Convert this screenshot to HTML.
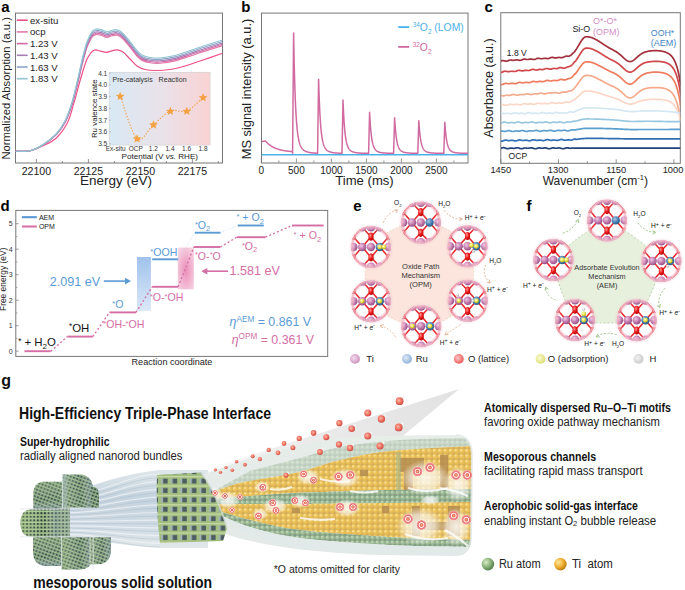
<!DOCTYPE html>
<html><head><meta charset="utf-8"><style>
html,body{margin:0;padding:0;background:#fff;width:685px;height:590px;overflow:hidden}
svg{display:block;font-family:"Liberation Sans",sans-serif}
</style></head><body>
<svg width="685" height="590" viewBox="0 0 685 590" font-family="Liberation Sans, sans-serif">
<rect width="685" height="590" fill="#fff"/>
<text x="1.2" y="11.8" font-size="15" fill="#000" text-anchor="start" font-weight="bold" >a</text>
<rect x="15.5" y="13.1" width="207" height="149.9" fill="none" stroke="#777" stroke-width="1"/>
<line x1="36.4" y1="163" x2="36.4" y2="159" stroke="#777" stroke-width="0.8"/>
<line x1="62.4" y1="163" x2="62.4" y2="161" stroke="#777" stroke-width="0.8"/>
<text x="36.4" y="175" font-size="10.6" fill="#222" text-anchor="middle" font-weight="normal" >22100</text>
<line x1="88.4" y1="163" x2="88.4" y2="159" stroke="#777" stroke-width="0.8"/>
<line x1="114.4" y1="163" x2="114.4" y2="161" stroke="#777" stroke-width="0.8"/>
<text x="88.4" y="175" font-size="10.6" fill="#222" text-anchor="middle" font-weight="normal" >22125</text>
<line x1="140.4" y1="163" x2="140.4" y2="159" stroke="#777" stroke-width="0.8"/>
<line x1="166.4" y1="163" x2="166.4" y2="161" stroke="#777" stroke-width="0.8"/>
<text x="140.4" y="175" font-size="10.6" fill="#222" text-anchor="middle" font-weight="normal" >22150</text>
<line x1="192.4" y1="163" x2="192.4" y2="159" stroke="#777" stroke-width="0.8"/>
<line x1="218.4" y1="163" x2="218.4" y2="161" stroke="#777" stroke-width="0.8"/>
<text x="192.4" y="175" font-size="10.6" fill="#222" text-anchor="middle" font-weight="normal" >22175</text>
<text x="116" y="185.3" font-size="13.5" fill="#222" text-anchor="middle" font-weight="normal" >Energy (eV)</text>
<text transform="translate(9.6,88.3) rotate(-90)" font-size="11.25" fill="#222" text-anchor="middle">Normalized Absorption (a.u.)</text>
<line x1="16.8" y1="20.2" x2="27.7" y2="20.2" stroke="#ee4f86" stroke-width="1.6"/>
<text x="30" y="23.7" font-size="9.6" fill="#222" text-anchor="start" font-weight="normal" >ex-situ</text>
<line x1="16.8" y1="31.9" x2="27.7" y2="31.9" stroke="#e37aa8" stroke-width="1.6"/>
<text x="30" y="35.4" font-size="9.6" fill="#222" text-anchor="start" font-weight="normal" >ocp</text>
<line x1="16.8" y1="43.599999999999994" x2="27.7" y2="43.599999999999994" stroke="#d36aa8" stroke-width="1.6"/>
<text x="30" y="47.099999999999994" font-size="9.6" fill="#222" text-anchor="start" font-weight="normal" >1.23 V</text>
<line x1="16.8" y1="55.3" x2="27.7" y2="55.3" stroke="#a67fb5" stroke-width="1.6"/>
<text x="30" y="58.8" font-size="9.6" fill="#222" text-anchor="start" font-weight="normal" >1.43 V</text>
<line x1="16.8" y1="67.0" x2="27.7" y2="67.0" stroke="#8da5c8" stroke-width="1.6"/>
<text x="30" y="70.5" font-size="9.6" fill="#222" text-anchor="start" font-weight="normal" >1.63 V</text>
<line x1="16.8" y1="78.7" x2="27.7" y2="78.7" stroke="#93c4d3" stroke-width="1.6"/>
<text x="30" y="82.2" font-size="9.6" fill="#222" text-anchor="start" font-weight="normal" >1.83 V</text>
<clipPath id="ca"><rect x="15.5" y="13" width="207" height="150"/></clipPath>
<g clip-path="url(#ca)" fill="none">
<path d="M15.50,151.20 C17.92,151.13 25.38,151.72 30.00,150.80 C34.62,149.88 38.80,147.83 43.20,145.70 C47.60,143.57 52.35,141.85 56.40,138.00 C60.45,134.15 64.57,128.48 67.50,122.60 C70.43,116.72 71.80,110.05 74.00,102.70 C76.20,95.35 78.48,85.85 80.70,78.50 C82.92,71.15 85.08,63.32 87.30,58.60 C89.52,53.88 91.80,51.43 94.00,50.20 C96.20,48.97 98.38,50.85 100.50,51.20 C102.62,51.55 104.78,52.37 106.70,52.30 C108.62,52.23 110.28,51.22 112.00,50.80 C113.72,50.38 115.17,49.60 117.00,49.80 C118.83,50.00 120.83,50.47 123.00,52.00 C125.17,53.53 127.67,56.67 130.00,59.00 C132.33,61.33 134.50,64.25 137.00,66.00 C139.50,67.75 142.00,68.75 145.00,69.50 C148.00,70.25 150.83,70.50 155.00,70.50 C159.17,70.50 165.00,70.25 170.00,69.50 C175.00,68.75 180.00,67.42 185.00,66.00 C190.00,64.58 193.75,63.12 200.00,61.00 C206.25,58.88 218.75,54.58 222.50,53.30" stroke="#ee4f86" stroke-width="1.2"/>
<path d="M15.50,151.20 C17.92,151.14 25.38,151.85 30.00,150.81 C34.62,149.77 38.80,147.66 43.20,144.96 C47.60,142.25 52.72,138.38 56.40,134.57 C60.08,130.77 62.72,126.98 65.30,122.11 C67.88,117.25 69.88,111.65 71.90,105.40 C73.92,99.16 75.57,91.92 77.40,84.64 C79.23,77.35 81.25,68.04 82.90,61.70 C84.55,55.36 85.78,50.70 87.30,46.60 C88.82,42.50 90.55,39.10 92.00,37.10 C93.45,35.10 94.50,34.92 96.00,34.60 C97.50,34.28 99.17,34.73 101.00,35.20 C102.83,35.67 105.17,37.30 107.00,37.40 C108.83,37.50 110.33,36.15 112.00,35.80 C113.67,35.45 115.33,34.92 117.00,35.30 C118.67,35.68 119.83,36.13 122.00,38.10 C124.17,40.07 127.50,44.10 130.00,47.10 C132.50,50.10 135.00,53.89 137.00,56.10 C139.00,58.31 139.83,59.27 142.00,60.38 C144.17,61.48 147.00,62.26 150.00,62.74 C153.00,63.21 155.83,63.52 160.00,63.21 C164.17,62.89 170.00,62.03 175.00,60.85 C180.00,59.66 185.00,57.72 190.00,56.10 C195.00,54.48 199.58,52.85 205.00,51.10 C210.42,49.35 219.58,46.52 222.50,45.60" stroke="#e37aa8" stroke-width="1.15"/>
<path d="M15.50,151.20 C17.92,151.13 25.38,151.86 30.00,150.81 C34.62,149.75 38.80,147.62 43.20,144.88 C47.60,142.13 52.72,138.21 56.40,134.35 C60.08,130.49 62.72,126.64 65.30,121.72 C67.88,116.79 69.88,111.11 71.90,104.78 C73.92,98.44 75.57,91.11 77.40,83.72 C79.23,76.34 81.25,66.87 82.90,60.47 C84.55,54.06 85.78,49.41 87.30,45.30 C88.82,41.19 90.55,37.80 92.00,35.80 C93.45,33.80 94.50,33.62 96.00,33.30 C97.50,32.98 99.17,33.43 101.00,33.90 C102.83,34.37 105.17,36.00 107.00,36.10 C108.83,36.20 110.33,34.85 112.00,34.50 C113.67,34.15 115.33,33.62 117.00,34.00 C118.67,34.38 119.83,34.83 122.00,36.80 C124.17,38.77 127.50,42.80 130.00,45.80 C132.50,48.80 135.00,52.58 137.00,54.80 C139.00,57.02 139.83,58.01 142.00,59.13 C144.17,60.25 147.00,61.04 150.00,61.52 C153.00,62.00 155.83,62.32 160.00,62.00 C164.17,61.68 170.00,60.81 175.00,59.61 C180.00,58.41 185.00,56.43 190.00,54.80 C195.00,53.17 199.58,51.55 205.00,49.80 C210.42,48.05 219.58,45.22 222.50,44.30" stroke="#d36aa8" stroke-width="1.15"/>
<path d="M15.50,151.20 C17.92,151.13 25.38,151.87 30.00,150.81 C34.62,149.74 38.80,147.57 43.20,144.79 C47.60,142.01 52.72,138.03 56.40,134.12 C60.08,130.21 62.72,126.31 65.30,121.32 C67.88,116.32 69.88,110.57 71.90,104.15 C73.92,97.73 75.57,90.29 77.40,82.81 C79.23,75.32 81.25,65.71 82.90,59.24 C84.55,52.77 85.78,48.12 87.30,44.00 C88.82,39.88 90.55,36.50 92.00,34.50 C93.45,32.50 94.50,32.32 96.00,32.00 C97.50,31.68 99.17,32.13 101.00,32.60 C102.83,33.07 105.17,34.70 107.00,34.80 C108.83,34.90 110.33,33.55 112.00,33.20 C113.67,32.85 115.33,32.32 117.00,32.70 C118.67,33.08 119.83,33.53 122.00,35.50 C124.17,37.47 127.50,41.50 130.00,44.50 C132.50,47.50 135.00,51.27 137.00,53.50 C139.00,55.73 139.83,56.75 142.00,57.88 C144.17,59.01 147.00,59.82 150.00,60.30 C153.00,60.79 155.83,61.11 160.00,60.79 C164.17,60.47 170.00,59.58 175.00,58.37 C180.00,57.15 185.00,55.14 190.00,53.50 C195.00,51.86 199.58,50.25 205.00,48.50 C210.42,46.75 219.58,43.92 222.50,43.00" stroke="#a67fb5" stroke-width="1.15"/>
<path d="M15.50,151.20 C17.92,151.13 25.38,151.89 30.00,150.80 C34.62,149.72 38.80,147.52 43.20,144.70 C47.60,141.87 52.72,137.83 56.40,133.86 C60.08,129.89 62.72,125.93 65.30,120.86 C67.88,115.79 69.88,109.94 71.90,103.42 C73.92,96.91 75.57,89.36 77.40,81.75 C79.23,74.15 81.25,64.36 82.90,57.82 C84.55,51.28 85.78,46.64 87.30,42.50 C88.82,38.36 90.55,35.00 92.00,33.00 C93.45,31.00 94.50,30.82 96.00,30.50 C97.50,30.18 99.17,30.63 101.00,31.10 C102.83,31.57 105.17,33.20 107.00,33.30 C108.83,33.40 110.33,32.05 112.00,31.70 C113.67,31.35 115.33,30.82 117.00,31.20 C118.67,31.58 119.83,32.03 122.00,34.00 C124.17,35.97 127.50,40.00 130.00,43.00 C132.50,46.00 135.00,49.76 137.00,52.00 C139.00,54.24 139.83,55.29 142.00,56.44 C144.17,57.59 147.00,58.41 150.00,58.90 C153.00,59.40 155.83,59.72 160.00,59.40 C164.17,59.07 170.00,58.16 175.00,56.93 C180.00,55.70 185.00,53.66 190.00,52.00 C195.00,50.34 199.58,48.75 205.00,47.00 C210.42,45.25 219.58,42.42 222.50,41.50" stroke="#8da5c8" stroke-width="1.15"/>
<path d="M15.50,151.20 C17.92,151.13 25.38,151.90 30.00,150.80 C34.62,149.70 38.80,147.47 43.20,144.60 C47.60,141.73 52.72,137.63 56.40,133.60 C60.08,129.57 62.72,125.55 65.30,120.40 C67.88,115.25 69.88,109.32 71.90,102.70 C73.92,96.08 75.57,88.42 77.40,80.70 C79.23,72.98 81.25,63.02 82.90,56.40 C84.55,49.78 85.78,45.15 87.30,41.00 C88.82,36.85 90.55,33.50 92.00,31.50 C93.45,29.50 94.50,29.32 96.00,29.00 C97.50,28.68 99.17,29.13 101.00,29.60 C102.83,30.07 105.17,31.70 107.00,31.80 C108.83,31.90 110.33,30.55 112.00,30.20 C113.67,29.85 115.33,29.32 117.00,29.70 C118.67,30.08 119.83,30.53 122.00,32.50 C124.17,34.47 127.50,38.50 130.00,41.50 C132.50,44.50 135.00,48.25 137.00,50.50 C139.00,52.75 139.83,53.83 142.00,55.00 C144.17,56.17 147.00,57.00 150.00,57.50 C153.00,58.00 155.83,58.33 160.00,58.00 C164.17,57.67 170.00,56.75 175.00,55.50 C180.00,54.25 185.00,52.17 190.00,50.50 C195.00,48.83 199.58,47.25 205.00,45.50 C210.42,43.75 219.58,40.92 222.50,40.00" stroke="#93c4d3" stroke-width="1.15"/>
</g>
<linearGradient id="ginset" x1="0" x2="1" y1="0" y2="0"><stop offset="0" stop-color="#d9e9f4"/><stop offset="0.5" stop-color="#e9e2ea"/><stop offset="1" stop-color="#f9d3d3"/></linearGradient>
<rect x="109.1" y="72.2" width="101" height="72.9" fill="url(#ginset)" stroke="#c8c8c8" stroke-width="0.5"/>
<text x="107.3" y="75.5" font-size="6.6" fill="#333" text-anchor="end" font-weight="normal" >4.1</text>
<line x1="109.1" y1="73.2" x2="111" y2="73.2" stroke="#999" stroke-width="0.5"/>
<text x="107.3" y="87.25" font-size="6.6" fill="#333" text-anchor="end" font-weight="normal" >4.0</text>
<line x1="109.1" y1="84.95" x2="111" y2="84.95" stroke="#999" stroke-width="0.5"/>
<text x="107.3" y="99.0" font-size="6.6" fill="#333" text-anchor="end" font-weight="normal" >3.9</text>
<line x1="109.1" y1="96.7" x2="111" y2="96.7" stroke="#999" stroke-width="0.5"/>
<text x="107.3" y="110.75" font-size="6.6" fill="#333" text-anchor="end" font-weight="normal" >3.8</text>
<line x1="109.1" y1="108.45" x2="111" y2="108.45" stroke="#999" stroke-width="0.5"/>
<text x="107.3" y="122.5" font-size="6.6" fill="#333" text-anchor="end" font-weight="normal" >3.7</text>
<line x1="109.1" y1="120.2" x2="111" y2="120.2" stroke="#999" stroke-width="0.5"/>
<text x="107.3" y="134.25" font-size="6.6" fill="#333" text-anchor="end" font-weight="normal" >3.6</text>
<line x1="109.1" y1="131.95" x2="111" y2="131.95" stroke="#999" stroke-width="0.5"/>
<text x="107.3" y="146.0" font-size="6.6" fill="#333" text-anchor="end" font-weight="normal" >3.5</text>
<line x1="109.1" y1="143.7" x2="111" y2="143.7" stroke="#999" stroke-width="0.5"/>
<text transform="translate(97.3,108.7) rotate(-90)" font-size="7.9" fill="#222" text-anchor="middle">Ru valence state</text>
<text x="115.7" y="151.2" font-size="6.5" fill="#333" text-anchor="middle" font-weight="normal" >Ex-situ</text>
<text x="135.7" y="151.2" font-size="6.5" fill="#333" text-anchor="middle" font-weight="normal" >OCP</text>
<text x="153.3" y="151.2" font-size="6.5" fill="#333" text-anchor="middle" font-weight="normal" >1.2</text>
<text x="170" y="151.2" font-size="6.5" fill="#333" text-anchor="middle" font-weight="normal" >1.4</text>
<text x="186.6" y="151.2" font-size="6.5" fill="#333" text-anchor="middle" font-weight="normal" >1.6</text>
<text x="203" y="151.2" font-size="6.5" fill="#333" text-anchor="middle" font-weight="normal" >1.8</text>
<text x="159.8" y="158.9" font-size="8.1" fill="#222" text-anchor="middle" font-weight="normal" >Potential (V <tspan font-style="italic">vs.</tspan> RHE)</text>
<text x="112.6" y="82.2" font-size="7.0" fill="#333" text-anchor="start" font-weight="normal" >Pre-catalysis</text>
<text x="158.6" y="82.2" font-size="7.1" fill="#333" text-anchor="start" font-weight="normal" >Reaction</text>
<path d="M120.20,96.10 C123.02,103.18 131.55,133.83 137.10,138.60 C142.65,143.37 147.95,129.30 153.50,124.70 C159.05,120.10 164.85,113.28 170.40,111.00 C175.95,108.72 181.35,113.28 186.80,111.00 C192.25,108.72 200.38,99.58 203.10,97.30" fill="none" stroke="#f4a04a" stroke-width="1.1" stroke-dasharray="1.4,1.6"/>
<polygon points="120.20,91.80 121.42,94.73 124.57,94.98 122.17,97.04 122.90,100.12 120.20,98.47 117.50,100.12 118.23,97.04 115.83,94.98 118.98,94.73" fill="#f5a042"/>
<polygon points="137.10,134.30 138.32,137.23 141.47,137.48 139.07,139.54 139.80,142.62 137.10,140.97 134.40,142.62 135.13,139.54 132.73,137.48 135.88,137.23" fill="#f5a042"/>
<polygon points="153.50,120.40 154.72,123.33 157.87,123.58 155.47,125.64 156.20,128.72 153.50,127.07 150.80,128.72 151.53,125.64 149.13,123.58 152.28,123.33" fill="#f5a042"/>
<polygon points="170.40,106.70 171.62,109.63 174.77,109.88 172.37,111.94 173.10,115.02 170.40,113.37 167.70,115.02 168.43,111.94 166.03,109.88 169.18,109.63" fill="#f5a042"/>
<polygon points="186.80,106.70 188.02,109.63 191.17,109.88 188.77,111.94 189.50,115.02 186.80,113.37 184.10,115.02 184.83,111.94 182.43,109.88 185.58,109.63" fill="#f5a042"/>
<polygon points="203.10,93.00 204.32,95.93 207.47,96.18 205.07,98.24 205.80,101.32 203.10,99.67 200.40,101.32 201.13,98.24 198.73,96.18 201.88,95.93" fill="#f5a042"/>
<text x="241.2" y="11.8" font-size="15" fill="#000" text-anchor="start" font-weight="bold" >b</text>
<rect x="261.5" y="13.1" width="206.5" height="149.9" fill="none" stroke="#777" stroke-width="1"/>
<line x1="261.4" y1="162.5" x2="261.4" y2="158.5" stroke="#777" stroke-width="0.8"/>
<line x1="278.9" y1="162.5" x2="278.9" y2="160.5" stroke="#777" stroke-width="0.8"/>
<text x="261.4" y="174.0" font-size="10.0" fill="#222" text-anchor="middle" font-weight="normal" >0</text>
<line x1="296.4" y1="162.5" x2="296.4" y2="158.5" stroke="#777" stroke-width="0.8"/>
<line x1="313.9" y1="162.5" x2="313.9" y2="160.5" stroke="#777" stroke-width="0.8"/>
<text x="296.4" y="174.0" font-size="10.0" fill="#222" text-anchor="middle" font-weight="normal" >500</text>
<line x1="331.4" y1="162.5" x2="331.4" y2="158.5" stroke="#777" stroke-width="0.8"/>
<line x1="348.9" y1="162.5" x2="348.9" y2="160.5" stroke="#777" stroke-width="0.8"/>
<text x="331.4" y="174.0" font-size="10.0" fill="#222" text-anchor="middle" font-weight="normal" >1000</text>
<line x1="366.4" y1="162.5" x2="366.4" y2="158.5" stroke="#777" stroke-width="0.8"/>
<line x1="383.9" y1="162.5" x2="383.9" y2="160.5" stroke="#777" stroke-width="0.8"/>
<text x="366.4" y="174.0" font-size="10.0" fill="#222" text-anchor="middle" font-weight="normal" >1500</text>
<line x1="401.4" y1="162.5" x2="401.4" y2="158.5" stroke="#777" stroke-width="0.8"/>
<line x1="418.9" y1="162.5" x2="418.9" y2="160.5" stroke="#777" stroke-width="0.8"/>
<text x="401.4" y="174.0" font-size="10.0" fill="#222" text-anchor="middle" font-weight="normal" >2000</text>
<line x1="436.4" y1="162.5" x2="436.4" y2="158.5" stroke="#777" stroke-width="0.8"/>
<line x1="453.9" y1="162.5" x2="453.9" y2="160.5" stroke="#777" stroke-width="0.8"/>
<text x="436.4" y="174.0" font-size="10.0" fill="#222" text-anchor="middle" font-weight="normal" >2500</text>
<text x="364.5" y="184.9" font-size="13.1" fill="#222" text-anchor="middle" font-weight="normal" >Time (ms)</text>
<text transform="translate(250.6,89) rotate(-90)" font-size="12.85" fill="#222" text-anchor="middle">MS signal intensity (a.u.)</text>
<line x1="398.2" y1="27.1" x2="409.2" y2="27.1" stroke="#4cb1e6" stroke-width="1.8"/>
<line x1="398.2" y1="46.9" x2="409.2" y2="46.9" stroke="#d06aa0" stroke-width="1.8"/>
<text x="412.7" y="31.2" font-size="10.4" fill="#4cb1e6"><tspan font-size="6.4" dy="-4">34</tspan><tspan dy="4">O</tspan><tspan font-size="6.4" dy="3">2</tspan><tspan dy="-3"> (LOM)</tspan></text>
<text x="412.7" y="51.0" font-size="10.4" fill="#d06aa0"><tspan font-size="6.4" dy="-4">32</tspan><tspan dy="4">O</tspan><tspan font-size="6.4" dy="3">2</tspan></text>
<clipPath id="cb"><rect x="261.5" y="13" width="206.5" height="149.5"/></clipPath>
<g clip-path="url(#cb)">
<polyline points="261.40,141.60 261.65,141.56 261.90,141.53 262.15,141.49 262.40,141.45 262.65,141.41 262.90,141.38 263.15,141.34 263.40,141.30 263.65,141.26 263.90,141.22 264.15,141.19 264.40,141.15 264.65,141.11 264.90,141.07 265.15,141.04 265.40,141.00 265.65,141.28 265.90,141.56 266.15,141.82 266.40,142.08 266.65,142.34 266.90,142.59 267.15,142.83 267.40,143.07 267.65,143.30 267.90,143.52 268.15,143.74 268.40,143.95 268.65,144.16 268.90,144.37 269.15,144.56 269.40,144.76 269.65,144.95 269.90,145.13 270.15,145.31 270.40,145.49 270.65,145.66 270.90,145.82 271.15,145.99 271.40,146.14 271.65,146.30 271.90,146.45 272.15,146.60 272.40,146.74 272.65,146.88 272.90,147.02 273.15,147.15 273.40,147.28 273.65,147.40 273.90,147.53 274.15,147.65 274.40,147.77 274.65,147.88 274.90,147.99 275.15,148.10 275.40,148.21 275.65,148.31 275.90,148.41 276.15,148.51 276.40,148.61 276.65,148.70 276.90,148.79 277.15,148.88 277.40,148.97 277.65,149.05 277.90,149.13 278.15,149.21 278.40,149.29 278.65,149.37 278.90,149.44 279.15,149.52 279.40,149.59 279.65,149.66 279.90,149.73 280.15,149.79 280.40,149.86 280.65,149.92 280.90,149.98 281.15,150.04 281.40,150.10 281.65,150.16 281.90,150.21 282.15,150.26 282.40,150.32 282.65,150.37 282.90,150.42 283.15,150.47 283.40,150.52 283.65,150.56 283.90,150.61 284.15,150.65 284.40,150.69 284.65,150.74 284.90,150.78 285.15,150.82 285.40,150.86 285.65,150.90 285.90,150.93 286.15,150.97 286.40,151.00 286.65,151.04 286.90,151.07 287.15,151.10 287.40,151.14 287.65,151.17 287.90,151.20 288.15,151.23 288.40,151.26 288.65,151.29 288.90,151.31 289.15,151.34 289.40,151.37 289.65,151.39 289.90,151.42 290.15,151.44 290.40,151.46 290.65,151.49 290.90,151.51 291.15,151.53 291.40,151.55 291.65,151.57 291.90,151.59 292.15,151.61 292.40,151.63 292.60,153.40 292.65,147.38 292.90,117.25 293.15,87.13 293.40,57.00 293.60,32.90 293.65,35.82 293.90,49.33 294.15,61.17 294.40,71.56 294.65,80.68 294.90,88.69 295.15,95.73 295.40,101.92 295.65,107.37 295.90,112.17 296.15,116.41 296.40,120.15 296.65,123.46 296.90,126.39 297.15,128.99 297.40,131.29 297.65,133.34 297.90,135.16 298.15,136.78 298.40,138.23 298.65,139.52 298.90,140.68 299.15,141.73 299.40,142.66 299.65,143.50 299.90,144.26 300.15,144.95 300.40,145.57 300.65,146.14 300.90,146.65 301.15,147.12 301.40,147.55 301.65,147.94 301.90,148.29 302.15,148.62 302.40,148.92 302.65,149.20 302.90,149.46 303.15,149.70 303.40,149.92 303.65,150.12 303.90,150.31 304.15,150.49 304.40,150.65 304.65,150.81 304.90,150.95 305.15,151.09 305.40,151.21 305.65,151.33 305.90,151.44 306.15,151.54 306.40,151.64 306.65,151.73 306.90,151.82 307.15,151.90 307.40,151.98 307.65,152.05 307.90,152.12 308.15,152.19 308.40,152.25 308.65,152.31 308.90,152.36 309.15,152.42 309.40,152.46 309.65,152.51 309.90,152.56 310.15,152.60 310.40,152.64 310.65,152.68 310.90,152.71 311.15,152.75 311.40,152.78 311.65,152.81 311.90,152.84 312.15,152.87 312.40,152.89 312.65,152.92 312.90,152.94 313.15,152.96 313.40,152.98 313.65,153.01 313.90,153.02 314.15,153.04 314.40,153.06 314.65,153.08 314.90,153.09 315.15,153.11 315.40,153.12 315.65,153.14 315.90,153.15 316.15,153.16 316.40,153.17 316.65,153.18 316.90,153.19 317.15,153.20 317.40,153.21 317.60,153.22 317.65,149.52 317.90,131.03 318.15,112.54 318.40,94.05 318.60,79.25 318.65,81.05 318.90,89.35 319.15,96.63 319.40,103.02 319.65,108.62 319.90,113.55 320.15,117.87 320.40,121.68 320.65,125.03 320.90,127.99 321.15,130.60 321.40,132.90 321.65,134.94 321.90,136.74 322.15,138.34 322.40,139.75 322.65,141.01 322.90,142.14 323.15,143.14 323.40,144.03 323.65,144.83 323.90,145.54 324.15,146.18 324.40,146.76 324.65,147.28 324.90,147.75 325.15,148.17 325.40,148.56 325.65,148.90 325.90,149.22 326.15,149.51 326.40,149.77 326.65,150.02 326.90,150.24 327.15,150.44 327.40,150.63 327.65,150.80 327.90,150.96 328.15,151.10 328.40,151.24 328.65,151.37 328.90,151.49 329.15,151.59 329.40,151.70 329.65,151.79 329.90,151.88 330.15,151.96 330.40,152.04 330.65,152.12 330.90,152.18 331.15,152.25 331.40,152.31 331.65,152.37 331.90,152.42 332.15,152.47 332.40,152.52 332.65,152.56 332.90,152.61 333.15,152.65 333.40,152.69 333.65,152.72 333.90,152.76 334.15,152.79 334.40,152.82 334.65,152.85 334.90,152.88 335.15,152.90 335.40,152.93 335.65,152.95 335.90,152.97 336.15,152.99 336.40,153.01 336.65,153.03 336.90,153.05 337.15,153.07 337.40,153.08 337.65,153.10 337.90,153.11 338.15,153.13 338.40,153.14 338.65,153.15 338.90,153.17 339.15,153.18 339.40,153.19 339.65,153.20 339.90,153.21 340.15,153.22 340.40,153.23 340.65,153.24 340.90,153.24 341.15,153.25 341.40,153.26 341.65,153.27 341.90,153.27 342.00,153.27 342.15,145.28 342.40,131.96 342.65,118.65 342.90,105.33 343.00,100.00 343.15,103.78 343.40,109.45 343.65,114.43 343.90,118.79 344.15,122.62 344.40,125.99 344.65,128.95 344.90,131.56 345.15,133.86 345.40,135.88 345.65,137.67 345.90,139.24 346.15,140.64 346.40,141.88 346.65,142.97 346.90,143.95 347.15,144.81 347.40,145.59 347.65,146.27 347.90,146.89 348.15,147.44 348.40,147.93 348.65,148.37 348.90,148.77 349.15,149.13 349.40,149.46 349.65,149.75 349.90,150.01 350.15,150.26 350.40,150.48 350.65,150.68 350.90,150.86 351.15,151.03 351.40,151.18 351.65,151.32 351.90,151.45 352.15,151.57 352.40,151.68 352.65,151.79 352.90,151.88 353.15,151.97 353.40,152.05 353.65,152.13 353.90,152.20 354.15,152.27 354.40,152.33 354.65,152.39 354.90,152.44 355.15,152.50 355.40,152.54 355.65,152.59 355.90,152.63 356.15,152.67 356.40,152.71 356.65,152.75 356.90,152.78 357.15,152.81 357.40,152.84 357.65,152.87 357.90,152.90 358.15,152.92 358.40,152.95 358.65,152.97 358.90,152.99 359.15,153.01 359.40,153.03 359.65,153.05 359.90,153.07 360.15,153.08 360.40,153.10 360.65,153.11 360.90,153.13 361.15,153.14 361.40,153.15 361.65,153.17 361.90,153.18 362.15,153.19 362.40,153.20 362.65,153.21 362.90,153.22 363.15,153.23 363.40,153.24 363.65,153.24 363.90,153.25 364.15,153.26 364.40,153.27 364.65,153.27 364.90,153.28 365.15,153.28 365.40,153.29 365.65,153.30 365.90,153.30 366.15,153.31 366.40,153.31 366.65,153.31 366.90,153.32 367.15,153.32 367.40,153.33 367.65,153.33 367.90,153.33 368.15,153.34 368.40,153.34 368.60,153.34 368.65,151.29 368.90,141.02 369.15,130.74 369.40,120.47 369.60,112.25 369.65,113.25 369.90,117.86 370.15,121.90 370.40,125.45 370.65,128.56 370.90,131.29 371.15,133.69 371.40,135.81 371.65,137.67 371.90,139.31 372.15,140.76 372.40,142.03 372.65,143.16 372.90,144.16 373.15,145.05 373.40,145.84 373.65,146.54 373.90,147.16 374.15,147.71 374.40,148.21 374.65,148.65 374.90,149.05 375.15,149.40 375.40,149.72 375.65,150.01 375.90,150.27 376.15,150.51 376.40,150.72 376.65,150.91 376.90,151.09 377.15,151.25 377.40,151.39 377.65,151.53 377.90,151.65 378.15,151.76 378.40,151.87 378.65,151.96 378.90,152.05 379.15,152.13 379.40,152.21 379.65,152.28 379.90,152.34 380.15,152.40 380.40,152.46 380.65,152.51 380.90,152.56 381.15,152.61 381.40,152.65 381.65,152.69 381.90,152.73 382.15,152.76 382.40,152.80 382.65,152.83 382.90,152.86 383.15,152.89 383.40,152.91 383.65,152.94 383.90,152.96 384.15,152.98 384.40,153.01 384.65,153.03 384.90,153.04 385.15,153.06 385.40,153.08 385.65,153.10 385.90,153.11 386.15,153.12 386.40,153.14 386.65,153.15 386.90,153.16 387.15,153.18 387.40,153.19 387.65,153.20 387.90,153.21 388.15,153.22 388.40,153.23 388.65,153.23 388.90,153.24 389.15,153.25 389.40,153.26 389.65,153.26 389.90,153.27 390.15,153.28 390.40,153.28 390.65,153.29 390.90,153.29 391.15,153.30 391.40,153.30 391.65,153.31 391.90,153.31 392.15,153.32 392.40,153.32 392.65,153.33 392.90,153.33 393.15,153.33 393.40,153.34 393.60,153.34 393.65,151.56 393.90,142.69 394.15,133.82 394.40,124.95 394.60,117.85 394.65,118.71 394.90,122.69 395.15,126.18 395.40,129.25 395.65,131.94 395.90,134.30 396.15,136.37 396.40,138.20 396.65,139.81 396.90,141.22 397.15,142.47 397.40,143.58 397.65,144.55 397.90,145.42 398.15,146.18 398.40,146.86 398.65,147.47 398.90,148.00 399.15,148.48 399.40,148.91 399.65,149.29 399.90,149.64 400.15,149.94 400.40,150.22 400.65,150.47 400.90,150.69 401.15,150.90 401.40,151.08 401.65,151.25 401.90,151.40 402.15,151.54 402.40,151.66 402.65,151.78 402.90,151.89 403.15,151.98 403.40,152.07 403.65,152.16 403.90,152.23 404.15,152.30 404.40,152.37 404.65,152.43 404.90,152.48 405.15,152.54 405.40,152.59 405.65,152.63 405.90,152.67 406.15,152.71 406.40,152.75 406.65,152.79 406.90,152.82 407.15,152.85 407.40,152.88 407.65,152.91 407.90,152.93 408.15,152.96 408.40,152.98 408.65,153.00 408.90,153.02 409.15,153.04 409.40,153.06 409.65,153.08 409.90,153.09 410.15,153.11 410.40,153.12 410.65,153.14 410.90,153.15 411.15,153.16 411.40,153.17 411.65,153.18 411.90,153.20 412.15,153.21 412.40,153.22 412.65,153.22 412.90,153.23 413.15,153.24 413.40,153.25 413.65,153.26 413.90,153.26 414.15,153.27 414.40,153.28 414.65,153.28 414.90,153.29 415.15,153.29 415.40,153.30 415.65,153.30 415.90,153.31 416.15,153.31 416.40,153.32 416.65,153.32 416.90,153.33 417.15,153.33 417.40,153.33 417.65,153.34 417.80,153.34 417.90,150.07 418.15,141.90 418.40,133.72 418.65,125.55 418.80,120.65 418.90,122.22 419.15,125.79 419.40,128.92 419.65,131.67 419.90,134.08 420.15,136.20 420.40,138.07 420.65,139.71 420.90,141.15 421.15,142.42 421.40,143.55 421.65,144.54 421.90,145.42 422.15,146.19 422.40,146.88 422.65,147.49 422.90,148.04 423.15,148.52 423.40,148.95 423.65,149.34 423.90,149.68 424.15,149.99 424.40,150.27 424.65,150.52 424.90,150.74 425.15,150.95 425.40,151.13 425.65,151.29 425.90,151.45 426.15,151.58 426.40,151.71 426.65,151.82 426.90,151.93 427.15,152.02 427.40,152.11 427.65,152.19 427.90,152.27 428.15,152.34 428.40,152.40 428.65,152.46 428.90,152.51 429.15,152.57 429.40,152.61 429.65,152.66 429.90,152.70 430.15,152.74 430.40,152.77 430.65,152.81 430.90,152.84 431.15,152.87 431.40,152.90 431.65,152.92 431.90,152.95 432.15,152.97 432.40,152.99 432.65,153.02 432.90,153.04 433.15,153.05 433.40,153.07 433.65,153.09 433.90,153.10 434.15,153.12 434.40,153.13 434.65,153.15 434.90,153.16 435.15,153.17 435.40,153.18 435.65,153.19 435.90,153.20 436.15,153.21 436.40,153.22 436.65,153.23 436.90,153.24 437.15,153.25 437.40,153.26 437.65,153.26 437.90,153.27 438.15,153.28 438.40,153.28 438.65,153.29 438.90,153.29 439.15,153.30 439.40,153.30 439.65,153.31 439.90,153.31 440.15,153.32 440.40,153.32 440.65,153.32 440.90,153.33 441.15,153.33 441.40,153.34 441.65,153.34 441.90,153.34 442.15,153.34 442.40,153.35 442.65,153.35 442.90,153.35 443.15,153.35 443.40,153.36 443.65,153.36 443.80,153.36 443.90,150.24 444.15,142.44 444.40,134.64 444.65,126.85 444.80,122.17 444.90,123.66 445.15,127.07 445.40,130.06 445.65,132.68 445.90,134.98 446.15,137.00 446.40,138.78 446.65,140.34 446.90,141.72 447.15,142.94 447.40,144.01 447.65,144.95 447.90,145.79 448.15,146.53 448.40,147.19 448.65,147.77 448.90,148.29 449.15,148.75 449.40,149.16 449.65,149.53 449.90,149.86 450.15,150.15 450.40,150.42 450.65,150.65 450.90,150.87 451.15,151.06 451.40,151.24 451.65,151.40 451.90,151.54 452.15,151.67 452.40,151.79 452.65,151.90 452.90,152.00 453.15,152.09 453.40,152.17 453.65,152.25 453.90,152.32 454.15,152.39 454.40,152.45 454.65,152.50 454.90,152.56 455.15,152.61 455.40,152.65 455.65,152.69 455.90,152.73 456.15,152.77 456.40,152.80 456.65,152.84 456.90,152.87 457.15,152.90 457.40,152.92 457.65,152.95 457.90,152.97 458.15,152.99 458.40,153.01 458.65,153.03 458.90,153.05 459.15,153.07 459.40,153.09 459.65,153.10 459.90,153.12 460.15,153.13 460.40,153.15 460.65,153.16 460.90,153.17 461.15,153.18 461.40,153.19 461.65,153.20 461.90,153.21 462.15,153.22 462.40,153.23 462.65,153.24 462.90,153.25 463.15,153.26 463.40,153.26 463.65,153.27 463.90,153.28 464.15,153.28 464.40,153.29 464.65,153.29 464.90,153.30 465.15,153.30 465.40,153.31 465.65,153.31 465.90,153.32 466.15,153.32 466.40,153.32 466.65,153.33 466.90,153.33 467.15,153.34 467.40,153.34 467.65,153.34 467.90,153.34" fill="none" stroke="#d06aa0" stroke-width="1.5" stroke-linejoin="round"/>
<line x1="261.5" y1="154.8" x2="468" y2="154.8" stroke="#4cb1e6" stroke-width="1.6"/>
</g>
<text x="484.5" y="11.8" font-size="15" fill="#000" text-anchor="start" font-weight="bold" >c</text>
<rect x="500.8" y="12.7" width="179.5" height="150.6" fill="none" stroke="#777" stroke-width="1"/>
<line x1="500.8" y1="163.3" x2="500.8" y2="159.3" stroke="#777" stroke-width="0.8"/>
<line x1="529.65" y1="163.3" x2="529.65" y2="161.3" stroke="#777" stroke-width="0.8"/>
<line x1="558.5" y1="163.3" x2="558.5" y2="159.3" stroke="#777" stroke-width="0.8"/>
<line x1="587.35" y1="163.3" x2="587.35" y2="161.3" stroke="#777" stroke-width="0.8"/>
<line x1="616.2" y1="163.3" x2="616.2" y2="159.3" stroke="#777" stroke-width="0.8"/>
<line x1="645.0500000000001" y1="163.3" x2="645.0500000000001" y2="161.3" stroke="#777" stroke-width="0.8"/>
<line x1="673.9000000000001" y1="163.3" x2="673.9000000000001" y2="159.3" stroke="#777" stroke-width="0.8"/>
<line x1="702.7500000000001" y1="163.3" x2="702.7500000000001" y2="161.3" stroke="#777" stroke-width="0.8"/>
<text x="500.8" y="172.9" font-size="9.3" fill="#222" text-anchor="middle" font-weight="normal" >1450</text>
<text x="558.2" y="172.9" font-size="9.3" fill="#222" text-anchor="middle" font-weight="normal" >1300</text>
<text x="616.2" y="172.9" font-size="9.3" fill="#222" text-anchor="middle" font-weight="normal" >1150</text>
<text x="673" y="172.9" font-size="9.3" fill="#222" text-anchor="middle" font-weight="normal" >1000</text>
<text x="595.3" y="185.1" font-size="12.06" fill="#222" text-anchor="middle">Wavenumber (cm<tspan font-size="7.5" dy="-5">-1</tspan><tspan dy="5">)</tspan></text>
<text transform="translate(492.6,88) rotate(-90)" font-size="12.5" fill="#222" text-anchor="middle">Absorbance (a.u.)</text>
<text x="506.8" y="55.5" font-size="8.5" fill="#222" text-anchor="start" font-weight="normal" >1.8 V</text>
<text x="508.5" y="159.3" font-size="8.6" fill="#222" text-anchor="start" font-weight="normal" >OCP</text>
<text x="572.4" y="32.2" font-size="8.95" fill="#222" text-anchor="start" font-weight="normal" >Si-O</text>
<text x="593" y="24.0" font-size="9.0" fill="#d48fc6" text-anchor="start" font-weight="normal" >O*-O*</text>
<text x="593" y="34.8" font-size="9.0" fill="#d48fc6" text-anchor="start" font-weight="normal" >(OPM)</text>
<text x="650.8" y="35.7" font-size="8.8" fill="#3f86c6" text-anchor="start" font-weight="normal" >OOH*</text>
<text x="650.8" y="46.2" font-size="9.0" fill="#3f86c6" text-anchor="start" font-weight="normal" >(AEM)</text>
<clipPath id="cc"><rect x="500.8" y="12.7" width="179.5" height="150.6"/></clipPath>
<g clip-path="url(#cc)" fill="none">
<polyline points="500.80,60.93 501.30,60.82 501.80,60.71 502.30,60.64 502.80,60.63 503.30,60.66 503.80,60.75 504.30,60.88 504.80,61.01 505.30,61.13 505.80,61.20 506.30,61.21 506.80,61.15 507.30,61.01 507.80,60.83 508.30,60.61 508.80,60.40 509.30,60.21 509.80,60.08 510.30,60.01 510.80,60.01 511.30,60.06 511.80,60.14 512.30,60.22 512.80,60.29 513.30,60.32 513.80,60.30 514.30,60.24 514.80,60.14 515.30,60.03 515.80,59.94 516.30,59.87 516.80,59.85 517.30,59.89 517.80,59.97 518.30,60.09 518.80,60.21 519.30,60.30 519.80,60.36 520.30,60.34 520.80,60.26 521.30,60.11 521.80,59.91 522.30,59.69 522.80,59.48 523.30,59.30 523.80,59.18 524.30,59.12 524.80,59.13 525.30,59.20 525.80,59.29 526.30,59.40 526.80,59.48 527.30,59.52 527.80,59.51 528.30,59.45 528.80,59.36 529.30,59.26 529.80,59.16 530.30,59.10 530.80,59.07 531.30,59.10 531.80,59.18 532.30,59.27 532.80,59.38 533.30,59.46 533.80,59.49 534.30,59.46 534.80,59.36 535.30,59.19 535.80,58.99 536.30,58.77 536.80,58.56 537.30,58.39 537.80,58.28 538.30,58.25 538.80,58.28 539.30,58.36 539.80,58.47 540.30,58.59 540.80,58.68 541.30,58.73 541.80,58.73 542.30,58.68 542.80,58.59 543.30,58.48 543.80,58.38 544.30,58.31 544.80,58.28 545.30,58.30 545.80,58.36 546.30,58.44 546.80,58.53 547.30,58.59 547.80,58.60 548.30,58.55 548.80,58.44 549.30,58.27 549.80,58.06 550.30,57.85 550.80,57.65 551.30,57.49 551.80,57.41 552.30,57.39 552.80,57.44 553.30,57.55 553.80,57.68 554.30,57.80 554.80,57.90 555.30,57.96 555.80,57.96 556.30,57.90 556.80,57.81 557.30,57.69 557.80,57.58 558.30,57.50 558.80,57.45 559.30,57.46 559.80,57.50 560.30,57.56 560.80,57.63 561.30,57.66 561.80,57.65 562.30,57.58 562.80,57.44 563.30,57.25 563.80,57.02 564.30,56.78 564.80,56.56 565.30,56.38 565.80,56.25 566.30,56.19 566.80,56.19 567.30,56.21 567.80,56.24 568.30,56.25 568.80,56.21 569.30,56.08 569.80,55.88 570.30,55.58 570.80,55.21 571.30,54.79 571.80,54.34 572.30,53.87 572.80,53.40 573.30,52.94 573.80,52.47 574.30,51.99 574.80,51.46 575.30,50.59 575.80,49.89 576.30,49.16 576.80,48.39 577.30,47.59 577.80,46.76 578.30,45.92 578.80,45.07 579.30,44.21 579.80,43.36 580.30,42.52 580.80,41.71 581.30,40.92 581.80,40.19 582.30,39.50 582.80,38.88 583.30,38.32 583.80,37.84 584.30,37.45 584.80,37.14 585.30,36.93 585.80,36.81 586.30,36.77 586.80,36.76 587.30,36.77 587.80,36.80 588.30,36.85 588.80,36.91 589.30,36.99 589.80,37.09 590.30,37.21 590.80,37.34 591.30,37.49 591.80,37.65 592.30,37.83 592.80,38.03 593.30,38.24 593.80,38.46 594.30,38.69 594.80,38.94 595.30,39.20 595.80,39.47 596.30,39.74 596.80,40.03 597.30,40.33 597.80,40.63 598.30,40.94 598.80,41.25 599.30,41.57 599.80,41.89 600.30,42.22 600.80,42.55 601.30,42.88 601.80,43.21 602.30,43.54 602.80,43.88 603.30,44.21 603.80,44.54 604.30,44.86 604.80,45.19 605.30,45.51 605.80,45.83 606.30,46.14 606.80,46.45 607.30,46.76 607.80,47.06 608.30,47.35 608.80,47.64 609.30,47.93 609.80,48.21 610.30,48.49 610.80,48.77 611.30,49.04 611.80,49.31 612.30,49.58 612.80,49.85 613.30,50.12 613.80,50.39 614.30,50.67 614.80,50.95 615.30,51.24 615.80,51.54 616.30,51.84 616.80,52.16 617.30,52.49 617.80,52.84 618.30,53.20 618.80,53.58 619.30,53.97 619.80,54.37 620.30,54.80 620.80,55.23 621.30,55.68 621.80,56.14 622.30,56.61 622.80,57.08 623.30,57.55 623.80,58.02 624.30,58.48 624.80,58.92 625.30,59.35 625.80,59.75 626.30,60.13 626.80,60.46 627.30,60.76 627.80,61.02 628.30,61.23 628.80,61.38 629.30,61.49 629.80,61.54 630.30,61.53 630.80,61.47 631.30,61.35 631.80,61.18 632.30,60.96 632.80,60.70 633.30,60.39 633.80,60.05 634.30,59.68 634.80,59.28 635.30,58.85 635.80,58.42 636.30,57.97 636.80,57.52 637.30,57.07 637.80,56.62 638.30,56.18 638.80,55.76 639.30,55.35 639.80,54.95 640.30,54.58 640.80,54.23 641.30,53.90 641.80,53.59 642.30,53.30 642.80,53.03 643.30,52.79 643.80,52.57 644.30,52.36 644.80,52.17 645.30,52.00 645.80,51.85 646.30,51.70 646.80,51.57 647.30,51.46 647.80,51.35 648.30,51.26 648.80,51.17 649.30,51.09 649.80,51.02 650.30,50.96 650.80,50.90 651.30,50.85 651.80,50.81 652.30,50.77 652.80,50.74 653.30,50.71 653.80,50.69 654.30,50.68 654.80,50.67 655.30,50.66 655.80,50.67 656.30,50.67 656.80,50.69 657.30,50.71 657.80,50.73 658.30,50.77 658.80,50.80 659.30,50.85 659.80,50.90 660.30,50.96 660.80,51.03 661.30,51.10 661.80,51.19 662.30,51.28 662.80,51.38 663.30,51.50 663.80,51.62 664.30,51.76 664.80,51.91 665.30,52.07 665.80,52.25 666.30,52.45 666.80,52.66 667.30,52.90 667.80,53.16 668.30,53.45 668.80,53.76 669.30,54.11 669.80,54.49 670.30,54.91 670.80,55.37 671.30,55.88 671.80,56.44 672.30,57.06 672.80,57.75 673.30,58.50 673.80,59.34 674.30,60.26 674.80,61.28 675.30,62.41 675.80,63.66 676.30,65.04 676.80,66.57 677.30,68.25 677.80,70.12 678.30,72.18 678.80,74.46 679.30,76.98 679.80,79.77 680.30,82.86 680.80,86.27" stroke="#a3303c" stroke-width="1.7" stroke-linejoin="round"/>
<polyline points="500.80,72.45 501.30,72.39 501.80,72.26 502.30,72.08 502.80,71.86 503.30,71.64 503.80,71.44 504.30,71.30 504.80,71.22 505.30,71.21 505.80,71.26 506.30,71.37 506.80,71.49 507.30,71.60 507.80,71.69 508.30,71.72 508.80,71.70 509.30,71.63 509.80,71.53 510.30,71.42 510.80,71.32 511.30,71.25 511.80,71.23 512.30,71.25 512.80,71.31 513.30,71.39 513.80,71.46 514.30,71.50 514.80,71.49 515.30,71.41 515.80,71.27 516.30,71.09 516.80,70.87 517.30,70.66 517.80,70.47 518.30,70.35 518.80,70.29 519.30,70.30 519.80,70.37 520.30,70.49 520.80,70.63 521.30,70.76 521.80,70.84 522.30,70.88 522.80,70.86 523.30,70.78 523.80,70.67 524.30,70.55 524.80,70.44 525.30,70.36 525.80,70.33 526.30,70.34 526.80,70.38 527.30,70.45 527.80,70.50 528.30,70.53 528.80,70.51 529.30,70.43 529.80,70.29 530.30,70.10 530.80,69.89 531.30,69.69 531.80,69.52 532.30,69.42 532.80,69.38 533.30,69.41 533.80,69.51 534.30,69.64 534.80,69.79 535.30,69.92 535.80,70.01 536.30,70.04 536.80,70.01 537.30,69.93 537.80,69.81 538.30,69.67 538.80,69.55 539.30,69.46 539.80,69.41 540.30,69.41 540.80,69.44 541.30,69.49 541.80,69.54 542.30,69.56 542.80,69.53 543.30,69.44 543.80,69.30 544.30,69.12 544.80,68.93 545.30,68.74 545.80,68.59 546.30,68.51 546.80,68.49 547.30,68.54 547.80,68.66 548.30,68.80 548.80,68.96 549.30,69.09 549.80,69.18 550.30,69.20 550.80,69.16 551.30,69.06 551.80,68.92 552.30,68.77 552.80,68.63 553.30,68.53 553.80,68.47 554.30,68.46 554.80,68.48 555.30,68.52 555.80,68.56 556.30,68.58 556.80,68.55 557.30,68.46 557.80,68.33 558.30,68.16 558.80,67.97 559.30,67.80 559.80,67.67 560.30,67.60 560.80,67.60 561.30,67.66 561.80,67.77 562.30,67.92 562.80,68.06 563.30,68.16 563.80,68.22 564.30,68.20 564.80,68.10 565.30,67.94 565.80,67.73 566.30,67.50 566.80,67.27 567.30,67.07 567.80,66.89 568.30,66.74 568.80,66.62 569.30,66.49 569.80,66.33 570.30,66.13 570.80,65.85 571.30,65.48 571.80,65.04 572.30,64.53 572.80,63.97 573.30,63.38 573.80,62.79 574.30,62.23 574.80,61.69 575.30,61.47 575.80,60.80 576.30,60.09 576.80,59.34 577.30,58.57 577.80,57.78 578.30,56.97 578.80,56.15 579.30,55.32 579.80,54.50 580.30,53.70 580.80,52.91 581.30,52.16 581.80,51.45 582.30,50.79 582.80,50.19 583.30,49.65 583.80,49.19 584.30,48.80 584.80,48.51 585.30,48.30 585.80,48.18 586.30,48.15 586.80,48.13 587.30,48.14 587.80,48.16 588.30,48.20 588.80,48.26 589.30,48.33 589.80,48.42 590.30,48.53 590.80,48.66 591.30,48.79 591.80,48.95 592.30,49.12 592.80,49.30 593.30,49.50 593.80,49.71 594.30,49.93 594.80,50.16 595.30,50.40 595.80,50.65 596.30,50.92 596.80,51.19 597.30,51.47 597.80,51.75 598.30,52.04 598.80,52.34 599.30,52.64 599.80,52.95 600.30,53.26 600.80,53.57 601.30,53.88 601.80,54.20 602.30,54.51 602.80,54.83 603.30,55.14 603.80,55.45 604.30,55.76 604.80,56.07 605.30,56.37 605.80,56.67 606.30,56.97 606.80,57.26 607.30,57.55 607.80,57.84 608.30,58.12 608.80,58.39 609.30,58.67 609.80,58.93 610.30,59.20 610.80,59.46 611.30,59.72 611.80,59.98 612.30,60.23 612.80,60.49 613.30,60.75 613.80,61.01 614.30,61.28 614.80,61.55 615.30,61.83 615.80,62.12 616.30,62.42 616.80,62.73 617.30,63.06 617.80,63.40 618.30,63.76 618.80,64.13 619.30,64.52 619.80,64.93 620.30,65.35 620.80,65.78 621.30,66.23 621.80,66.69 622.30,67.16 622.80,67.64 623.30,68.11 623.80,68.58 624.30,69.05 624.80,69.50 625.30,69.93 625.80,70.34 626.30,70.71 626.80,71.06 627.30,71.36 627.80,71.62 628.30,71.83 628.80,71.98 629.30,72.09 629.80,72.14 630.30,72.13 630.80,72.07 631.30,71.95 631.80,71.78 632.30,71.55 632.80,71.29 633.30,70.98 633.80,70.63 634.30,70.25 634.80,69.84 635.30,69.42 635.80,68.98 636.30,68.53 636.80,68.07 637.30,67.62 637.80,67.17 638.30,66.73 638.80,66.31 639.30,65.90 639.80,65.51 640.30,65.14 640.80,64.79 641.30,64.46 641.80,64.16 642.30,63.88 642.80,63.62 643.30,63.38 643.80,63.17 644.30,62.97 644.80,62.79 645.30,62.63 645.80,62.49 646.30,62.36 646.80,62.24 647.30,62.13 647.80,62.03 648.30,61.95 648.80,61.87 649.30,61.80 649.80,61.73 650.30,61.68 650.80,61.63 651.30,61.58 651.80,61.54 652.30,61.50 652.80,61.47 653.30,61.44 653.80,61.42 654.30,61.40 654.80,61.39 655.30,61.38 655.80,61.38 656.30,61.38 656.80,61.38 657.30,61.39 657.80,61.40 658.30,61.42 658.80,61.45 659.30,61.48 659.80,61.51 660.30,61.56 660.80,61.61 661.30,61.66 661.80,61.73 662.30,61.80 662.80,61.88 663.30,61.98 663.80,62.08 664.30,62.19 664.80,62.32 665.30,62.46 665.80,62.62 666.30,62.80 666.80,62.99 667.30,63.20 667.80,63.44 668.30,63.70 668.80,63.99 669.30,64.31 669.80,64.67 670.30,65.06 670.80,65.50 671.30,65.98 671.80,66.51 672.30,67.10 672.80,67.76 673.30,68.48 673.80,69.28 674.30,70.17 674.80,71.15 675.30,72.24 675.80,73.44 676.30,74.77 676.80,76.25 677.30,77.88 677.80,79.68 678.30,81.67 678.80,83.88 679.30,86.32 679.80,89.03 680.30,92.01 680.80,95.32" stroke="#d0474a" stroke-width="1.7" stroke-linejoin="round"/>
<polyline points="500.80,84.67 501.30,84.69 501.80,84.64 502.30,84.51 502.80,84.33 503.30,84.12 503.80,83.89 504.30,83.69 504.80,83.54 505.30,83.44 505.80,83.42 506.30,83.45 506.80,83.53 507.30,83.62 507.80,83.70 508.30,83.74 508.80,83.74 509.30,83.70 509.80,83.61 510.30,83.50 510.80,83.39 511.30,83.31 511.80,83.27 512.30,83.28 512.80,83.33 513.30,83.43 513.80,83.53 514.30,83.63 514.80,83.68 515.30,83.68 515.80,83.61 516.30,83.47 516.80,83.28 517.30,83.05 517.80,82.83 518.30,82.63 518.80,82.49 519.30,82.41 519.80,82.41 520.30,82.46 520.80,82.55 521.30,82.66 521.80,82.75 522.30,82.81 522.80,82.82 523.30,82.78 523.80,82.69 524.30,82.59 524.80,82.48 525.30,82.39 525.80,82.34 526.30,82.34 526.80,82.39 527.30,82.47 527.80,82.56 528.30,82.64 528.80,82.67 529.30,82.65 529.80,82.56 530.30,82.41 530.80,82.21 531.30,81.99 531.80,81.77 532.30,81.59 532.80,81.46 533.30,81.40 533.80,81.41 534.30,81.49 534.80,81.60 535.30,81.72 535.80,81.82 536.30,81.89 536.80,81.90 537.30,81.86 537.80,81.78 538.30,81.67 538.80,81.55 539.30,81.46 539.80,81.40 540.30,81.39 540.80,81.42 541.30,81.49 541.80,81.56 542.30,81.62 542.80,81.65 543.30,81.61 543.80,81.51 544.30,81.35 544.80,81.15 545.30,80.93 545.80,80.72 546.30,80.55 546.80,80.44 547.30,80.41 547.80,80.44 548.30,80.53 548.80,80.66 549.30,80.79 549.80,80.91 550.30,80.98 550.80,80.99 551.30,80.95 551.80,80.86 552.30,80.74 552.80,80.61 553.30,80.51 553.80,80.44 554.30,80.42 554.80,80.44 555.30,80.49 555.80,80.55 556.30,80.59 556.80,80.60 557.30,80.56 557.80,80.45 558.30,80.29 558.80,80.09 559.30,79.87 559.80,79.68 560.30,79.52 560.80,79.43 561.30,79.41 561.80,79.45 562.30,79.55 562.80,79.68 563.30,79.80 563.80,79.90 564.30,79.94 564.80,79.91 565.30,79.82 565.80,79.67 566.30,79.48 566.80,79.28 567.30,79.08 567.80,78.90 568.30,78.75 568.80,78.63 569.30,78.52 569.80,78.39 570.30,78.23 570.80,78.00 571.30,77.70 571.80,77.30 572.30,76.83 572.80,76.28 573.30,75.69 573.80,75.09 574.30,74.49 574.80,73.92 575.30,73.89 575.80,73.28 576.30,72.64 576.80,71.97 577.30,71.27 577.80,70.55 578.30,69.82 578.80,69.08 579.30,68.33 579.80,67.59 580.30,66.86 580.80,66.15 581.30,65.47 581.80,64.83 582.30,64.23 582.80,63.69 583.30,63.20 583.80,62.78 584.30,62.43 584.80,62.16 585.30,61.97 585.80,61.86 586.30,61.82 586.80,61.80 587.30,61.80 587.80,61.81 588.30,61.84 588.80,61.89 589.30,61.95 589.80,62.03 590.30,62.12 590.80,62.22 591.30,62.34 591.80,62.47 592.30,62.62 592.80,62.78 593.30,62.95 593.80,63.13 594.30,63.32 594.80,63.52 595.30,63.73 595.80,63.95 596.30,64.18 596.80,64.42 597.30,64.66 597.80,64.92 598.30,65.17 598.80,65.43 599.30,65.70 599.80,65.96 600.30,66.24 600.80,66.51 601.30,66.78 601.80,67.06 602.30,67.34 602.80,67.61 603.30,67.89 603.80,68.16 604.30,68.43 604.80,68.70 605.30,68.97 605.80,69.23 606.30,69.49 606.80,69.75 607.30,70.01 607.80,70.26 608.30,70.50 608.80,70.74 609.30,70.98 609.80,71.22 610.30,71.45 610.80,71.69 611.30,71.92 611.80,72.15 612.30,72.38 612.80,72.61 613.30,72.85 613.80,73.09 614.30,73.33 614.80,73.58 615.30,73.85 615.80,74.12 616.30,74.40 616.80,74.70 617.30,75.02 617.80,75.35 618.30,75.70 618.80,76.06 619.30,76.45 619.80,76.85 620.30,77.27 620.80,77.71 621.30,78.16 621.80,78.62 622.30,79.09 622.80,79.57 623.30,80.05 623.80,80.53 624.30,81.00 624.80,81.46 625.30,81.90 625.80,82.31 626.30,82.69 626.80,83.04 627.30,83.34 627.80,83.60 628.30,83.81 628.80,83.96 629.30,84.06 629.80,84.10 630.30,84.08 630.80,84.00 631.30,83.87 631.80,83.68 632.30,83.44 632.80,83.14 633.30,82.81 633.80,82.43 634.30,82.02 634.80,81.59 635.30,81.13 635.80,80.65 636.30,80.17 636.80,79.68 637.30,79.19 637.80,78.70 638.30,78.23 638.80,77.76 639.30,77.32 639.80,76.89 640.30,76.49 640.80,76.10 641.30,75.74 641.80,75.40 642.30,75.09 642.80,74.80 643.30,74.53 643.80,74.28 644.30,74.06 644.80,73.85 645.30,73.66 645.80,73.48 646.30,73.33 646.80,73.18 647.30,73.05 647.80,72.93 648.30,72.82 648.80,72.72 649.30,72.63 649.80,72.55 650.30,72.48 650.80,72.41 651.30,72.35 651.80,72.30 652.30,72.26 652.80,72.22 653.30,72.18 653.80,72.16 654.30,72.14 654.80,72.12 655.30,72.11 655.80,72.11 656.30,72.12 656.80,72.13 657.30,72.14 657.80,72.17 658.30,72.20 658.80,72.23 659.30,72.28 659.80,72.33 660.30,72.39 660.80,72.45 661.30,72.52 661.80,72.61 662.30,72.70 662.80,72.80 663.30,72.91 663.80,73.03 664.30,73.16 664.80,73.31 665.30,73.47 665.80,73.65 666.30,73.84 666.80,74.05 667.30,74.28 667.80,74.53 668.30,74.81 668.80,75.12 669.30,75.45 669.80,75.82 670.30,76.23 670.80,76.68 671.30,77.17 671.80,77.71 672.30,78.32 672.80,78.98 673.30,79.71 673.80,80.52 674.30,81.41 674.80,82.40 675.30,83.49 675.80,84.70 676.30,86.04 676.80,87.51 677.30,89.15 677.80,90.95 678.30,92.95 678.80,95.16 679.30,97.60 679.80,100.31 680.30,103.29 680.80,106.60" stroke="#ef7c5e" stroke-width="1.7" stroke-linejoin="round"/>
<polyline points="500.80,95.35 501.30,95.51 501.80,95.66 502.30,95.79 502.80,95.86 503.30,95.87 503.80,95.82 504.30,95.72 504.80,95.59 505.30,95.46 505.80,95.34 506.30,95.26 506.80,95.23 507.30,95.24 507.80,95.29 508.30,95.34 508.80,95.38 509.30,95.39 509.80,95.35 510.30,95.25 510.80,95.11 511.30,94.94 511.80,94.76 512.30,94.60 512.80,94.50 513.30,94.45 513.80,94.48 514.30,94.58 514.80,94.72 515.30,94.89 515.80,95.04 516.30,95.17 516.80,95.23 517.30,95.23 517.80,95.16 518.30,95.04 518.80,94.90 519.30,94.75 519.80,94.62 520.30,94.53 520.80,94.49 521.30,94.49 521.80,94.53 522.30,94.58 522.80,94.62 523.30,94.63 523.80,94.59 524.30,94.50 524.80,94.36 525.30,94.20 525.80,94.04 526.30,93.91 526.80,93.82 527.30,93.80 527.80,93.84 528.30,93.95 528.80,94.10 529.30,94.27 529.80,94.43 530.30,94.54 530.80,94.59 531.30,94.57 531.80,94.48 532.30,94.35 532.80,94.18 533.30,94.02 533.80,93.87 534.30,93.78 534.80,93.73 535.30,93.73 535.80,93.77 536.30,93.82 536.80,93.86 537.30,93.87 537.80,93.84 538.30,93.76 538.80,93.64 539.30,93.49 539.80,93.35 540.30,93.23 540.80,93.16 541.30,93.16 541.80,93.22 542.30,93.33 542.80,93.49 543.30,93.65 543.80,93.80 544.30,93.89 544.80,93.93 545.30,93.89 545.80,93.78 546.30,93.63 546.80,93.45 547.30,93.27 547.80,93.11 548.30,93.01 548.80,92.96 549.30,92.96 549.80,93.00 550.30,93.06 550.80,93.11 551.30,93.13 551.80,93.11 552.30,93.04 552.80,92.93 553.30,92.80 553.80,92.68 554.30,92.57 554.80,92.52 555.30,92.52 555.80,92.59 556.30,92.71 556.80,92.86 557.30,93.02 557.80,93.15 558.30,93.23 558.80,93.24 559.30,93.18 559.80,93.05 560.30,92.87 560.80,92.67 561.30,92.47 561.80,92.30 562.30,92.19 562.80,92.13 563.30,92.12 563.80,92.14 564.30,92.18 564.80,92.21 565.30,92.21 565.80,92.15 566.30,92.04 566.80,91.88 567.30,91.69 567.80,91.48 568.30,91.28 568.80,91.11 569.30,90.98 569.80,90.88 570.30,90.80 570.80,90.73 571.30,90.63 571.80,90.46 572.30,90.21 572.80,89.86 573.30,89.40 573.80,88.84 574.30,88.19 574.80,87.50 575.30,86.93 575.80,86.35 576.30,85.74 576.80,85.10 577.30,84.43 577.80,83.74 578.30,83.04 578.80,82.33 579.30,81.62 579.80,80.91 580.30,80.21 580.80,79.53 581.30,78.88 581.80,78.27 582.30,77.70 582.80,77.18 583.30,76.71 583.80,76.32 584.30,75.99 584.80,75.73 585.30,75.55 585.80,75.46 586.30,75.43 586.80,75.42 587.30,75.43 587.80,75.45 588.30,75.49 588.80,75.54 589.30,75.61 589.80,75.69 590.30,75.79 590.80,75.90 591.30,76.02 591.80,76.16 592.30,76.31 592.80,76.47 593.30,76.65 593.80,76.83 594.30,77.03 594.80,77.23 595.30,77.45 595.80,77.67 596.30,77.90 596.80,78.14 597.30,78.38 597.80,78.64 598.30,78.89 598.80,79.15 599.30,79.42 599.80,79.69 600.30,79.96 600.80,80.23 601.30,80.51 601.80,80.79 602.30,81.06 602.80,81.34 603.30,81.62 603.80,81.89 604.30,82.16 604.80,82.43 605.30,82.70 605.80,82.97 606.30,83.23 606.80,83.49 607.30,83.74 607.80,83.99 608.30,84.24 608.80,84.48 609.30,84.73 609.80,84.96 610.30,85.20 610.80,85.43 611.30,85.67 611.80,85.90 612.30,86.13 612.80,86.36 613.30,86.60 613.80,86.84 614.30,87.09 614.80,87.34 615.30,87.61 615.80,87.88 616.30,88.17 616.80,88.46 617.30,88.78 617.80,89.11 618.30,89.45 618.80,89.82 619.30,90.20 619.80,90.60 620.30,91.01 620.80,91.45 621.30,91.89 621.80,92.35 622.30,92.82 622.80,93.29 623.30,93.77 623.80,94.24 624.30,94.71 624.80,95.16 625.30,95.60 625.80,96.01 626.30,96.39 626.80,96.73 627.30,97.04 627.80,97.30 628.30,97.52 628.80,97.68 629.30,97.79 629.80,97.85 630.30,97.84 630.80,97.78 631.30,97.67 631.80,97.50 632.30,97.29 632.80,97.02 633.30,96.72 633.80,96.38 634.30,96.00 634.80,95.60 635.30,95.18 635.80,94.75 636.30,94.30 636.80,93.85 637.30,93.41 637.80,92.97 638.30,92.54 638.80,92.12 639.30,91.72 639.80,91.34 640.30,90.98 640.80,90.65 641.30,90.33 641.80,90.04 642.30,89.77 642.80,89.53 643.30,89.31 643.80,89.11 644.30,88.92 644.80,88.76 645.30,88.61 645.80,88.48 646.30,88.37 646.80,88.26 647.30,88.17 647.80,88.09 648.30,88.02 648.80,87.95 649.30,87.90 649.80,87.85 650.30,87.80 650.80,87.76 651.30,87.73 651.80,87.70 652.30,87.67 652.80,87.65 653.30,87.63 653.80,87.62 654.30,87.61 654.80,87.60 655.30,87.60 655.80,87.60 656.30,87.60 656.80,87.61 657.30,87.62 657.80,87.64 658.30,87.66 658.80,87.68 659.30,87.72 659.80,87.75 660.30,87.80 660.80,87.84 661.30,87.90 661.80,87.96 662.30,88.04 662.80,88.12 663.30,88.21 663.80,88.31 664.30,88.42 664.80,88.55 665.30,88.69 665.80,88.85 666.30,89.02 666.80,89.21 667.30,89.42 667.80,89.66 668.30,89.92 668.80,90.21 669.30,90.53 669.80,90.89 670.30,91.28 670.80,91.72 671.30,92.20 671.80,92.74 672.30,93.33 672.80,93.99 673.30,94.72 673.80,95.52 674.30,96.41 674.80,97.40 675.30,98.49 675.80,99.69 676.30,101.03 676.80,102.51 677.30,104.14 677.80,105.95 678.30,107.95 678.80,110.17 679.30,112.61 679.80,115.32 680.30,118.32 680.80,121.63" stroke="#f6aa8c" stroke-width="1.7" stroke-linejoin="round"/>
<polyline points="500.80,104.93 501.30,104.83 501.80,104.74 502.30,104.69 502.80,104.68 503.30,104.74 503.80,104.84 504.30,104.98 504.80,105.12 505.30,105.25 505.80,105.33 506.30,105.35 506.80,105.29 507.30,105.16 507.80,104.99 508.30,104.79 508.80,104.58 509.30,104.42 509.80,104.30 510.30,104.25 510.80,104.26 511.30,104.32 511.80,104.41 512.30,104.51 512.80,104.59 513.30,104.63 513.80,104.63 514.30,104.58 514.80,104.50 515.30,104.40 515.80,104.32 516.30,104.27 516.80,104.26 517.30,104.31 517.80,104.41 518.30,104.53 518.80,104.66 519.30,104.77 519.80,104.83 520.30,104.83 520.80,104.75 521.30,104.61 521.80,104.42 522.30,104.21 522.80,104.01 523.30,103.85 523.80,103.74 524.30,103.71 524.80,103.73 525.30,103.81 525.80,103.92 526.30,104.04 526.80,104.13 527.30,104.19 527.80,104.19 528.30,104.15 528.80,104.07 529.30,103.97 529.80,103.89 530.30,103.84 530.80,103.83 531.30,103.87 531.80,103.96 532.30,104.07 532.80,104.18 533.30,104.27 533.80,104.31 534.30,104.29 534.80,104.20 535.30,104.04 535.80,103.85 536.30,103.64 536.80,103.44 537.30,103.29 537.80,103.20 538.30,103.18 538.80,103.23 539.30,103.33 539.80,103.46 540.30,103.59 540.80,103.69 541.30,103.75 541.80,103.76 542.30,103.72 542.80,103.64 543.30,103.55 543.80,103.46 544.30,103.40 544.80,103.38 545.30,103.41 545.80,103.49 546.30,103.58 546.80,103.68 547.30,103.75 547.80,103.77 548.30,103.73 548.80,103.63 549.30,103.47 549.80,103.28 550.30,103.07 550.80,102.89 551.30,102.75 551.80,102.68 552.30,102.68 552.80,102.75 553.30,102.87 553.80,103.01 554.30,103.15 554.80,103.27 555.30,103.33 555.80,103.34 556.30,103.29 556.80,103.21 557.30,103.11 557.80,103.01 558.30,102.94 558.80,102.91 559.30,102.93 559.80,102.98 560.30,103.06 560.80,103.14 561.30,103.19 561.80,103.19 562.30,103.14 562.80,103.02 563.30,102.84 563.80,102.64 564.30,102.42 564.80,102.23 565.30,102.09 565.80,102.00 566.30,101.99 566.80,102.03 567.30,102.11 567.80,102.21 568.30,102.28 568.80,102.31 569.30,102.28 569.80,102.16 570.30,101.98 570.80,101.73 571.30,101.45 571.80,101.15 572.30,100.85 572.80,100.57 573.30,100.31 573.80,100.07 574.30,99.83 574.80,99.56 575.30,98.97 575.80,98.57 576.30,98.15 576.80,97.70 577.30,97.24 577.80,96.77 578.30,96.28 578.80,95.79 579.30,95.29 579.80,94.80 580.30,94.32 580.80,93.85 581.30,93.40 581.80,92.98 582.30,92.58 582.80,92.22 583.30,91.90 583.80,91.63 584.30,91.40 584.80,91.22 585.30,91.10 585.80,91.03 586.30,91.01 586.80,91.00 587.30,91.00 587.80,91.01 588.30,91.03 588.80,91.05 589.30,91.09 589.80,91.13 590.30,91.18 590.80,91.23 591.30,91.30 591.80,91.37 592.30,91.45 592.80,91.54 593.30,91.63 593.80,91.73 594.30,91.84 594.80,91.95 595.30,92.07 595.80,92.19 596.30,92.32 596.80,92.45 597.30,92.59 597.80,92.73 598.30,92.88 598.80,93.03 599.30,93.18 599.80,93.34 600.30,93.49 600.80,93.66 601.30,93.82 601.80,93.98 602.30,94.15 602.80,94.31 603.30,94.48 603.80,94.65 604.30,94.82 604.80,94.99 605.30,95.15 605.80,95.32 606.30,95.49 606.80,95.66 607.30,95.82 607.80,95.98 608.30,96.15 608.80,96.31 609.30,96.47 609.80,96.63 610.30,96.79 610.80,96.95 611.30,97.10 611.80,97.26 612.30,97.42 612.80,97.58 613.30,97.73 613.80,97.90 614.30,98.06 614.80,98.22 615.30,98.39 615.80,98.57 616.30,98.75 616.80,98.93 617.30,99.12 617.80,99.32 618.30,99.52 618.80,99.73 619.30,99.95 619.80,100.17 620.30,100.41 620.80,100.64 621.30,100.89 621.80,101.14 622.30,101.39 622.80,101.64 623.30,101.89 623.80,102.14 624.30,102.39 624.80,102.63 625.30,102.86 625.80,103.07 626.30,103.27 626.80,103.46 627.30,103.62 627.80,103.77 628.30,103.89 628.80,103.98 629.30,104.05 629.80,104.09 630.30,104.11 630.80,104.10 631.30,104.06 631.80,103.99 632.30,103.90 632.80,103.79 633.30,103.66 633.80,103.51 634.30,103.35 634.80,103.17 635.30,102.98 635.80,102.78 636.30,102.58 636.80,102.38 637.30,102.17 637.80,101.97 638.30,101.77 638.80,101.58 639.30,101.39 639.80,101.22 640.30,101.05 640.80,100.89 641.30,100.74 641.80,100.60 642.30,100.47 642.80,100.36 643.30,100.25 643.80,100.15 644.30,100.06 644.80,99.98 645.30,99.90 645.80,99.84 646.30,99.77 646.80,99.72 647.30,99.67 647.80,99.63 648.30,99.58 648.80,99.55 649.30,99.52 649.80,99.49 650.30,99.46 650.80,99.44 651.30,99.42 651.80,99.40 652.30,99.38 652.80,99.37 653.30,99.36 653.80,99.35 654.30,99.34 654.80,99.34 655.30,99.33 655.80,99.33 656.30,99.34 656.80,99.34 657.30,99.35 657.80,99.36 658.30,99.38 658.80,99.40 659.30,99.42 659.80,99.44 660.30,99.47 660.80,99.51 661.30,99.55 661.80,99.59 662.30,99.64 662.80,99.70 663.30,99.76 663.80,99.83 664.30,99.90 664.80,99.99 665.30,100.08 665.80,100.19 666.30,100.30 666.80,100.43 667.30,100.58 667.80,100.74 668.30,100.91 668.80,101.11 669.30,101.32 669.80,101.56 670.30,101.82 670.80,102.11 671.30,102.44 671.80,102.79 672.30,103.19 672.80,103.63 673.30,104.11 673.80,104.65 674.30,105.24 674.80,105.90 675.30,106.63 675.80,107.43 676.30,108.32 676.80,109.31 677.30,110.40 677.80,111.60 678.30,112.94 678.80,114.41 679.30,116.04 679.80,117.85 680.30,119.84 680.80,122.05" stroke="#fcd6c6" stroke-width="1.7" stroke-linejoin="round"/>
<polyline points="500.80,113.08 501.30,113.10 501.80,113.17 502.30,113.27 502.80,113.38 503.30,113.48 503.80,113.54 504.30,113.55 504.80,113.52 505.30,113.45 505.80,113.37 506.30,113.29 506.80,113.25 507.30,113.25 507.80,113.31 508.30,113.41 508.80,113.55 509.30,113.69 509.80,113.82 510.30,113.90 510.80,113.91 511.30,113.86 511.80,113.73 512.30,113.56 512.80,113.37 513.30,113.18 513.80,113.02 514.30,112.92 514.80,112.89 515.30,112.92 515.80,113.01 516.30,113.13 516.80,113.26 517.30,113.37 517.80,113.44 518.30,113.46 518.80,113.43 519.30,113.37 519.80,113.29 520.30,113.22 520.80,113.17 521.30,113.17 521.80,113.22 522.30,113.31 522.80,113.44 523.30,113.56 523.80,113.67 524.30,113.73 524.80,113.72 525.30,113.65 525.80,113.52 526.30,113.34 526.80,113.14 527.30,112.96 527.80,112.81 528.30,112.73 528.80,112.71 529.30,112.76 529.80,112.87 530.30,113.01 530.80,113.15 531.30,113.27 531.80,113.35 532.30,113.38 532.80,113.36 533.30,113.29 533.80,113.21 534.30,113.13 534.80,113.08 535.30,113.07 535.80,113.11 536.30,113.19 536.80,113.30 537.30,113.41 537.80,113.50 538.30,113.54 538.80,113.52 539.30,113.44 539.80,113.30 540.30,113.12 540.80,112.92 541.30,112.75 541.80,112.62 542.30,112.55 542.80,112.56 543.30,112.63 543.80,112.76 544.30,112.91 544.80,113.07 545.30,113.20 545.80,113.28 546.30,113.31 546.80,113.28 547.30,113.21 547.80,113.13 548.30,113.04 548.80,112.98 549.30,112.96 549.80,112.99 550.30,113.05 550.80,113.15 551.30,113.24 551.80,113.31 552.30,113.34 552.80,113.31 553.30,113.22 553.80,113.08 554.30,112.90 554.80,112.72 555.30,112.55 555.80,112.44 556.30,112.39 556.80,112.42 557.30,112.52 557.80,112.66 558.30,112.83 558.80,112.99 559.30,113.13 559.80,113.21 560.30,113.23 560.80,113.20 561.30,113.12 561.80,113.01 562.30,112.91 562.80,112.84 563.30,112.80 563.80,112.81 564.30,112.85 564.80,112.92 565.30,112.99 565.80,113.04 566.30,113.04 566.80,112.99 567.30,112.87 567.80,112.70 568.30,112.50 568.80,112.29 569.30,112.10 569.80,111.96 570.30,111.87 570.80,111.86 571.30,111.90 571.80,111.97 572.30,112.06 572.80,112.12 573.30,112.14 573.80,112.10 574.30,111.97 574.80,111.78 575.30,111.26 575.80,111.09 576.30,110.91 576.80,110.72 577.30,110.52 577.80,110.31 578.30,110.10 578.80,109.89 579.30,109.68 579.80,109.47 580.30,109.26 580.80,109.06 581.30,108.86 581.80,108.68 582.30,108.51 582.80,108.36 583.30,108.22 583.80,108.10 584.30,108.00 584.80,107.93 585.30,107.88 585.80,107.85 586.30,107.85 586.80,107.84 587.30,107.84 587.80,107.84 588.30,107.84 588.80,107.84 589.30,107.84 589.80,107.85 590.30,107.85 590.80,107.86 591.30,107.87 591.80,107.88 592.30,107.89 592.80,107.90 593.30,107.92 593.80,107.93 594.30,107.95 594.80,107.96 595.30,107.98 595.80,108.00 596.30,108.02 596.80,108.04 597.30,108.06 597.80,108.09 598.30,108.11 598.80,108.14 599.30,108.16 599.80,108.19 600.30,108.22 600.80,108.25 601.30,108.28 601.80,108.31 602.30,108.34 602.80,108.38 603.30,108.41 603.80,108.45 604.30,108.48 604.80,108.52 605.30,108.55 605.80,108.59 606.30,108.63 606.80,108.67 607.30,108.71 607.80,108.75 608.30,108.79 608.80,108.83 609.30,108.87 609.80,108.91 610.30,108.96 610.80,109.00 611.30,109.05 611.80,109.09 612.30,109.14 612.80,109.19 613.30,109.24 613.80,109.29 614.30,109.34 614.80,109.40 615.30,109.45 615.80,109.51 616.30,109.57 616.80,109.63 617.30,109.70 617.80,109.76 618.30,109.83 618.80,109.90 619.30,109.98 619.80,110.06 620.30,110.13 620.80,110.21 621.30,110.30 621.80,110.38 622.30,110.47 622.80,110.55 623.30,110.64 623.80,110.73 624.30,110.81 624.80,110.90 625.30,110.98 625.80,111.06 626.30,111.13 626.80,111.20 627.30,111.27 627.80,111.33 628.30,111.39 628.80,111.43 629.30,111.48 629.80,111.51 630.30,111.54 630.80,111.56 631.30,111.58 631.80,111.59 632.30,111.59 632.80,111.59 633.30,111.58 633.80,111.56 634.30,111.54 634.80,111.52 635.30,111.49 635.80,111.46 636.30,111.43 636.80,111.39 637.30,111.36 637.80,111.32 638.30,111.28 638.80,111.25 639.30,111.21 639.80,111.18 640.30,111.14 640.80,111.11 641.30,111.08 641.80,111.05 642.30,111.02 642.80,111.00 643.30,110.97 643.80,110.95 644.30,110.93 644.80,110.91 645.30,110.89 645.80,110.87 646.30,110.86 646.80,110.84 647.30,110.83 647.80,110.82 648.30,110.81 648.80,110.80 649.30,110.80 649.80,110.79 650.30,110.79 650.80,110.79 651.30,110.78 651.80,110.79 652.30,110.79 652.80,110.79 653.30,110.80 653.80,110.81 654.30,110.82 654.80,110.83 655.30,110.84 655.80,110.86 656.30,110.87 656.80,110.89 657.30,110.91 657.80,110.93 658.30,110.96 658.80,110.98 659.30,111.01 659.80,111.03 660.30,111.06 660.80,111.09 661.30,111.12 661.80,111.15 662.30,111.18 662.80,111.21 663.30,111.25 663.80,111.28 664.30,111.31 664.80,111.35 665.30,111.38 665.80,111.42 666.30,111.45 666.80,111.49 667.30,111.53 667.80,111.56 668.30,111.60 668.80,111.64 669.30,111.68 669.80,111.72 670.30,111.76 670.80,111.80 671.30,111.85 671.80,111.90 672.30,111.95 672.80,112.00 673.30,112.06 673.80,112.11 674.30,112.18 674.80,112.25 675.30,112.32 675.80,112.40 676.30,112.49 676.80,112.59 677.30,112.69 677.80,112.80 678.30,112.93 678.80,113.07 679.30,113.22 679.80,113.38 680.30,113.57 680.80,113.77" stroke="#d5e7f2" stroke-width="1.7" stroke-linejoin="round"/>
<polyline points="500.80,122.92 501.30,122.83 501.80,122.69 502.30,122.52 502.80,122.34 503.30,122.18 503.80,122.07 504.30,122.03 504.80,122.06 505.30,122.16 505.80,122.31 506.30,122.49 506.80,122.66 507.30,122.79 507.80,122.88 508.30,122.91 508.80,122.87 509.30,122.80 509.80,122.70 510.30,122.60 510.80,122.53 511.30,122.50 511.80,122.51 512.30,122.56 512.80,122.64 513.30,122.73 513.80,122.79 514.30,122.81 514.80,122.78 515.30,122.69 515.80,122.55 516.30,122.39 516.80,122.22 517.30,122.08 517.80,121.99 518.30,121.97 518.80,122.03 519.30,122.14 519.80,122.31 520.30,122.49 520.80,122.67 521.30,122.80 521.80,122.88 522.30,122.90 522.80,122.85 523.30,122.76 523.80,122.65 524.30,122.54 524.80,122.45 525.30,122.40 525.80,122.41 526.30,122.45 526.80,122.52 527.30,122.60 527.80,122.65 528.30,122.67 528.80,122.64 529.30,122.55 529.80,122.42 530.30,122.27 530.80,122.12 531.30,122.00 531.80,121.93 532.30,121.93 532.80,122.01 533.30,122.14 533.80,122.32 534.30,122.50 534.80,122.68 535.30,122.81 535.80,122.88 536.30,122.88 536.80,122.82 537.30,122.71 537.80,122.58 538.30,122.45 538.80,122.35 539.30,122.29 539.80,122.29 540.30,122.32 540.80,122.39 541.30,122.46 541.80,122.52 542.30,122.54 542.80,122.51 543.30,122.43 543.80,122.31 544.30,122.18 544.80,122.04 545.30,121.94 545.80,121.89 546.30,121.91 546.80,122.00 547.30,122.15 547.80,122.33 548.30,122.52 548.80,122.68 549.30,122.80 549.80,122.86 550.30,122.84 550.80,122.76 551.30,122.63 551.80,122.49 552.30,122.34 552.80,122.23 553.30,122.17 553.80,122.16 554.30,122.19 554.80,122.26 555.30,122.33 555.80,122.39 556.30,122.42 556.80,122.39 557.30,122.33 557.80,122.22 558.30,122.10 558.80,121.98 559.30,121.90 559.80,121.87 560.30,121.90 560.80,122.00 561.30,122.15 561.80,122.33 562.30,122.51 562.80,122.67 563.30,122.77 563.80,122.80 564.30,122.76 564.80,122.65 565.30,122.50 565.80,122.32 566.30,122.16 566.80,122.03 567.30,121.94 567.80,121.91 568.30,121.92 568.80,121.97 569.30,122.02 569.80,122.05 570.30,122.05 570.80,122.00 571.30,121.89 571.80,121.75 572.30,121.58 572.80,121.41 573.30,121.26 573.80,121.16 574.30,121.12 574.80,121.13 575.30,121.23 575.80,121.12 576.30,121.00 576.80,120.87 577.30,120.74 577.80,120.60 578.30,120.47 578.80,120.32 579.30,120.18 579.80,120.04 580.30,119.91 580.80,119.77 581.30,119.64 581.80,119.52 582.30,119.41 582.80,119.31 583.30,119.22 583.80,119.14 584.30,119.08 584.80,119.03 585.30,118.99 585.80,118.98 586.30,118.97 586.80,118.97 587.30,118.97 587.80,118.97 588.30,118.97 588.80,118.97 589.30,118.98 589.80,118.98 590.30,118.99 590.80,118.99 591.30,119.00 591.80,119.00 592.30,119.01 592.80,119.02 593.30,119.03 593.80,119.04 594.30,119.05 594.80,119.06 595.30,119.08 595.80,119.09 596.30,119.11 596.80,119.12 597.30,119.14 597.80,119.15 598.30,119.17 598.80,119.19 599.30,119.21 599.80,119.23 600.30,119.25 600.80,119.27 601.30,119.29 601.80,119.31 602.30,119.33 602.80,119.35 603.30,119.38 603.80,119.40 604.30,119.43 604.80,119.45 605.30,119.48 605.80,119.50 606.30,119.53 606.80,119.55 607.30,119.58 607.80,119.61 608.30,119.64 608.80,119.67 609.30,119.69 609.80,119.72 610.30,119.75 610.80,119.78 611.30,119.81 611.80,119.85 612.30,119.88 612.80,119.91 613.30,119.94 613.80,119.98 614.30,120.01 614.80,120.05 615.30,120.09 615.80,120.13 616.30,120.17 616.80,120.21 617.30,120.25 617.80,120.29 618.30,120.34 618.80,120.39 619.30,120.43 619.80,120.48 620.30,120.53 620.80,120.59 621.30,120.64 621.80,120.69 622.30,120.75 622.80,120.80 623.30,120.86 623.80,120.92 624.30,120.97 624.80,121.02 625.30,121.08 625.80,121.13 626.30,121.18 626.80,121.22 627.30,121.27 627.80,121.31 628.30,121.35 628.80,121.38 629.30,121.41 629.80,121.44 630.30,121.46 630.80,121.48 631.30,121.49 631.80,121.50 632.30,121.51 632.80,121.51 633.30,121.51 633.80,121.50 634.30,121.50 634.80,121.49 635.30,121.48 635.80,121.46 636.30,121.45 636.80,121.44 637.30,121.42 637.80,121.41 638.30,121.39 638.80,121.38 639.30,121.36 639.80,121.35 640.30,121.33 640.80,121.32 641.30,121.31 641.80,121.30 642.30,121.29 642.80,121.28 643.30,121.28 643.80,121.27 644.30,121.26 644.80,121.26 645.30,121.26 645.80,121.25 646.30,121.25 646.80,121.25 647.30,121.25 647.80,121.25 648.30,121.25 648.80,121.25 649.30,121.25 649.80,121.25 650.30,121.26 650.80,121.26 651.30,121.26 651.80,121.27 652.30,121.27 652.80,121.28 653.30,121.28 653.80,121.29 654.30,121.29 654.80,121.30 655.30,121.31 655.80,121.32 656.30,121.33 656.80,121.33 657.30,121.34 657.80,121.35 658.30,121.36 658.80,121.37 659.30,121.39 659.80,121.40 660.30,121.41 660.80,121.42 661.30,121.43 661.80,121.44 662.30,121.45 662.80,121.47 663.30,121.48 663.80,121.49 664.30,121.50 664.80,121.51 665.30,121.52 665.80,121.53 666.30,121.54 666.80,121.55 667.30,121.56 667.80,121.57 668.30,121.58 668.80,121.59 669.30,121.60 669.80,121.60 670.30,121.61 670.80,121.62 671.30,121.62 671.80,121.63 672.30,121.64 672.80,121.64 673.30,121.64 673.80,121.65 674.30,121.65 674.80,121.66 675.30,121.66 675.80,121.66 676.30,121.66 676.80,121.66 677.30,121.67 677.80,121.67 678.30,121.67 678.80,121.67 679.30,121.67 679.80,121.67 680.30,121.67 680.80,121.67" stroke="#98c8e1" stroke-width="1.7" stroke-linejoin="round"/>
<polyline points="500.80,131.25 501.30,131.17 501.80,131.13 502.30,131.14 502.80,131.19 503.30,131.26 503.80,131.33 504.30,131.39 504.80,131.40 505.30,131.36 505.80,131.27 506.30,131.13 506.80,130.97 507.30,130.81 507.80,130.68 508.30,130.60 508.80,130.60 509.30,130.66 509.80,130.79 510.30,130.96 510.80,131.14 511.30,131.31 511.80,131.44 512.30,131.51 512.80,131.51 513.30,131.45 513.80,131.35 514.30,131.22 514.80,131.10 515.30,131.01 515.80,130.96 516.30,130.96 516.80,130.99 517.30,131.06 517.80,131.13 518.30,131.18 518.80,131.20 519.30,131.16 519.80,131.07 520.30,130.94 520.80,130.79 521.30,130.65 521.80,130.54 522.30,130.48 522.80,130.50 523.30,130.58 523.80,130.72 524.30,130.90 524.80,131.09 525.30,131.25 525.80,131.37 526.30,131.43 526.80,131.41 527.30,131.33 527.80,131.21 528.30,131.07 528.80,130.93 529.30,130.83 529.80,130.77 530.30,130.76 530.80,130.79 531.30,130.86 531.80,130.93 532.30,130.98 532.80,131.00 533.30,130.97 533.80,130.89 534.30,130.77 534.80,130.64 535.30,130.51 535.80,130.42 536.30,130.39 536.80,130.42 537.30,130.51 537.80,130.66 538.30,130.85 538.80,131.03 539.30,131.19 539.80,131.29 540.30,131.33 540.80,131.29 541.30,131.19 541.80,131.05 542.30,130.90 542.80,130.75 543.30,130.63 543.80,130.57 544.30,130.55 544.80,130.59 545.30,130.65 545.80,130.73 546.30,130.79 546.80,130.81 547.30,130.79 547.80,130.73 548.30,130.62 548.80,130.51 549.30,130.40 549.80,130.33 550.30,130.30 550.80,130.35 551.30,130.45 551.80,130.61 552.30,130.79 552.80,130.96 553.30,131.10 553.80,131.19 554.30,131.21 554.80,131.15 555.30,131.03 555.80,130.87 556.30,130.70 556.80,130.54 557.30,130.42 557.80,130.35 558.30,130.34 558.80,130.38 559.30,130.46 559.80,130.54 560.30,130.61 560.80,130.64 561.30,130.64 561.80,130.58 562.30,130.49 562.80,130.39 563.30,130.29 563.80,130.23 564.30,130.22 564.80,130.26 565.30,130.37 565.80,130.51 566.30,130.68 566.80,130.83 567.30,130.95 567.80,131.00 568.30,130.98 568.80,130.89 569.30,130.74 569.80,130.54 570.30,130.33 570.80,130.14 571.30,129.99 571.80,129.89 572.30,129.85 572.80,129.85 573.30,129.89 573.80,129.93 574.30,129.96 574.80,129.95 575.30,129.83 575.80,129.76 576.30,129.68 576.80,129.60 577.30,129.51 577.80,129.42 578.30,129.33 578.80,129.24 579.30,129.15 579.80,129.06 580.30,128.97 580.80,128.88 581.30,128.80 581.80,128.72 582.30,128.65 582.80,128.58 583.30,128.52 583.80,128.47 584.30,128.42 584.80,128.39 585.30,128.36 585.80,128.35 586.30,128.35 586.80,128.34 587.30,128.34 587.80,128.33 588.30,128.33 588.80,128.33 589.30,128.33 589.80,128.33 590.30,128.33 590.80,128.33 591.30,128.33 591.80,128.33 592.30,128.33 592.80,128.33 593.30,128.33 593.80,128.34 594.30,128.34 594.80,128.34 595.30,128.35 595.80,128.35 596.30,128.36 596.80,128.37 597.30,128.37 597.80,128.38 598.30,128.39 598.80,128.39 599.30,128.40 599.80,128.41 600.30,128.42 600.80,128.43 601.30,128.44 601.80,128.45 602.30,128.46 602.80,128.47 603.30,128.48 603.80,128.49 604.30,128.50 604.80,128.52 605.30,128.53 605.80,128.54 606.30,128.55 606.80,128.57 607.30,128.58 607.80,128.59 608.30,128.61 608.80,128.62 609.30,128.64 609.80,128.65 610.30,128.67 610.80,128.68 611.30,128.70 611.80,128.71 612.30,128.73 612.80,128.75 613.30,128.76 613.80,128.78 614.30,128.80 614.80,128.82 615.30,128.84 615.80,128.86 616.30,128.88 616.80,128.90 617.30,128.92 617.80,128.94 618.30,128.96 618.80,128.99 619.30,129.01 619.80,129.04 620.30,129.06 620.80,129.09 621.30,129.12 621.80,129.14 622.30,129.17 622.80,129.20 623.30,129.23 623.80,129.26 624.30,129.28 624.80,129.31 625.30,129.34 625.80,129.36 626.30,129.39 626.80,129.41 627.30,129.43 627.80,129.46 628.30,129.47 628.80,129.49 629.30,129.51 629.80,129.52 630.30,129.53 630.80,129.54 631.30,129.55 631.80,129.56 632.30,129.56 632.80,129.56 633.30,129.56 633.80,129.56 634.30,129.56 634.80,129.56 635.30,129.55 635.80,129.55 636.30,129.54 636.80,129.54 637.30,129.53 637.80,129.53 638.30,129.52 638.80,129.51 639.30,129.51 639.80,129.51 640.30,129.50 640.80,129.50 641.30,129.50 641.80,129.49 642.30,129.49 642.80,129.49 643.30,129.49 643.80,129.49 644.30,129.49 644.80,129.49 645.30,129.49 645.80,129.49 646.30,129.49 646.80,129.49 647.30,129.50 647.80,129.50 648.30,129.50 648.80,129.50 649.30,129.50 649.80,129.50 650.30,129.51 650.80,129.51 651.30,129.51 651.80,129.51 652.30,129.51 652.80,129.51 653.30,129.51 653.80,129.51 654.30,129.52 654.80,129.52 655.30,129.52 655.80,129.52 656.30,129.52 656.80,129.52 657.30,129.52 657.80,129.52 658.30,129.52 658.80,129.51 659.30,129.51 659.80,129.51 660.30,129.51 660.80,129.51 661.30,129.51 661.80,129.51 662.30,129.51 662.80,129.50 663.30,129.50 663.80,129.50 664.30,129.50 664.80,129.50 665.30,129.49 665.80,129.49 666.30,129.49 666.80,129.49 667.30,129.48 667.80,129.48 668.30,129.48 668.80,129.48 669.30,129.47 669.80,129.47 670.30,129.47 670.80,129.46 671.30,129.46 671.80,129.46 672.30,129.45 672.80,129.45 673.30,129.45 673.80,129.44 674.30,129.44 674.80,129.43 675.30,129.43 675.80,129.43 676.30,129.42 676.80,129.42 677.30,129.42 677.80,129.41 678.30,129.41 678.80,129.40 679.30,129.40 679.80,129.39 680.30,129.39 680.80,129.39" stroke="#5a9fcf" stroke-width="1.7" stroke-linejoin="round"/>
<polyline points="500.80,141.04 501.30,141.12 501.80,141.13 502.30,141.07 502.80,140.95 503.30,140.78 503.80,140.59 504.30,140.41 504.80,140.26 505.30,140.17 505.80,140.15 506.30,140.19 506.80,140.27 507.30,140.38 507.80,140.48 508.30,140.55 508.80,140.59 509.30,140.58 509.80,140.52 510.30,140.45 510.80,140.36 511.30,140.30 511.80,140.27 512.30,140.30 512.80,140.38 513.30,140.50 513.80,140.65 514.30,140.80 514.80,140.91 515.30,140.97 515.80,140.96 516.30,140.88 516.80,140.74 517.30,140.56 517.80,140.36 518.30,140.18 518.80,140.05 519.30,139.97 519.80,139.96 520.30,140.01 520.80,140.11 521.30,140.23 521.80,140.35 522.30,140.44 522.80,140.49 523.30,140.49 523.80,140.44 524.30,140.37 524.80,140.29 525.30,140.22 525.80,140.20 526.30,140.22 526.80,140.29 527.30,140.41 527.80,140.54 528.30,140.67 528.80,140.76 529.30,140.80 529.80,140.77 530.30,140.68 530.80,140.53 531.30,140.34 531.80,140.14 532.30,139.97 532.80,139.84 533.30,139.78 533.80,139.79 534.30,139.86 534.80,139.98 535.30,140.11 535.80,140.25 536.30,140.35 536.80,140.40 537.30,140.41 537.80,140.36 538.30,140.29 538.80,140.21 539.30,140.14 539.80,140.11 540.30,140.13 540.80,140.19 541.30,140.29 541.80,140.41 542.30,140.51 542.80,140.59 543.30,140.61 543.80,140.57 544.30,140.46 544.80,140.30 545.30,140.11 545.80,139.92 546.30,139.76 546.80,139.65 547.30,139.60 547.80,139.63 548.30,139.72 548.80,139.86 549.30,140.01 549.80,140.16 550.30,140.27 550.80,140.33 551.30,140.33 551.80,140.29 552.30,140.21 552.80,140.12 553.30,140.05 553.80,140.01 554.30,140.01 554.80,140.06 555.30,140.15 555.80,140.25 556.30,140.34 556.80,140.40 557.30,140.41 557.80,140.36 558.30,140.24 558.80,140.08 559.30,139.89 559.80,139.71 560.30,139.56 560.80,139.47 561.30,139.45 561.80,139.50 562.30,139.61 562.80,139.76 563.30,139.93 563.80,140.08 564.30,140.19 564.80,140.25 565.30,140.24 565.80,140.19 566.30,140.10 566.80,139.99 567.30,139.90 567.80,139.84 568.30,139.83 568.80,139.85 569.30,139.91 569.80,139.99 570.30,140.05 570.80,140.08 571.30,140.06 571.80,139.98 572.30,139.83 572.80,139.65 573.30,139.44 573.80,139.24 574.30,139.07 574.80,138.96 575.30,139.45 575.80,139.40 576.30,139.35 576.80,139.29 577.30,139.23 577.80,139.18 578.30,139.12 578.80,139.05 579.30,138.99 579.80,138.93 580.30,138.87 580.80,138.81 581.30,138.76 581.80,138.70 582.30,138.65 582.80,138.61 583.30,138.57 583.80,138.53 584.30,138.50 584.80,138.48 585.30,138.46 585.80,138.45 586.30,138.45 586.80,138.44 587.30,138.44 587.80,138.43 588.30,138.43 588.80,138.43 589.30,138.42 589.80,138.42 590.30,138.42 590.80,138.42 591.30,138.42 591.80,138.41 592.30,138.41 592.80,138.41 593.30,138.41 593.80,138.41 594.30,138.41 594.80,138.41 595.30,138.42 595.80,138.42 596.30,138.42 596.80,138.42 597.30,138.42 597.80,138.43 598.30,138.43 598.80,138.43 599.30,138.44 599.80,138.44 600.30,138.44 600.80,138.45 601.30,138.45 601.80,138.46 602.30,138.46 602.80,138.47 603.30,138.47 603.80,138.48 604.30,138.49 604.80,138.49 605.30,138.50 605.80,138.50 606.30,138.51 606.80,138.52 607.30,138.52 607.80,138.53 608.30,138.54 608.80,138.55 609.30,138.55 609.80,138.56 610.30,138.57 610.80,138.58 611.30,138.58 611.80,138.59 612.30,138.60 612.80,138.61 613.30,138.62 613.80,138.62 614.30,138.63 614.80,138.64 615.30,138.65 615.80,138.66 616.30,138.66 616.80,138.67 617.30,138.68 617.80,138.69 618.30,138.70 618.80,138.70 619.30,138.71 619.80,138.72 620.30,138.73 620.80,138.74 621.30,138.74 621.80,138.75 622.30,138.76 622.80,138.77 623.30,138.77 623.80,138.78 624.30,138.79 624.80,138.80 625.30,138.80 625.80,138.81 626.30,138.82 626.80,138.82 627.30,138.83 627.80,138.84 628.30,138.84 628.80,138.85 629.30,138.86 629.80,138.86 630.30,138.87 630.80,138.87 631.30,138.88 631.80,138.88 632.30,138.89 632.80,138.89 633.30,138.90 633.80,138.90 634.30,138.91 634.80,138.91 635.30,138.92 635.80,138.92 636.30,138.93 636.80,138.93 637.30,138.93 637.80,138.94 638.30,138.94 638.80,138.94 639.30,138.95 639.80,138.95 640.30,138.95 640.80,138.95 641.30,138.96 641.80,138.96 642.30,138.96 642.80,138.96 643.30,138.97 643.80,138.97 644.30,138.97 644.80,138.97 645.30,138.97 645.80,138.97 646.30,138.97 646.80,138.97 647.30,138.97 647.80,138.97 648.30,138.97 648.80,138.97 649.30,138.97 649.80,138.97 650.30,138.97 650.80,138.97 651.30,138.97 651.80,138.97 652.30,138.97 652.80,138.97 653.30,138.97 653.80,138.97 654.30,138.97 654.80,138.97 655.30,138.96 655.80,138.96 656.30,138.96 656.80,138.96 657.30,138.96 657.80,138.96 658.30,138.95 658.80,138.95 659.30,138.95 659.80,138.95 660.30,138.94 660.80,138.94 661.30,138.94 661.80,138.94 662.30,138.93 662.80,138.93 663.30,138.93 663.80,138.92 664.30,138.92 664.80,138.92 665.30,138.92 665.80,138.91 666.30,138.91 666.80,138.91 667.30,138.90 667.80,138.90 668.30,138.89 668.80,138.89 669.30,138.89 669.80,138.88 670.30,138.88 670.80,138.88 671.30,138.87 671.80,138.87 672.30,138.86 672.80,138.86 673.30,138.86 673.80,138.85 674.30,138.85 674.80,138.84 675.30,138.84 675.80,138.84 676.30,138.83 676.80,138.83 677.30,138.82 677.80,138.82 678.30,138.81 678.80,138.81 679.30,138.80 679.80,138.80 680.30,138.80 680.80,138.79" stroke="#2f6fb2" stroke-width="1.7" stroke-linejoin="round"/>
<polyline points="500.80,148.28 501.30,148.17 501.80,148.02 502.30,147.88 502.80,147.77 503.30,147.70 503.80,147.71 504.30,147.78 504.80,147.91 505.30,148.09 505.80,148.28 506.30,148.46 506.80,148.60 507.30,148.67 507.80,148.68 508.30,148.62 508.80,148.51 509.30,148.38 509.80,148.24 510.30,148.13 510.80,148.07 511.30,148.05 511.80,148.08 512.30,148.15 512.80,148.22 513.30,148.29 513.80,148.32 514.30,148.30 514.80,148.24 515.30,148.13 515.80,148.01 516.30,147.88 516.80,147.79 517.30,147.74 517.80,147.76 518.30,147.85 518.80,147.99 519.30,148.17 519.80,148.37 520.30,148.54 520.80,148.66 521.30,148.72 521.80,148.70 522.30,148.62 522.80,148.50 523.30,148.35 523.80,148.20 524.30,148.08 524.80,148.01 525.30,147.99 525.80,148.02 526.30,148.09 526.80,148.16 527.30,148.23 527.80,148.27 528.30,148.27 528.80,148.21 529.30,148.12 529.80,148.01 530.30,147.90 530.80,147.82 531.30,147.80 531.80,147.83 532.30,147.93 532.80,148.08 533.30,148.26 533.80,148.44 534.30,148.60 534.80,148.70 535.30,148.74 535.80,148.71 536.30,148.61 536.80,148.46 537.30,148.30 537.80,148.14 538.30,148.01 538.80,147.94 539.30,147.92 539.80,147.95 540.30,148.03 540.80,148.12 541.30,148.19 541.80,148.24 542.30,148.25 542.80,148.21 543.30,148.13 543.80,148.04 544.30,147.94 544.80,147.88 545.30,147.86 545.80,147.90 546.30,148.00 546.80,148.15 547.30,148.33 547.80,148.50 548.30,148.64 548.80,148.73 549.30,148.75 549.80,148.69 550.30,148.57 550.80,148.41 551.30,148.23 551.80,148.06 552.30,147.94 552.80,147.86 553.30,147.85 553.80,147.90 554.30,147.98 554.80,148.08 555.30,148.17 555.80,148.23 556.30,148.25 556.80,148.23 557.30,148.16 557.80,148.08 558.30,148.00 558.80,147.94 559.30,147.93 559.80,147.98 560.30,148.08 560.80,148.22 561.30,148.39 561.80,148.54 562.30,148.67 562.80,148.73 563.30,148.73 563.80,148.65 564.30,148.52 564.80,148.34 565.30,148.15 565.80,147.98 566.30,147.86 566.80,147.79 567.30,147.80 567.80,147.85 568.30,147.95 568.80,148.07 569.30,148.17 569.80,148.25 570.30,148.28 570.80,148.26 571.30,148.21 571.80,148.13 572.30,148.06 572.80,148.01 573.30,148.00 573.80,148.05 574.30,148.14 574.80,148.28 575.30,148.20 575.80,148.20 576.30,148.20 576.80,148.20 577.30,148.20 577.80,148.20 578.30,148.20 578.80,148.20 579.30,148.20 579.80,148.20 580.30,148.20 580.80,148.20 581.30,148.20 581.80,148.20 582.30,148.20 582.80,148.20 583.30,148.20 583.80,148.20 584.30,148.20 584.80,148.20 585.30,148.20 585.80,148.20 586.30,148.20 586.80,148.20 587.30,148.20 587.80,148.20 588.30,148.20 588.80,148.20 589.30,148.20 589.80,148.20 590.30,148.20 590.80,148.20 591.30,148.20 591.80,148.20 592.30,148.20 592.80,148.20 593.30,148.20 593.80,148.20 594.30,148.20 594.80,148.20 595.30,148.20 595.80,148.20 596.30,148.20 596.80,148.20 597.30,148.20 597.80,148.20 598.30,148.20 598.80,148.20 599.30,148.20 599.80,148.20 600.30,148.20 600.80,148.20 601.30,148.20 601.80,148.20 602.30,148.20 602.80,148.20 603.30,148.20 603.80,148.20 604.30,148.20 604.80,148.20 605.30,148.20 605.80,148.20 606.30,148.20 606.80,148.20 607.30,148.20 607.80,148.20 608.30,148.20 608.80,148.20 609.30,148.20 609.80,148.20 610.30,148.20 610.80,148.20 611.30,148.20 611.80,148.20 612.30,148.20 612.80,148.20 613.30,148.20 613.80,148.20 614.30,148.20 614.80,148.20 615.30,148.20 615.80,148.20 616.30,148.20 616.80,148.20 617.30,148.20 617.80,148.20 618.30,148.20 618.80,148.20 619.30,148.20 619.80,148.20 620.30,148.20 620.80,148.20 621.30,148.20 621.80,148.20 622.30,148.20 622.80,148.20 623.30,148.20 623.80,148.20 624.30,148.20 624.80,148.20 625.30,148.20 625.80,148.20 626.30,148.20 626.80,148.20 627.30,148.20 627.80,148.20 628.30,148.20 628.80,148.20 629.30,148.20 629.80,148.20 630.30,148.20 630.80,148.20 631.30,148.20 631.80,148.20 632.30,148.20 632.80,148.20 633.30,148.20 633.80,148.20 634.30,148.20 634.80,148.20 635.30,148.20 635.80,148.20 636.30,148.20 636.80,148.20 637.30,148.20 637.80,148.20 638.30,148.20 638.80,148.20 639.30,148.20 639.80,148.20 640.30,148.20 640.80,148.20 641.30,148.20 641.80,148.20 642.30,148.20 642.80,148.20 643.30,148.20 643.80,148.20 644.30,148.20 644.80,148.20 645.30,148.20 645.80,148.20 646.30,148.20 646.80,148.20 647.30,148.20 647.80,148.20 648.30,148.20 648.80,148.20 649.30,148.20 649.80,148.20 650.30,148.20 650.80,148.20 651.30,148.20 651.80,148.20 652.30,148.20 652.80,148.20 653.30,148.20 653.80,148.20 654.30,148.20 654.80,148.20 655.30,148.20 655.80,148.20 656.30,148.20 656.80,148.20 657.30,148.20 657.80,148.20 658.30,148.20 658.80,148.20 659.30,148.20 659.80,148.20 660.30,148.20 660.80,148.20 661.30,148.20 661.80,148.20 662.30,148.20 662.80,148.20 663.30,148.20 663.80,148.20 664.30,148.20 664.80,148.20 665.30,148.20 665.80,148.20 666.30,148.20 666.80,148.20 667.30,148.20 667.80,148.20 668.30,148.20 668.80,148.20 669.30,148.20 669.80,148.20 670.30,148.20 670.80,148.20 671.30,148.20 671.80,148.20 672.30,148.20 672.80,148.20 673.30,148.20 673.80,148.20 674.30,148.20 674.80,148.20 675.30,148.20 675.80,148.20 676.30,148.20 676.80,148.20 677.30,148.20 677.80,148.20 678.30,148.20 678.80,148.20 679.30,148.20 679.80,148.20 680.30,148.20 680.80,148.20" stroke="#22427c" stroke-width="1.7" stroke-linejoin="round"/>
</g>
<text x="0.6" y="210.6" font-size="15" fill="#000" text-anchor="start" font-weight="bold" >d</text>
<rect x="15.8" y="210.4" width="311.9" height="146" fill="none" stroke="#777" stroke-width="1"/>
<line x1="15.8" y1="351.2" x2="18.6" y2="351.2" stroke="#777" stroke-width="0.7"/>
<line x1="15.8" y1="338.45" x2="17.4" y2="338.45" stroke="#777" stroke-width="0.6"/>
<text x="12.7" y="353.7" font-size="7.0" fill="#333" text-anchor="end" font-weight="normal" >0</text>
<line x1="15.8" y1="325.7" x2="18.6" y2="325.7" stroke="#777" stroke-width="0.7"/>
<line x1="15.8" y1="312.95" x2="17.4" y2="312.95" stroke="#777" stroke-width="0.6"/>
<text x="12.7" y="328.2" font-size="7.0" fill="#333" text-anchor="end" font-weight="normal" >1</text>
<line x1="15.8" y1="300.2" x2="18.6" y2="300.2" stroke="#777" stroke-width="0.7"/>
<line x1="15.8" y1="287.45" x2="17.4" y2="287.45" stroke="#777" stroke-width="0.6"/>
<text x="12.7" y="302.7" font-size="7.0" fill="#333" text-anchor="end" font-weight="normal" >2</text>
<line x1="15.8" y1="274.7" x2="18.6" y2="274.7" stroke="#777" stroke-width="0.7"/>
<line x1="15.8" y1="261.95" x2="17.4" y2="261.95" stroke="#777" stroke-width="0.6"/>
<text x="12.7" y="277.2" font-size="7.0" fill="#333" text-anchor="end" font-weight="normal" >3</text>
<line x1="15.8" y1="249.2" x2="18.6" y2="249.2" stroke="#777" stroke-width="0.7"/>
<line x1="15.8" y1="236.45" x2="17.4" y2="236.45" stroke="#777" stroke-width="0.6"/>
<text x="12.7" y="251.7" font-size="7.0" fill="#333" text-anchor="end" font-weight="normal" >4</text>
<line x1="15.8" y1="223.7" x2="18.6" y2="223.7" stroke="#777" stroke-width="0.7"/>
<text x="12.7" y="226.2" font-size="7.0" fill="#333" text-anchor="end" font-weight="normal" >5</text>
<text transform="translate(6.0,279.3) rotate(-90)" font-size="8.4" fill="#222" text-anchor="middle">Free energy (eV)</text>
<text x="172" y="364.9" font-size="9.1" fill="#222" text-anchor="middle" font-weight="normal" >Reaction coordinate</text>
<line x1="21.9" y1="217.2" x2="36.8" y2="217.2" stroke="#5a98d6" stroke-width="2.1"/>
<line x1="21.9" y1="226.5" x2="36.8" y2="226.5" stroke="#d674a8" stroke-width="2.1"/>
<text x="38.9" y="219.8" font-size="7.0" fill="#222" text-anchor="start" font-weight="normal" >AEM</text>
<text x="38.9" y="229.1" font-size="7.0" fill="#222" text-anchor="start" font-weight="normal" >OPM</text>
<linearGradient id="gblue" x1="0" x2="0" y1="0" y2="1"><stop offset="0" stop-color="#9fc2ec"/><stop offset="1" stop-color="#dde9f8"/></linearGradient>
<radialGradient id="gpink" cx="0.5" cy="0.55" r="0.7"><stop offset="0" stop-color="#eb8fba"/><stop offset="1" stop-color="#f8d9e6"/></radialGradient>
<rect x="137" y="257" width="13.9" height="54" fill="url(#gblue)"/>
<rect x="177.8" y="247.5" width="16.1" height="41.8" fill="url(#gpink)"/>
<line x1="136" y1="312.4" x2="152.2" y2="259.3" stroke="#c5d8ee" stroke-width="0.8" stroke-dasharray="1,1.5"/>
<line x1="178.2" y1="259.3" x2="194.9" y2="232.7" stroke="#c5d8ee" stroke-width="0.8" stroke-dasharray="1,1.5"/>
<line x1="220.8" y1="232.5" x2="237.8" y2="225.5" stroke="#c5d8ee" stroke-width="0.8" stroke-dasharray="1,1.5"/>
<line x1="50.8" y1="351.2" x2="67.4" y2="336.6" stroke="#d46ea4" stroke-width="1.3" stroke-dasharray="2,2.2"/>
<line x1="92.8" y1="336.6" x2="109.5" y2="312.4" stroke="#d46ea4" stroke-width="1.3" stroke-dasharray="2,2.2"/>
<line x1="136" y1="312.4" x2="152.2" y2="286.8" stroke="#d46ea4" stroke-width="1.3" stroke-dasharray="2,2.2"/>
<line x1="178.2" y1="286.8" x2="193.9" y2="247" stroke="#d46ea4" stroke-width="1.3" stroke-dasharray="2,2.2"/>
<line x1="220.5" y1="247" x2="236.8" y2="237.2" stroke="#d46ea4" stroke-width="1.3" stroke-dasharray="2,2.2"/>
<line x1="265.4" y1="237.2" x2="292" y2="225.5" stroke="#d46ea4" stroke-width="1.3" stroke-dasharray="2,2.2"/>
<line x1="24.5" y1="351.2" x2="50.8" y2="351.2" stroke="#d46ea4" stroke-width="1.9"/>
<line x1="67.4" y1="336.6" x2="92.8" y2="336.6" stroke="#d46ea4" stroke-width="1.9"/>
<line x1="109.5" y1="312.4" x2="136" y2="312.4" stroke="#d46ea4" stroke-width="1.9"/>
<line x1="152.2" y1="259.3" x2="178.2" y2="259.3" stroke="#5b9bd5" stroke-width="1.9"/>
<line x1="152.2" y1="286.8" x2="178.2" y2="286.8" stroke="#d46ea4" stroke-width="1.9"/>
<line x1="193.9" y1="247" x2="220.5" y2="247" stroke="#d46ea4" stroke-width="1.9"/>
<line x1="194.9" y1="232.7" x2="220.5" y2="232.7" stroke="#5b9bd5" stroke-width="1.9"/>
<line x1="237.8" y1="225.5" x2="263.8" y2="225.5" stroke="#5b9bd5" stroke-width="1.9"/>
<line x1="236.8" y1="237.2" x2="265.4" y2="237.2" stroke="#d46ea4" stroke-width="1.9"/>
<line x1="292" y1="225.5" x2="323.6" y2="225.5" stroke="#d46ea4" stroke-width="1.9"/>
<line x1="103.8" y1="281.1" x2="127" y2="281.1" stroke="#5b9bd5" stroke-width="1.6"/><polygon points="131,281.1 125,277.8 125,284.4" fill="#5b9bd5"/>
<line x1="205" y1="271.2" x2="228" y2="271.2" stroke="#d46ea4" stroke-width="1.6"/><polygon points="201.3,271.2 207.3,267.9 207.3,274.5" fill="#d46ea4"/>
<text x="75" y="285.8" font-size="12.6" fill="#5b9bd5" text-anchor="middle" font-weight="normal" >2.091 eV</text>
<text x="254.7" y="274.7" font-size="12.6" fill="#d46ea4" text-anchor="middle" font-weight="normal" >1.581 eV</text>
<text x="18.2" y="346.2" font-size="11.4" fill="#111"><tspan font-size="8.21" dy="-2.28">*</tspan><tspan dy="2.28"> + H</tspan><tspan font-size="7.98" dy="2.51">2</tspan><tspan dy="-2.51">O</tspan></text>
<text x="69.0" y="331.6" font-size="11.4" fill="#111"><tspan font-size="8.21" dy="-2.28">*</tspan><tspan dy="2.28">OH</tspan></text>
<text x="112.2" y="307.8" font-size="10.6" fill="#5b9bd5"><tspan font-size="7.63" dy="-2.12">*</tspan><tspan dy="2.12">O</tspan></text>
<text x="103.2" y="327.8" font-size="10.6" fill="#d46ea4"><tspan font-size="7.63" dy="-2.12">*</tspan><tspan dy="2.12">OH-</tspan><tspan font-size="7.63" dy="-2.12">*</tspan><tspan dy="2.12">OH</tspan></text>
<text x="150.3" y="256.3" font-size="10.6" fill="#5b9bd5"><tspan font-size="7.63" dy="-2.12">*</tspan><tspan dy="2.12">OOH</tspan></text>
<text x="149.7" y="300.9" font-size="10.6" fill="#d46ea4"><tspan font-size="7.63" dy="-2.12">*</tspan><tspan dy="2.12">O-</tspan><tspan font-size="7.63" dy="-2.12">*</tspan><tspan dy="2.12">OH</tspan></text>
<text x="194.9" y="259.5" font-size="10.6" fill="#d46ea4"><tspan font-size="7.63" dy="-2.12">*</tspan><tspan dy="2.12">O-</tspan><tspan font-size="7.63" dy="-2.12">*</tspan><tspan dy="2.12">O</tspan></text>
<text x="194.9" y="228.7" font-size="10.6" fill="#5b9bd5"><tspan font-size="7.63" dy="-2.12">*</tspan><tspan dy="2.12">O</tspan><tspan font-size="7.42" dy="2.33">2</tspan></text>
<text x="236.4" y="221.4" font-size="10.6" fill="#5b9bd5"><tspan font-size="7.63" dy="-2.12">*</tspan><tspan dy="2.12"> + O</tspan><tspan font-size="7.42" dy="2.33">2</tspan></text>
<text x="241.9" y="250.0" font-size="10.6" fill="#d46ea4"><tspan font-size="7.63" dy="-2.12">*</tspan><tspan dy="2.12">O</tspan><tspan font-size="7.42" dy="2.33">2</tspan></text>
<text x="293.6" y="239.2" font-size="10.6" fill="#d46ea4"><tspan font-size="7.63" dy="-2.12">*</tspan><tspan dy="2.12"> + O</tspan><tspan font-size="7.42" dy="2.33">2</tspan></text>
<text x="229.6" y="326.3" font-size="12.4" fill="#5b9bd5" text-anchor="start"><tspan font-style="italic">η</tspan><tspan font-size="8.2" dy="-4.5">AEM</tspan><tspan dy="4.5"> = 0.861 V</tspan></text>
<text x="231.7" y="343.6" font-size="12.4" fill="#d46ea4" text-anchor="start"><tspan font-style="italic">η</tspan><tspan font-size="8.2" dy="-4.5">OPM</tspan><tspan dy="4.5"> = 0.361 V</tspan></text>
<defs>
<radialGradient id="sTi" cx="0.38" cy="0.35" r="0.7"><stop offset="0" stop-color="#f0c8e4"/><stop offset="0.55" stop-color="#c37aae"/><stop offset="1" stop-color="#8d4a7c"/></radialGradient>
<radialGradient id="sRu" cx="0.38" cy="0.35" r="0.7"><stop offset="0" stop-color="#a8c8e8"/><stop offset="0.55" stop-color="#4a80b4"/><stop offset="1" stop-color="#2a5680"/></radialGradient>
<radialGradient id="sO" cx="0.38" cy="0.35" r="0.7"><stop offset="0" stop-color="#ff9a9a"/><stop offset="0.5" stop-color="#ee1c1c"/><stop offset="1" stop-color="#b00000"/></radialGradient>
<radialGradient id="sOa" cx="0.38" cy="0.35" r="0.7"><stop offset="0" stop-color="#ffffd0"/><stop offset="0.55" stop-color="#e6e040"/><stop offset="1" stop-color="#a8a020"/></radialGradient>
<radialGradient id="sH" cx="0.38" cy="0.35" r="0.7"><stop offset="0" stop-color="#ffffff"/><stop offset="0.6" stop-color="#cfcfcf"/><stop offset="1" stop-color="#9a9a9a"/></radialGradient>
<radialGradient id="lTi" cx="0.4" cy="0.4" r="0.6"><stop offset="0" stop-color="#f2dcec"/><stop offset="1" stop-color="#cf94c0"/></radialGradient>
<radialGradient id="lRu" cx="0.4" cy="0.4" r="0.6"><stop offset="0" stop-color="#dfeaf6"/><stop offset="1" stop-color="#8fb2d8"/></radialGradient>
<radialGradient id="lO" cx="0.4" cy="0.4" r="0.6"><stop offset="0" stop-color="#ffc8c8"/><stop offset="1" stop-color="#ee5a5a"/></radialGradient>
<radialGradient id="lOa" cx="0.4" cy="0.4" r="0.6"><stop offset="0" stop-color="#fbfbd8"/><stop offset="1" stop-color="#dede70"/></radialGradient>
<radialGradient id="lH" cx="0.4" cy="0.4" r="0.6"><stop offset="0" stop-color="#f4f4f4"/><stop offset="1" stop-color="#c8c8c8"/></radialGradient>
<radialGradient id="vign" cx="0.5" cy="0.5" r="0.5"><stop offset="0.78" stop-color="#fff" stop-opacity="0"/><stop offset="0.9" stop-color="#eea0b4" stop-opacity="0.5"/><stop offset="1" stop-color="#f4c8d2" stop-opacity="0.9"/></radialGradient>
<filter id="soft" x="-20%" y="-20%" width="140%" height="140%"><feGaussianBlur stdDeviation="1.1"/></filter>
</defs>
<text x="353.3" y="211.3" font-size="15" fill="#000" text-anchor="start" font-weight="bold" >e</text>
<path d="M420.8,222.5 Q450.4,224.2 467.5,246.3 Q479.6,273.4 467.7,300.8 Q450.8,323.7 421.2,326.2 Q389.9,324.0 371,301.2 Q359.0,274.1 371,247 Q389.6,224.5 420.8,222.5 Z" fill="#fbe5dc" stroke="#ecc4b0" stroke-width="0.6" stroke-dasharray="2,1.6"/>
<path d="M383.1,222.9 Q388,212 397.1,210.2" fill="none" stroke="#e2b08e" stroke-width="0.9" stroke-dasharray="2,1.6"/>
<polyline points="393.9,210.2 397.6,209.8 396.0,213.1" fill="none" stroke="#e2b08e" stroke-width="0.9"/>
<path d="M444.1,210.2 Q450,219 461.9,219.1" fill="none" stroke="#e2b08e" stroke-width="0.9" stroke-dasharray="2,1.6"/>
<polyline points="459.2,217.3 462.4,219.1 459.2,220.9" fill="none" stroke="#e2b08e" stroke-width="0.9"/>
<path d="M486,264.8 Q481,274 489.9,282.6" fill="none" stroke="#e2b08e" stroke-width="0.9" stroke-dasharray="2,1.6"/>
<polyline points="489.2,279.5 490.2,283 486.7,282.0" fill="none" stroke="#e2b08e" stroke-width="0.9"/>
<path d="M460.6,324.5 Q452,330 445.4,334.7" fill="none" stroke="#e2b08e" stroke-width="0.9" stroke-dasharray="2,1.6"/>
<polyline points="448.6,334.3 445,335 446.3,331.6" fill="none" stroke="#e2b08e" stroke-width="0.9"/>
<path d="M395.8,337.2 Q390,328 380.6,325.8" fill="none" stroke="#e2b08e" stroke-width="0.9" stroke-dasharray="2,1.6"/>
<polyline points="383.0,328.0 380.2,325.7 383.7,324.5" fill="none" stroke="#e2b08e" stroke-width="0.9"/>
<clipPath id="mc1"><ellipse cx="420.8" cy="222.5" rx="20.0" ry="21.0"/></clipPath>
<g clip-path="url(#mc1)">
<ellipse cx="420.8" cy="222.5" rx="20.0" ry="21.0" fill="#fff"/>
<path d="M420.8,212.2 L412.0,222.5 M420.8,212.2 L412.0,202.7 M412.0,222.5 L403.2,212.2 M403.2,212.2 L412.0,202.7 M403.2,212.2 L394.4,222.5 M420.8,212.2 L429.6,222.5 M420.8,212.2 L429.6,202.7 M429.6,222.5 L438.4,212.2 M438.4,212.2 L429.6,202.7 M438.4,212.2 L447.2,222.5 M420.8,232.8 L412.0,222.5 M420.8,232.8 L412.0,242.3 M412.0,222.5 L403.2,232.8 M403.2,232.8 L412.0,242.3 M403.2,232.8 L394.4,222.5 M420.8,232.8 L429.6,222.5 M420.8,232.8 L429.6,242.3 M429.6,222.5 L438.4,232.8 M438.4,232.8 L429.6,242.3 M438.4,232.8 L447.2,222.5" stroke="#ffffff" stroke-width="3.2" fill="none"/>
<path d="M420.8,212.2 L412.0,222.5 M420.8,212.2 L412.0,202.7 M412.0,222.5 L403.2,212.2 M403.2,212.2 L412.0,202.7 M403.2,212.2 L394.4,222.5 M420.8,212.2 L429.6,222.5 M420.8,212.2 L429.6,202.7 M429.6,222.5 L438.4,212.2 M438.4,212.2 L429.6,202.7 M438.4,212.2 L447.2,222.5 M420.8,232.8 L412.0,222.5 M420.8,232.8 L412.0,242.3 M412.0,222.5 L403.2,232.8 M403.2,232.8 L412.0,242.3 M403.2,232.8 L394.4,222.5 M420.8,232.8 L429.6,222.5 M420.8,232.8 L429.6,242.3 M429.6,222.5 L438.4,232.8 M438.4,232.8 L429.6,242.3 M438.4,232.8 L447.2,222.5" stroke="#e8262a" stroke-width="1.5" fill="none"/>
<ellipse cx="420.8" cy="212.2" rx="2.6" ry="4.1" fill="url(#sO)"/>
<ellipse cx="420.8" cy="232.8" rx="2.6" ry="4.1" fill="url(#sO)"/>
<ellipse cx="403.2" cy="212.2" rx="2.2" ry="3.2" fill="url(#sO)"/>
<ellipse cx="403.2" cy="232.8" rx="2.2" ry="3.2" fill="url(#sO)"/>
<ellipse cx="438.40000000000003" cy="212.2" rx="2.2" ry="3.2" fill="url(#sO)"/>
<ellipse cx="438.40000000000003" cy="232.8" rx="2.2" ry="3.2" fill="url(#sO)"/>
<circle cx="403.2" cy="202.7" r="4.4" fill="url(#sTi)"/>
<circle cx="412.0" cy="202.7" r="4.4" fill="url(#sTi)"/>
<circle cx="420.8" cy="202.7" r="4.4" fill="url(#sTi)"/>
<circle cx="429.6" cy="202.7" r="4.4" fill="url(#sTi)"/>
<circle cx="438.4" cy="202.7" r="4.4" fill="url(#sTi)"/>
<circle cx="403.2" cy="222.5" r="4.2" fill="url(#sTi)"/>
<circle cx="412.0" cy="222.5" r="4.2" fill="url(#sTi)"/>
<circle cx="420.8" cy="222.5" r="4.2" fill="url(#sTi)"/>
<circle cx="429.6" cy="222.5" r="4.2" fill="url(#sRu)"/>
<circle cx="438.4" cy="222.5" r="4.2" fill="url(#sTi)"/>
<circle cx="403.2" cy="242.3" r="4.4" fill="url(#sTi)"/>
<circle cx="412.0" cy="242.3" r="4.4" fill="url(#sTi)"/>
<circle cx="420.8" cy="242.3" r="4.4" fill="url(#sTi)"/>
<circle cx="429.6" cy="242.3" r="4.4" fill="url(#sTi)"/>
<circle cx="438.4" cy="242.3" r="4.4" fill="url(#sTi)"/>
<ellipse cx="420.8" cy="222.5" rx="20.0" ry="21.0" fill="url(#vign)"/>
</g>
<ellipse cx="420.8" cy="222.5" rx="19.7" ry="20.7" fill="none" stroke="#f2b6c4" stroke-width="1.6" opacity="0.6" filter="url(#soft)"/>
<clipPath id="mc2"><ellipse cx="467.5" cy="246.3" rx="20.0" ry="21.0"/></clipPath>
<g clip-path="url(#mc2)">
<ellipse cx="467.5" cy="246.3" rx="20.0" ry="21.0" fill="#fff"/>
<path d="M467.5,236.0 L458.7,246.3 M467.5,236.0 L458.7,226.5 M458.7,246.3 L449.9,236.0 M449.9,236.0 L458.7,226.5 M449.9,236.0 L441.1,246.3 M467.5,236.0 L476.3,246.3 M467.5,236.0 L476.3,226.5 M476.3,246.3 L485.1,236.0 M485.1,236.0 L476.3,226.5 M485.1,236.0 L493.9,246.3 M467.5,256.6 L458.7,246.3 M467.5,256.6 L458.7,266.1 M458.7,246.3 L449.9,256.6 M449.9,256.6 L458.7,266.1 M449.9,256.6 L441.1,246.3 M467.5,256.6 L476.3,246.3 M467.5,256.6 L476.3,266.1 M476.3,246.3 L485.1,256.6 M485.1,256.6 L476.3,266.1 M485.1,256.6 L493.9,246.3" stroke="#ffffff" stroke-width="3.2" fill="none"/>
<path d="M467.5,236.0 L458.7,246.3 M467.5,236.0 L458.7,226.5 M458.7,246.3 L449.9,236.0 M449.9,236.0 L458.7,226.5 M449.9,236.0 L441.1,246.3 M467.5,236.0 L476.3,246.3 M467.5,236.0 L476.3,226.5 M476.3,246.3 L485.1,236.0 M485.1,236.0 L476.3,226.5 M485.1,236.0 L493.9,246.3 M467.5,256.6 L458.7,246.3 M467.5,256.6 L458.7,266.1 M458.7,246.3 L449.9,256.6 M449.9,256.6 L458.7,266.1 M449.9,256.6 L441.1,246.3 M467.5,256.6 L476.3,246.3 M467.5,256.6 L476.3,266.1 M476.3,246.3 L485.1,256.6 M485.1,256.6 L476.3,266.1 M485.1,256.6 L493.9,246.3" stroke="#e8262a" stroke-width="1.5" fill="none"/>
<ellipse cx="467.5" cy="236.0" rx="2.6" ry="4.1" fill="url(#sO)"/>
<ellipse cx="467.5" cy="256.6" rx="2.6" ry="4.1" fill="url(#sO)"/>
<ellipse cx="449.9" cy="236.0" rx="2.2" ry="3.2" fill="url(#sO)"/>
<ellipse cx="449.9" cy="256.6" rx="2.2" ry="3.2" fill="url(#sO)"/>
<ellipse cx="485.1" cy="236.0" rx="2.2" ry="3.2" fill="url(#sO)"/>
<ellipse cx="485.1" cy="256.6" rx="2.2" ry="3.2" fill="url(#sO)"/>
<circle cx="449.9" cy="226.5" r="4.4" fill="url(#sTi)"/>
<circle cx="458.7" cy="226.5" r="4.4" fill="url(#sTi)"/>
<circle cx="467.5" cy="226.5" r="4.4" fill="url(#sTi)"/>
<circle cx="476.3" cy="226.5" r="4.4" fill="url(#sTi)"/>
<circle cx="485.1" cy="226.5" r="4.4" fill="url(#sTi)"/>
<circle cx="449.9" cy="246.3" r="4.2" fill="url(#sTi)"/>
<circle cx="458.7" cy="246.3" r="4.2" fill="url(#sTi)"/>
<circle cx="467.5" cy="246.3" r="4.2" fill="url(#sTi)"/>
<circle cx="476.3" cy="246.3" r="4.2" fill="url(#sRu)"/>
<circle cx="485.1" cy="246.3" r="4.2" fill="url(#sTi)"/>
<circle cx="449.9" cy="266.1" r="4.4" fill="url(#sTi)"/>
<circle cx="458.7" cy="266.1" r="4.4" fill="url(#sTi)"/>
<circle cx="467.5" cy="266.1" r="4.4" fill="url(#sTi)"/>
<circle cx="476.3" cy="266.1" r="4.4" fill="url(#sTi)"/>
<circle cx="485.1" cy="266.1" r="4.4" fill="url(#sTi)"/>
<circle cx="476.3" cy="246.3" r="2.4" fill="url(#sOa)"/>
<circle cx="471.5" cy="245.3" r="2.4" fill="url(#sOa)"/>
<circle cx="473.5" cy="251.3" r="1.5" fill="url(#sH)"/>
<ellipse cx="467.5" cy="246.3" rx="20.0" ry="21.0" fill="url(#vign)"/>
</g>
<ellipse cx="467.5" cy="246.3" rx="19.7" ry="20.7" fill="none" stroke="#f2b6c4" stroke-width="1.6" opacity="0.6" filter="url(#soft)"/>
<clipPath id="mc3"><ellipse cx="467.7" cy="300.8" rx="20.0" ry="21.0"/></clipPath>
<g clip-path="url(#mc3)">
<ellipse cx="467.7" cy="300.8" rx="20.0" ry="21.0" fill="#fff"/>
<path d="M467.7,290.5 L458.9,300.8 M467.7,290.5 L458.9,281.0 M458.9,300.8 L450.1,290.5 M450.1,290.5 L458.9,281.0 M450.1,290.5 L441.3,300.8 M467.7,290.5 L476.5,300.8 M467.7,290.5 L476.5,281.0 M476.5,300.8 L485.3,290.5 M485.3,290.5 L476.5,281.0 M485.3,290.5 L494.1,300.8 M467.7,311.1 L458.9,300.8 M467.7,311.1 L458.9,320.6 M458.9,300.8 L450.1,311.1 M450.1,311.1 L458.9,320.6 M450.1,311.1 L441.3,300.8 M467.7,311.1 L476.5,300.8 M467.7,311.1 L476.5,320.6 M476.5,300.8 L485.3,311.1 M485.3,311.1 L476.5,320.6 M485.3,311.1 L494.1,300.8" stroke="#ffffff" stroke-width="3.2" fill="none"/>
<path d="M467.7,290.5 L458.9,300.8 M467.7,290.5 L458.9,281.0 M458.9,300.8 L450.1,290.5 M450.1,290.5 L458.9,281.0 M450.1,290.5 L441.3,300.8 M467.7,290.5 L476.5,300.8 M467.7,290.5 L476.5,281.0 M476.5,300.8 L485.3,290.5 M485.3,290.5 L476.5,281.0 M485.3,290.5 L494.1,300.8 M467.7,311.1 L458.9,300.8 M467.7,311.1 L458.9,320.6 M458.9,300.8 L450.1,311.1 M450.1,311.1 L458.9,320.6 M450.1,311.1 L441.3,300.8 M467.7,311.1 L476.5,300.8 M467.7,311.1 L476.5,320.6 M476.5,300.8 L485.3,311.1 M485.3,311.1 L476.5,320.6 M485.3,311.1 L494.1,300.8" stroke="#e8262a" stroke-width="1.5" fill="none"/>
<ellipse cx="467.7" cy="290.5" rx="2.6" ry="4.1" fill="url(#sO)"/>
<ellipse cx="467.7" cy="311.1" rx="2.6" ry="4.1" fill="url(#sO)"/>
<ellipse cx="450.09999999999997" cy="290.5" rx="2.2" ry="3.2" fill="url(#sO)"/>
<ellipse cx="450.09999999999997" cy="311.1" rx="2.2" ry="3.2" fill="url(#sO)"/>
<ellipse cx="485.3" cy="290.5" rx="2.2" ry="3.2" fill="url(#sO)"/>
<ellipse cx="485.3" cy="311.1" rx="2.2" ry="3.2" fill="url(#sO)"/>
<circle cx="450.1" cy="281.0" r="4.4" fill="url(#sTi)"/>
<circle cx="458.9" cy="281.0" r="4.4" fill="url(#sTi)"/>
<circle cx="467.7" cy="281.0" r="4.4" fill="url(#sTi)"/>
<circle cx="476.5" cy="281.0" r="4.4" fill="url(#sTi)"/>
<circle cx="485.3" cy="281.0" r="4.4" fill="url(#sTi)"/>
<circle cx="450.1" cy="300.8" r="4.2" fill="url(#sTi)"/>
<circle cx="458.9" cy="300.8" r="4.2" fill="url(#sTi)"/>
<circle cx="467.7" cy="300.8" r="4.2" fill="url(#sTi)"/>
<circle cx="476.5" cy="300.8" r="4.2" fill="url(#sRu)"/>
<circle cx="485.3" cy="300.8" r="4.2" fill="url(#sTi)"/>
<circle cx="450.1" cy="320.6" r="4.4" fill="url(#sTi)"/>
<circle cx="458.9" cy="320.6" r="4.4" fill="url(#sTi)"/>
<circle cx="467.7" cy="320.6" r="4.4" fill="url(#sTi)"/>
<circle cx="476.5" cy="320.6" r="4.4" fill="url(#sTi)"/>
<circle cx="485.3" cy="320.6" r="4.4" fill="url(#sTi)"/>
<circle cx="458.9" cy="300.8" r="2.4" fill="url(#sOa)"/>
<circle cx="476.5" cy="300.8" r="2.4" fill="url(#sOa)"/>
<circle cx="457.7" cy="294.8" r="1.5" fill="url(#sH)"/>
<circle cx="472.7" cy="300.8" r="1.5" fill="url(#sH)"/>
<ellipse cx="467.7" cy="300.8" rx="20.0" ry="21.0" fill="url(#vign)"/>
</g>
<ellipse cx="467.7" cy="300.8" rx="19.7" ry="20.7" fill="none" stroke="#f2b6c4" stroke-width="1.6" opacity="0.6" filter="url(#soft)"/>
<clipPath id="mc4"><ellipse cx="421.2" cy="326.2" rx="20.0" ry="21.0"/></clipPath>
<g clip-path="url(#mc4)">
<ellipse cx="421.2" cy="326.2" rx="20.0" ry="21.0" fill="#fff"/>
<path d="M421.2,315.9 L412.4,326.2 M421.2,315.9 L412.4,306.4 M412.4,326.2 L403.6,315.9 M403.6,315.9 L412.4,306.4 M403.6,315.9 L394.8,326.2 M421.2,315.9 L430.0,326.2 M421.2,315.9 L430.0,306.4 M430.0,326.2 L438.8,315.9 M438.8,315.9 L430.0,306.4 M438.8,315.9 L447.6,326.2 M421.2,336.5 L412.4,326.2 M421.2,336.5 L412.4,346.0 M412.4,326.2 L403.6,336.5 M403.6,336.5 L412.4,346.0 M403.6,336.5 L394.8,326.2 M421.2,336.5 L430.0,326.2 M421.2,336.5 L430.0,346.0 M430.0,326.2 L438.8,336.5 M438.8,336.5 L430.0,346.0 M438.8,336.5 L447.6,326.2" stroke="#ffffff" stroke-width="3.2" fill="none"/>
<path d="M421.2,315.9 L412.4,326.2 M421.2,315.9 L412.4,306.4 M412.4,326.2 L403.6,315.9 M403.6,315.9 L412.4,306.4 M403.6,315.9 L394.8,326.2 M421.2,315.9 L430.0,326.2 M421.2,315.9 L430.0,306.4 M430.0,326.2 L438.8,315.9 M438.8,315.9 L430.0,306.4 M438.8,315.9 L447.6,326.2 M421.2,336.5 L412.4,326.2 M421.2,336.5 L412.4,346.0 M412.4,326.2 L403.6,336.5 M403.6,336.5 L412.4,346.0 M403.6,336.5 L394.8,326.2 M421.2,336.5 L430.0,326.2 M421.2,336.5 L430.0,346.0 M430.0,326.2 L438.8,336.5 M438.8,336.5 L430.0,346.0 M438.8,336.5 L447.6,326.2" stroke="#e8262a" stroke-width="1.5" fill="none"/>
<ellipse cx="421.2" cy="315.9" rx="2.6" ry="4.1" fill="url(#sO)"/>
<ellipse cx="421.2" cy="336.5" rx="2.6" ry="4.1" fill="url(#sO)"/>
<ellipse cx="403.59999999999997" cy="315.9" rx="2.2" ry="3.2" fill="url(#sO)"/>
<ellipse cx="403.59999999999997" cy="336.5" rx="2.2" ry="3.2" fill="url(#sO)"/>
<ellipse cx="438.8" cy="315.9" rx="2.2" ry="3.2" fill="url(#sO)"/>
<ellipse cx="438.8" cy="336.5" rx="2.2" ry="3.2" fill="url(#sO)"/>
<circle cx="403.6" cy="306.4" r="4.4" fill="url(#sTi)"/>
<circle cx="412.4" cy="306.4" r="4.4" fill="url(#sTi)"/>
<circle cx="421.2" cy="306.4" r="4.4" fill="url(#sTi)"/>
<circle cx="430.0" cy="306.4" r="4.4" fill="url(#sTi)"/>
<circle cx="438.8" cy="306.4" r="4.4" fill="url(#sTi)"/>
<circle cx="403.6" cy="326.2" r="4.2" fill="url(#sTi)"/>
<circle cx="412.4" cy="326.2" r="4.2" fill="url(#sTi)"/>
<circle cx="421.2" cy="326.2" r="4.2" fill="url(#sTi)"/>
<circle cx="430.0" cy="326.2" r="4.2" fill="url(#sRu)"/>
<circle cx="438.8" cy="326.2" r="4.2" fill="url(#sTi)"/>
<circle cx="403.6" cy="346.0" r="4.4" fill="url(#sTi)"/>
<circle cx="412.4" cy="346.0" r="4.4" fill="url(#sTi)"/>
<circle cx="421.2" cy="346.0" r="4.4" fill="url(#sTi)"/>
<circle cx="430.0" cy="346.0" r="4.4" fill="url(#sTi)"/>
<circle cx="438.8" cy="346.0" r="4.4" fill="url(#sTi)"/>
<circle cx="412.4" cy="326.2" r="2.4" fill="url(#sOa)"/>
<circle cx="430.0" cy="326.2" r="2.4" fill="url(#sOa)"/>
<ellipse cx="421.2" cy="326.2" rx="20.0" ry="21.0" fill="url(#vign)"/>
</g>
<ellipse cx="421.2" cy="326.2" rx="19.7" ry="20.7" fill="none" stroke="#f2b6c4" stroke-width="1.6" opacity="0.6" filter="url(#soft)"/>
<clipPath id="mc5"><ellipse cx="371" cy="301.2" rx="20.0" ry="21.0"/></clipPath>
<g clip-path="url(#mc5)">
<ellipse cx="371" cy="301.2" rx="20.0" ry="21.0" fill="#fff"/>
<path d="M371.0,290.9 L362.2,301.2 M371.0,290.9 L362.2,281.4 M362.2,301.2 L353.4,290.9 M353.4,290.9 L362.2,281.4 M353.4,290.9 L344.6,301.2 M371.0,290.9 L379.8,301.2 M371.0,290.9 L379.8,281.4 M379.8,301.2 L388.6,290.9 M388.6,290.9 L379.8,281.4 M388.6,290.9 L397.4,301.2 M371.0,311.5 L362.2,301.2 M371.0,311.5 L362.2,321.0 M362.2,301.2 L353.4,311.5 M353.4,311.5 L362.2,321.0 M353.4,311.5 L344.6,301.2 M371.0,311.5 L379.8,301.2 M371.0,311.5 L379.8,321.0 M379.8,301.2 L388.6,311.5 M388.6,311.5 L379.8,321.0 M388.6,311.5 L397.4,301.2" stroke="#ffffff" stroke-width="3.2" fill="none"/>
<path d="M371.0,290.9 L362.2,301.2 M371.0,290.9 L362.2,281.4 M362.2,301.2 L353.4,290.9 M353.4,290.9 L362.2,281.4 M353.4,290.9 L344.6,301.2 M371.0,290.9 L379.8,301.2 M371.0,290.9 L379.8,281.4 M379.8,301.2 L388.6,290.9 M388.6,290.9 L379.8,281.4 M388.6,290.9 L397.4,301.2 M371.0,311.5 L362.2,301.2 M371.0,311.5 L362.2,321.0 M362.2,301.2 L353.4,311.5 M353.4,311.5 L362.2,321.0 M353.4,311.5 L344.6,301.2 M371.0,311.5 L379.8,301.2 M371.0,311.5 L379.8,321.0 M379.8,301.2 L388.6,311.5 M388.6,311.5 L379.8,321.0 M388.6,311.5 L397.4,301.2" stroke="#e8262a" stroke-width="1.5" fill="none"/>
<ellipse cx="371" cy="290.9" rx="2.6" ry="4.1" fill="url(#sO)"/>
<ellipse cx="371" cy="311.5" rx="2.6" ry="4.1" fill="url(#sO)"/>
<ellipse cx="353.4" cy="290.9" rx="2.2" ry="3.2" fill="url(#sO)"/>
<ellipse cx="353.4" cy="311.5" rx="2.2" ry="3.2" fill="url(#sO)"/>
<ellipse cx="388.6" cy="290.9" rx="2.2" ry="3.2" fill="url(#sO)"/>
<ellipse cx="388.6" cy="311.5" rx="2.2" ry="3.2" fill="url(#sO)"/>
<circle cx="353.4" cy="281.4" r="4.4" fill="url(#sTi)"/>
<circle cx="362.2" cy="281.4" r="4.4" fill="url(#sTi)"/>
<circle cx="371.0" cy="281.4" r="4.4" fill="url(#sTi)"/>
<circle cx="379.8" cy="281.4" r="4.4" fill="url(#sTi)"/>
<circle cx="388.6" cy="281.4" r="4.4" fill="url(#sTi)"/>
<circle cx="353.4" cy="301.2" r="4.2" fill="url(#sTi)"/>
<circle cx="362.2" cy="301.2" r="4.2" fill="url(#sTi)"/>
<circle cx="371.0" cy="301.2" r="4.2" fill="url(#sTi)"/>
<circle cx="379.8" cy="301.2" r="4.2" fill="url(#sRu)"/>
<circle cx="388.6" cy="301.2" r="4.2" fill="url(#sTi)"/>
<circle cx="353.4" cy="321.0" r="4.4" fill="url(#sTi)"/>
<circle cx="362.2" cy="321.0" r="4.4" fill="url(#sTi)"/>
<circle cx="371.0" cy="321.0" r="4.4" fill="url(#sTi)"/>
<circle cx="379.8" cy="321.0" r="4.4" fill="url(#sTi)"/>
<circle cx="388.6" cy="321.0" r="4.4" fill="url(#sTi)"/>
<circle cx="362.2" cy="301.2" r="2.4" fill="url(#sOa)"/>
<circle cx="379.8" cy="301.2" r="2.4" fill="url(#sOa)"/>
<ellipse cx="371" cy="301.2" rx="20.0" ry="21.0" fill="url(#vign)"/>
</g>
<ellipse cx="371" cy="301.2" rx="19.7" ry="20.7" fill="none" stroke="#f2b6c4" stroke-width="1.6" opacity="0.6" filter="url(#soft)"/>
<clipPath id="mc6"><ellipse cx="371" cy="247" rx="20.0" ry="21.0"/></clipPath>
<g clip-path="url(#mc6)">
<ellipse cx="371" cy="247" rx="20.0" ry="21.0" fill="#fff"/>
<path d="M371.0,236.7 L362.2,247.0 M371.0,236.7 L362.2,227.2 M362.2,247.0 L353.4,236.7 M353.4,236.7 L362.2,227.2 M353.4,236.7 L344.6,247.0 M371.0,236.7 L379.8,247.0 M371.0,236.7 L379.8,227.2 M379.8,247.0 L388.6,236.7 M388.6,236.7 L379.8,227.2 M388.6,236.7 L397.4,247.0 M371.0,257.3 L362.2,247.0 M371.0,257.3 L362.2,266.8 M362.2,247.0 L353.4,257.3 M353.4,257.3 L362.2,266.8 M353.4,257.3 L344.6,247.0 M371.0,257.3 L379.8,247.0 M371.0,257.3 L379.8,266.8 M379.8,247.0 L388.6,257.3 M388.6,257.3 L379.8,266.8 M388.6,257.3 L397.4,247.0" stroke="#ffffff" stroke-width="3.2" fill="none"/>
<path d="M371.0,236.7 L362.2,247.0 M371.0,236.7 L362.2,227.2 M362.2,247.0 L353.4,236.7 M353.4,236.7 L362.2,227.2 M353.4,236.7 L344.6,247.0 M371.0,236.7 L379.8,247.0 M371.0,236.7 L379.8,227.2 M379.8,247.0 L388.6,236.7 M388.6,236.7 L379.8,227.2 M388.6,236.7 L397.4,247.0 M371.0,257.3 L362.2,247.0 M371.0,257.3 L362.2,266.8 M362.2,247.0 L353.4,257.3 M353.4,257.3 L362.2,266.8 M353.4,257.3 L344.6,247.0 M371.0,257.3 L379.8,247.0 M371.0,257.3 L379.8,266.8 M379.8,247.0 L388.6,257.3 M388.6,257.3 L379.8,266.8 M388.6,257.3 L397.4,247.0" stroke="#e8262a" stroke-width="1.5" fill="none"/>
<ellipse cx="371" cy="236.7" rx="2.6" ry="4.1" fill="url(#sO)"/>
<ellipse cx="371" cy="257.3" rx="2.6" ry="4.1" fill="url(#sO)"/>
<ellipse cx="353.4" cy="236.7" rx="2.2" ry="3.2" fill="url(#sO)"/>
<ellipse cx="353.4" cy="257.3" rx="2.2" ry="3.2" fill="url(#sO)"/>
<ellipse cx="388.6" cy="236.7" rx="2.2" ry="3.2" fill="url(#sO)"/>
<ellipse cx="388.6" cy="257.3" rx="2.2" ry="3.2" fill="url(#sO)"/>
<circle cx="353.4" cy="227.2" r="4.4" fill="url(#sTi)"/>
<circle cx="362.2" cy="227.2" r="4.4" fill="url(#sTi)"/>
<circle cx="371.0" cy="227.2" r="4.4" fill="url(#sTi)"/>
<circle cx="379.8" cy="227.2" r="4.4" fill="url(#sTi)"/>
<circle cx="388.6" cy="227.2" r="4.4" fill="url(#sTi)"/>
<circle cx="353.4" cy="247.0" r="4.2" fill="url(#sTi)"/>
<circle cx="362.2" cy="247.0" r="4.2" fill="url(#sTi)"/>
<circle cx="371.0" cy="247.0" r="4.2" fill="url(#sTi)"/>
<circle cx="379.8" cy="247.0" r="4.2" fill="url(#sRu)"/>
<circle cx="388.6" cy="247.0" r="4.2" fill="url(#sTi)"/>
<circle cx="353.4" cy="266.8" r="4.4" fill="url(#sTi)"/>
<circle cx="362.2" cy="266.8" r="4.4" fill="url(#sTi)"/>
<circle cx="371.0" cy="266.8" r="4.4" fill="url(#sTi)"/>
<circle cx="379.8" cy="266.8" r="4.4" fill="url(#sTi)"/>
<circle cx="388.6" cy="266.8" r="4.4" fill="url(#sTi)"/>
<circle cx="379.8" cy="247" r="2.4" fill="url(#sOa)"/>
<circle cx="384" cy="247" r="2.4" fill="url(#sOa)"/>
<ellipse cx="371" cy="247" rx="20.0" ry="21.0" fill="url(#vign)"/>
</g>
<ellipse cx="371" cy="247" rx="19.7" ry="20.7" fill="none" stroke="#f2b6c4" stroke-width="1.6" opacity="0.6" filter="url(#soft)"/>
<text x="420.7" y="269.3" font-size="7.55" fill="#333" text-anchor="middle" font-weight="normal" >Oxide Path</text>
<text x="420.7" y="278.4" font-size="7.55" fill="#333" text-anchor="middle" font-weight="normal" >Mechanism</text>
<text x="420.7" y="286.6" font-size="7.55" fill="#333" text-anchor="middle" font-weight="normal" >(OPM)</text>
<text x="397.8" y="205.0" font-size="6.6" fill="#111" text-anchor="middle">O<tspan font-size="4.2" dy="1.6">2</tspan></text>
<text x="444.3" y="206.4" font-size="6.6" fill="#111" text-anchor="middle">H<tspan font-size="4.2" dy="1.6">2</tspan><tspan dy="-1.6">O</tspan></text>
<text x="475" y="220.1" font-size="6.6" fill="#111" text-anchor="middle">H<tspan font-size="5.2" dy="-2.6">+</tspan><tspan dy="2.6"> + </tspan><tspan font-style="italic">e</tspan><tspan font-size="5.2" dy="-2.6">-</tspan></text>
<text x="495.3" y="263.2" font-size="6.6" fill="#111" text-anchor="middle">H<tspan font-size="4.2" dy="1.6">2</tspan><tspan dy="-1.6">O</tspan></text>
<text x="497.4" y="291.5" font-size="6.6" fill="#111" text-anchor="middle">H<tspan font-size="5.2" dy="-2.6">+</tspan><tspan dy="2.6"> + </tspan><tspan font-style="italic">e</tspan><tspan font-size="5.2" dy="-2.6">-</tspan></text>
<text x="450" y="344.6" font-size="6.6" fill="#111" text-anchor="middle">H<tspan font-size="5.2" dy="-2.6">+</tspan><tspan dy="2.6"> + </tspan><tspan font-style="italic">e</tspan><tspan font-size="5.2" dy="-2.6">-</tspan></text>
<text x="364.5" y="329.9" font-size="6.6" fill="#111" text-anchor="middle">H<tspan font-size="5.2" dy="-2.6">+</tspan><tspan dy="2.6"> + </tspan><tspan font-style="italic">e</tspan><tspan font-size="5.2" dy="-2.6">-</tspan></text>
<text x="526.4" y="210.5" font-size="15" fill="#000" text-anchor="start" font-weight="bold" >f</text>
<path d="M607,220.4 Q637.9,236.0 661.4,261 Q654.7,292.5 636.7,320.2 Q605.7,326.1 575,320 Q558.5,291.8 553.4,260 Q576.7,235.4 607,220.4 Z" fill="#e7f0dd" stroke="#a8c898" stroke-width="0.8" stroke-dasharray="2.2,1.8"/>
<path d="M562.7,233.3 Q573.4,229.7 577.8,219.9" fill="none" stroke="#98c088" stroke-width="0.9" stroke-dasharray="2,1.6"/>
<polyline points="575.4,222.0 578,219.4 578.9,223.0" fill="none" stroke="#98c088" stroke-width="0.9"/>
<path d="M637.8,222.9 Q645,232 655.2,232.2" fill="none" stroke="#98c088" stroke-width="0.9" stroke-dasharray="2,1.6"/>
<polyline points="652.4,230.7 655.7,232.2 652.7,234.3" fill="none" stroke="#98c088" stroke-width="0.9"/>
<path d="M665,288.2 Q656.7,297.4 659.5,307.4" fill="none" stroke="#98c088" stroke-width="0.9" stroke-dasharray="2,1.6"/>
<polyline points="660.3,304.2 659.7,307.8 656.9,305.4" fill="none" stroke="#98c088" stroke-width="0.9"/>
<path d="M616.6,334.8 Q605.6,331.1 596.5,336.6" fill="none" stroke="#98c088" stroke-width="0.9" stroke-dasharray="2,1.6"/>
<polyline points="599.9,336.9 596.2,336.9 598.1,333.7" fill="none" stroke="#98c088" stroke-width="0.9"/>
<path d="M555.6,300 Q546,296 545.8,287.5" fill="none" stroke="#98c088" stroke-width="0.9" stroke-dasharray="2,1.6"/>
<polyline points="545.1,290.6 545.7,287 548.5,289.4" fill="none" stroke="#98c088" stroke-width="0.9"/>
<clipPath id="mc7"><ellipse cx="607" cy="220.4" rx="20.0" ry="21.0"/></clipPath>
<g clip-path="url(#mc7)">
<ellipse cx="607" cy="220.4" rx="20.0" ry="21.0" fill="#fff"/>
<path d="M607.0,210.1 L598.2,220.4 M607.0,210.1 L598.2,200.6 M598.2,220.4 L589.4,210.1 M589.4,210.1 L598.2,200.6 M589.4,210.1 L580.6,220.4 M607.0,210.1 L615.8,220.4 M607.0,210.1 L615.8,200.6 M615.8,220.4 L624.6,210.1 M624.6,210.1 L615.8,200.6 M624.6,210.1 L633.4,220.4 M607.0,230.7 L598.2,220.4 M607.0,230.7 L598.2,240.2 M598.2,220.4 L589.4,230.7 M589.4,230.7 L598.2,240.2 M589.4,230.7 L580.6,220.4 M607.0,230.7 L615.8,220.4 M607.0,230.7 L615.8,240.2 M615.8,220.4 L624.6,230.7 M624.6,230.7 L615.8,240.2 M624.6,230.7 L633.4,220.4" stroke="#ffffff" stroke-width="3.2" fill="none"/>
<path d="M607.0,210.1 L598.2,220.4 M607.0,210.1 L598.2,200.6 M598.2,220.4 L589.4,210.1 M589.4,210.1 L598.2,200.6 M589.4,210.1 L580.6,220.4 M607.0,210.1 L615.8,220.4 M607.0,210.1 L615.8,200.6 M615.8,220.4 L624.6,210.1 M624.6,210.1 L615.8,200.6 M624.6,210.1 L633.4,220.4 M607.0,230.7 L598.2,220.4 M607.0,230.7 L598.2,240.2 M598.2,220.4 L589.4,230.7 M589.4,230.7 L598.2,240.2 M589.4,230.7 L580.6,220.4 M607.0,230.7 L615.8,220.4 M607.0,230.7 L615.8,240.2 M615.8,220.4 L624.6,230.7 M624.6,230.7 L615.8,240.2 M624.6,230.7 L633.4,220.4" stroke="#e8262a" stroke-width="1.5" fill="none"/>
<ellipse cx="607" cy="210.1" rx="2.6" ry="4.1" fill="url(#sO)"/>
<ellipse cx="607" cy="230.70000000000002" rx="2.6" ry="4.1" fill="url(#sO)"/>
<ellipse cx="589.4" cy="210.1" rx="2.2" ry="3.2" fill="url(#sO)"/>
<ellipse cx="589.4" cy="230.70000000000002" rx="2.2" ry="3.2" fill="url(#sO)"/>
<ellipse cx="624.6" cy="210.1" rx="2.2" ry="3.2" fill="url(#sO)"/>
<ellipse cx="624.6" cy="230.70000000000002" rx="2.2" ry="3.2" fill="url(#sO)"/>
<circle cx="589.4" cy="200.6" r="4.4" fill="url(#sTi)"/>
<circle cx="598.2" cy="200.6" r="4.4" fill="url(#sTi)"/>
<circle cx="607.0" cy="200.6" r="4.4" fill="url(#sTi)"/>
<circle cx="615.8" cy="200.6" r="4.4" fill="url(#sTi)"/>
<circle cx="624.6" cy="200.6" r="4.4" fill="url(#sTi)"/>
<circle cx="589.4" cy="220.4" r="4.2" fill="url(#sTi)"/>
<circle cx="598.2" cy="220.4" r="4.2" fill="url(#sTi)"/>
<circle cx="607.0" cy="220.4" r="4.2" fill="url(#sTi)"/>
<circle cx="615.8" cy="220.4" r="4.2" fill="url(#sRu)"/>
<circle cx="624.6" cy="220.4" r="4.2" fill="url(#sTi)"/>
<circle cx="589.4" cy="240.2" r="4.4" fill="url(#sTi)"/>
<circle cx="598.2" cy="240.2" r="4.4" fill="url(#sTi)"/>
<circle cx="607.0" cy="240.2" r="4.4" fill="url(#sTi)"/>
<circle cx="615.8" cy="240.2" r="4.4" fill="url(#sTi)"/>
<circle cx="624.6" cy="240.2" r="4.4" fill="url(#sTi)"/>
<ellipse cx="607" cy="220.4" rx="20.0" ry="21.0" fill="url(#vign)"/>
</g>
<ellipse cx="607" cy="220.4" rx="19.7" ry="20.7" fill="none" stroke="#f2b6c4" stroke-width="1.6" opacity="0.6" filter="url(#soft)"/>
<clipPath id="mc8"><ellipse cx="661.4" cy="261" rx="20.0" ry="21.0"/></clipPath>
<g clip-path="url(#mc8)">
<ellipse cx="661.4" cy="261" rx="20.0" ry="21.0" fill="#fff"/>
<path d="M661.4,250.7 L652.6,261.0 M661.4,250.7 L652.6,241.2 M652.6,261.0 L643.8,250.7 M643.8,250.7 L652.6,241.2 M643.8,250.7 L635.0,261.0 M661.4,250.7 L670.2,261.0 M661.4,250.7 L670.2,241.2 M670.2,261.0 L679.0,250.7 M679.0,250.7 L670.2,241.2 M679.0,250.7 L687.8,261.0 M661.4,271.3 L652.6,261.0 M661.4,271.3 L652.6,280.8 M652.6,261.0 L643.8,271.3 M643.8,271.3 L652.6,280.8 M643.8,271.3 L635.0,261.0 M661.4,271.3 L670.2,261.0 M661.4,271.3 L670.2,280.8 M670.2,261.0 L679.0,271.3 M679.0,271.3 L670.2,280.8 M679.0,271.3 L687.8,261.0" stroke="#ffffff" stroke-width="3.2" fill="none"/>
<path d="M661.4,250.7 L652.6,261.0 M661.4,250.7 L652.6,241.2 M652.6,261.0 L643.8,250.7 M643.8,250.7 L652.6,241.2 M643.8,250.7 L635.0,261.0 M661.4,250.7 L670.2,261.0 M661.4,250.7 L670.2,241.2 M670.2,261.0 L679.0,250.7 M679.0,250.7 L670.2,241.2 M679.0,250.7 L687.8,261.0 M661.4,271.3 L652.6,261.0 M661.4,271.3 L652.6,280.8 M652.6,261.0 L643.8,271.3 M643.8,271.3 L652.6,280.8 M643.8,271.3 L635.0,261.0 M661.4,271.3 L670.2,261.0 M661.4,271.3 L670.2,280.8 M670.2,261.0 L679.0,271.3 M679.0,271.3 L670.2,280.8 M679.0,271.3 L687.8,261.0" stroke="#e8262a" stroke-width="1.5" fill="none"/>
<ellipse cx="661.4" cy="250.7" rx="2.6" ry="4.1" fill="url(#sO)"/>
<ellipse cx="661.4" cy="271.3" rx="2.6" ry="4.1" fill="url(#sO)"/>
<ellipse cx="643.8" cy="250.7" rx="2.2" ry="3.2" fill="url(#sO)"/>
<ellipse cx="643.8" cy="271.3" rx="2.2" ry="3.2" fill="url(#sO)"/>
<ellipse cx="679.0" cy="250.7" rx="2.2" ry="3.2" fill="url(#sO)"/>
<ellipse cx="679.0" cy="271.3" rx="2.2" ry="3.2" fill="url(#sO)"/>
<circle cx="643.8" cy="241.2" r="4.4" fill="url(#sTi)"/>
<circle cx="652.6" cy="241.2" r="4.4" fill="url(#sTi)"/>
<circle cx="661.4" cy="241.2" r="4.4" fill="url(#sTi)"/>
<circle cx="670.2" cy="241.2" r="4.4" fill="url(#sTi)"/>
<circle cx="679.0" cy="241.2" r="4.4" fill="url(#sTi)"/>
<circle cx="643.8" cy="261.0" r="4.2" fill="url(#sTi)"/>
<circle cx="652.6" cy="261.0" r="4.2" fill="url(#sTi)"/>
<circle cx="661.4" cy="261.0" r="4.2" fill="url(#sTi)"/>
<circle cx="670.2" cy="261.0" r="4.2" fill="url(#sRu)"/>
<circle cx="679.0" cy="261.0" r="4.2" fill="url(#sTi)"/>
<circle cx="643.8" cy="280.8" r="4.4" fill="url(#sTi)"/>
<circle cx="652.6" cy="280.8" r="4.4" fill="url(#sTi)"/>
<circle cx="661.4" cy="280.8" r="4.4" fill="url(#sTi)"/>
<circle cx="670.2" cy="280.8" r="4.4" fill="url(#sTi)"/>
<circle cx="679.0" cy="280.8" r="4.4" fill="url(#sTi)"/>
<circle cx="670.1999999999999" cy="261" r="2.4" fill="url(#sOa)"/>
<circle cx="667.4" cy="266" r="1.5" fill="url(#sH)"/>
<ellipse cx="661.4" cy="261" rx="20.0" ry="21.0" fill="url(#vign)"/>
</g>
<ellipse cx="661.4" cy="261" rx="19.7" ry="20.7" fill="none" stroke="#f2b6c4" stroke-width="1.6" opacity="0.6" filter="url(#soft)"/>
<clipPath id="mc9"><ellipse cx="636.7" cy="320.2" rx="20.0" ry="21.0"/></clipPath>
<g clip-path="url(#mc9)">
<ellipse cx="636.7" cy="320.2" rx="20.0" ry="21.0" fill="#fff"/>
<path d="M636.7,309.9 L627.9,320.2 M636.7,309.9 L627.9,300.4 M627.9,320.2 L619.1,309.9 M619.1,309.9 L627.9,300.4 M619.1,309.9 L610.3,320.2 M636.7,309.9 L645.5,320.2 M636.7,309.9 L645.5,300.4 M645.5,320.2 L654.3,309.9 M654.3,309.9 L645.5,300.4 M654.3,309.9 L663.1,320.2 M636.7,330.5 L627.9,320.2 M636.7,330.5 L627.9,340.0 M627.9,320.2 L619.1,330.5 M619.1,330.5 L627.9,340.0 M619.1,330.5 L610.3,320.2 M636.7,330.5 L645.5,320.2 M636.7,330.5 L645.5,340.0 M645.5,320.2 L654.3,330.5 M654.3,330.5 L645.5,340.0 M654.3,330.5 L663.1,320.2" stroke="#ffffff" stroke-width="3.2" fill="none"/>
<path d="M636.7,309.9 L627.9,320.2 M636.7,309.9 L627.9,300.4 M627.9,320.2 L619.1,309.9 M619.1,309.9 L627.9,300.4 M619.1,309.9 L610.3,320.2 M636.7,309.9 L645.5,320.2 M636.7,309.9 L645.5,300.4 M645.5,320.2 L654.3,309.9 M654.3,309.9 L645.5,300.4 M654.3,309.9 L663.1,320.2 M636.7,330.5 L627.9,320.2 M636.7,330.5 L627.9,340.0 M627.9,320.2 L619.1,330.5 M619.1,330.5 L627.9,340.0 M619.1,330.5 L610.3,320.2 M636.7,330.5 L645.5,320.2 M636.7,330.5 L645.5,340.0 M645.5,320.2 L654.3,330.5 M654.3,330.5 L645.5,340.0 M654.3,330.5 L663.1,320.2" stroke="#e8262a" stroke-width="1.5" fill="none"/>
<ellipse cx="636.7" cy="309.9" rx="2.6" ry="4.1" fill="url(#sO)"/>
<ellipse cx="636.7" cy="330.5" rx="2.6" ry="4.1" fill="url(#sO)"/>
<ellipse cx="619.1" cy="309.9" rx="2.2" ry="3.2" fill="url(#sO)"/>
<ellipse cx="619.1" cy="330.5" rx="2.2" ry="3.2" fill="url(#sO)"/>
<ellipse cx="654.3000000000001" cy="309.9" rx="2.2" ry="3.2" fill="url(#sO)"/>
<ellipse cx="654.3000000000001" cy="330.5" rx="2.2" ry="3.2" fill="url(#sO)"/>
<circle cx="619.1" cy="300.4" r="4.4" fill="url(#sTi)"/>
<circle cx="627.9" cy="300.4" r="4.4" fill="url(#sTi)"/>
<circle cx="636.7" cy="300.4" r="4.4" fill="url(#sTi)"/>
<circle cx="645.5" cy="300.4" r="4.4" fill="url(#sTi)"/>
<circle cx="654.3" cy="300.4" r="4.4" fill="url(#sTi)"/>
<circle cx="619.1" cy="320.2" r="4.2" fill="url(#sTi)"/>
<circle cx="627.9" cy="320.2" r="4.2" fill="url(#sTi)"/>
<circle cx="636.7" cy="320.2" r="4.2" fill="url(#sTi)"/>
<circle cx="645.5" cy="320.2" r="4.2" fill="url(#sRu)"/>
<circle cx="654.3" cy="320.2" r="4.2" fill="url(#sTi)"/>
<circle cx="619.1" cy="340.0" r="4.4" fill="url(#sTi)"/>
<circle cx="627.9" cy="340.0" r="4.4" fill="url(#sTi)"/>
<circle cx="636.7" cy="340.0" r="4.4" fill="url(#sTi)"/>
<circle cx="645.5" cy="340.0" r="4.4" fill="url(#sTi)"/>
<circle cx="654.3" cy="340.0" r="4.4" fill="url(#sTi)"/>
<circle cx="645.5" cy="320.2" r="2.4" fill="url(#sOa)"/>
<ellipse cx="636.7" cy="320.2" rx="20.0" ry="21.0" fill="url(#vign)"/>
</g>
<ellipse cx="636.7" cy="320.2" rx="19.7" ry="20.7" fill="none" stroke="#f2b6c4" stroke-width="1.6" opacity="0.6" filter="url(#soft)"/>
<clipPath id="mc10"><ellipse cx="575" cy="320" rx="20.0" ry="21.0"/></clipPath>
<g clip-path="url(#mc10)">
<ellipse cx="575" cy="320" rx="20.0" ry="21.0" fill="#fff"/>
<path d="M575.0,309.7 L566.2,320.0 M575.0,309.7 L566.2,300.2 M566.2,320.0 L557.4,309.7 M557.4,309.7 L566.2,300.2 M557.4,309.7 L548.6,320.0 M575.0,309.7 L583.8,320.0 M575.0,309.7 L583.8,300.2 M583.8,320.0 L592.6,309.7 M592.6,309.7 L583.8,300.2 M592.6,309.7 L601.4,320.0 M575.0,330.3 L566.2,320.0 M575.0,330.3 L566.2,339.8 M566.2,320.0 L557.4,330.3 M557.4,330.3 L566.2,339.8 M557.4,330.3 L548.6,320.0 M575.0,330.3 L583.8,320.0 M575.0,330.3 L583.8,339.8 M583.8,320.0 L592.6,330.3 M592.6,330.3 L583.8,339.8 M592.6,330.3 L601.4,320.0" stroke="#ffffff" stroke-width="3.2" fill="none"/>
<path d="M575.0,309.7 L566.2,320.0 M575.0,309.7 L566.2,300.2 M566.2,320.0 L557.4,309.7 M557.4,309.7 L566.2,300.2 M557.4,309.7 L548.6,320.0 M575.0,309.7 L583.8,320.0 M575.0,309.7 L583.8,300.2 M583.8,320.0 L592.6,309.7 M592.6,309.7 L583.8,300.2 M592.6,309.7 L601.4,320.0 M575.0,330.3 L566.2,320.0 M575.0,330.3 L566.2,339.8 M566.2,320.0 L557.4,330.3 M557.4,330.3 L566.2,339.8 M557.4,330.3 L548.6,320.0 M575.0,330.3 L583.8,320.0 M575.0,330.3 L583.8,339.8 M583.8,320.0 L592.6,330.3 M592.6,330.3 L583.8,339.8 M592.6,330.3 L601.4,320.0" stroke="#e8262a" stroke-width="1.5" fill="none"/>
<ellipse cx="575" cy="309.7" rx="2.6" ry="4.1" fill="url(#sO)"/>
<ellipse cx="575" cy="330.3" rx="2.6" ry="4.1" fill="url(#sO)"/>
<ellipse cx="557.4" cy="309.7" rx="2.2" ry="3.2" fill="url(#sO)"/>
<ellipse cx="557.4" cy="330.3" rx="2.2" ry="3.2" fill="url(#sO)"/>
<ellipse cx="592.6" cy="309.7" rx="2.2" ry="3.2" fill="url(#sO)"/>
<ellipse cx="592.6" cy="330.3" rx="2.2" ry="3.2" fill="url(#sO)"/>
<circle cx="557.4" cy="300.2" r="4.4" fill="url(#sTi)"/>
<circle cx="566.2" cy="300.2" r="4.4" fill="url(#sTi)"/>
<circle cx="575.0" cy="300.2" r="4.4" fill="url(#sTi)"/>
<circle cx="583.8" cy="300.2" r="4.4" fill="url(#sTi)"/>
<circle cx="592.6" cy="300.2" r="4.4" fill="url(#sTi)"/>
<circle cx="557.4" cy="320.0" r="4.2" fill="url(#sTi)"/>
<circle cx="566.2" cy="320.0" r="4.2" fill="url(#sTi)"/>
<circle cx="575.0" cy="320.0" r="4.2" fill="url(#sTi)"/>
<circle cx="583.8" cy="320.0" r="4.2" fill="url(#sRu)"/>
<circle cx="592.6" cy="320.0" r="4.2" fill="url(#sTi)"/>
<circle cx="557.4" cy="339.8" r="4.4" fill="url(#sTi)"/>
<circle cx="566.2" cy="339.8" r="4.4" fill="url(#sTi)"/>
<circle cx="575.0" cy="339.8" r="4.4" fill="url(#sTi)"/>
<circle cx="583.8" cy="339.8" r="4.4" fill="url(#sTi)"/>
<circle cx="592.6" cy="339.8" r="4.4" fill="url(#sTi)"/>
<circle cx="583.8" cy="314" r="2.4" fill="url(#sOa)"/>
<circle cx="583.8" cy="320" r="2.4" fill="url(#sOa)"/>
<circle cx="583.8" cy="309" r="1.5" fill="url(#sH)"/>
<ellipse cx="575" cy="320" rx="20.0" ry="21.0" fill="url(#vign)"/>
</g>
<ellipse cx="575" cy="320" rx="19.7" ry="20.7" fill="none" stroke="#f2b6c4" stroke-width="1.6" opacity="0.6" filter="url(#soft)"/>
<clipPath id="mc11"><ellipse cx="553.4" cy="260" rx="20.0" ry="21.0"/></clipPath>
<g clip-path="url(#mc11)">
<ellipse cx="553.4" cy="260" rx="20.0" ry="21.0" fill="#fff"/>
<path d="M553.4,249.7 L544.6,260.0 M553.4,249.7 L544.6,240.2 M544.6,260.0 L535.8,249.7 M535.8,249.7 L544.6,240.2 M535.8,249.7 L527.0,260.0 M553.4,249.7 L562.2,260.0 M553.4,249.7 L562.2,240.2 M562.2,260.0 L571.0,249.7 M571.0,249.7 L562.2,240.2 M571.0,249.7 L579.8,260.0 M553.4,270.3 L544.6,260.0 M553.4,270.3 L544.6,279.8 M544.6,260.0 L535.8,270.3 M535.8,270.3 L544.6,279.8 M535.8,270.3 L527.0,260.0 M553.4,270.3 L562.2,260.0 M553.4,270.3 L562.2,279.8 M562.2,260.0 L571.0,270.3 M571.0,270.3 L562.2,279.8 M571.0,270.3 L579.8,260.0" stroke="#ffffff" stroke-width="3.2" fill="none"/>
<path d="M553.4,249.7 L544.6,260.0 M553.4,249.7 L544.6,240.2 M544.6,260.0 L535.8,249.7 M535.8,249.7 L544.6,240.2 M535.8,249.7 L527.0,260.0 M553.4,249.7 L562.2,260.0 M553.4,249.7 L562.2,240.2 M562.2,260.0 L571.0,249.7 M571.0,249.7 L562.2,240.2 M571.0,249.7 L579.8,260.0 M553.4,270.3 L544.6,260.0 M553.4,270.3 L544.6,279.8 M544.6,260.0 L535.8,270.3 M535.8,270.3 L544.6,279.8 M535.8,270.3 L527.0,260.0 M553.4,270.3 L562.2,260.0 M553.4,270.3 L562.2,279.8 M562.2,260.0 L571.0,270.3 M571.0,270.3 L562.2,279.8 M571.0,270.3 L579.8,260.0" stroke="#e8262a" stroke-width="1.5" fill="none"/>
<ellipse cx="553.4" cy="249.7" rx="2.6" ry="4.1" fill="url(#sO)"/>
<ellipse cx="553.4" cy="270.3" rx="2.6" ry="4.1" fill="url(#sO)"/>
<ellipse cx="535.8" cy="249.7" rx="2.2" ry="3.2" fill="url(#sO)"/>
<ellipse cx="535.8" cy="270.3" rx="2.2" ry="3.2" fill="url(#sO)"/>
<ellipse cx="571.0" cy="249.7" rx="2.2" ry="3.2" fill="url(#sO)"/>
<ellipse cx="571.0" cy="270.3" rx="2.2" ry="3.2" fill="url(#sO)"/>
<circle cx="535.8" cy="240.2" r="4.4" fill="url(#sTi)"/>
<circle cx="544.6" cy="240.2" r="4.4" fill="url(#sTi)"/>
<circle cx="553.4" cy="240.2" r="4.4" fill="url(#sTi)"/>
<circle cx="562.2" cy="240.2" r="4.4" fill="url(#sTi)"/>
<circle cx="571.0" cy="240.2" r="4.4" fill="url(#sTi)"/>
<circle cx="535.8" cy="260.0" r="4.2" fill="url(#sTi)"/>
<circle cx="544.6" cy="260.0" r="4.2" fill="url(#sTi)"/>
<circle cx="553.4" cy="260.0" r="4.2" fill="url(#sTi)"/>
<circle cx="562.2" cy="260.0" r="4.2" fill="url(#sRu)"/>
<circle cx="571.0" cy="260.0" r="4.2" fill="url(#sTi)"/>
<circle cx="535.8" cy="279.8" r="4.4" fill="url(#sTi)"/>
<circle cx="544.6" cy="279.8" r="4.4" fill="url(#sTi)"/>
<circle cx="553.4" cy="279.8" r="4.4" fill="url(#sTi)"/>
<circle cx="562.2" cy="279.8" r="4.4" fill="url(#sTi)"/>
<circle cx="571.0" cy="279.8" r="4.4" fill="url(#sTi)"/>
<circle cx="562.1999999999999" cy="260" r="2.4" fill="url(#sOa)"/>
<circle cx="566.4" cy="260" r="2.4" fill="url(#sOa)"/>
<ellipse cx="553.4" cy="260" rx="20.0" ry="21.0" fill="url(#vign)"/>
</g>
<ellipse cx="553.4" cy="260" rx="19.7" ry="20.7" fill="none" stroke="#f2b6c4" stroke-width="1.6" opacity="0.6" filter="url(#soft)"/>
<text x="607" y="270.2" font-size="7.3" fill="#333" text-anchor="middle" font-weight="normal" >Adsorbate Evolution</text>
<text x="607" y="279.0" font-size="7.3" fill="#333" text-anchor="middle" font-weight="normal" >Mechanism</text>
<text x="607" y="288.1" font-size="7.3" fill="#333" text-anchor="middle" font-weight="normal" >(AEM)</text>
<text x="577.4" y="215.0" font-size="6.6" fill="#111" text-anchor="middle">O<tspan font-size="4.2" dy="1.6">2</tspan></text>
<text x="639.4" y="216.4" font-size="6.6" fill="#111" text-anchor="middle">H<tspan font-size="4.2" dy="1.6">2</tspan><tspan dy="-1.6">O</tspan></text>
<text x="661.4" y="228.2" font-size="6.6" fill="#111" text-anchor="middle">H<tspan font-size="5.2" dy="-2.6">+</tspan><tspan dy="2.6"> + </tspan><tspan font-style="italic">e</tspan><tspan font-size="5.2" dy="-2.6">-</tspan></text>
<text x="533.3" y="287.9" font-size="6.6" fill="#111" text-anchor="middle">H<tspan font-size="5.2" dy="-2.6">+</tspan><tspan dy="2.6"> + </tspan><tspan font-style="italic">e</tspan><tspan font-size="5.2" dy="-2.6">-</tspan></text>
<text x="669.5" y="315.1" font-size="6.6" fill="#111" text-anchor="middle">H<tspan font-size="5.2" dy="-2.6">+</tspan><tspan dy="2.6"> + </tspan><tspan font-style="italic">e</tspan><tspan font-size="5.2" dy="-2.6">-</tspan></text>
<text x="594.7" y="346.1" font-size="6.6" fill="#111" text-anchor="middle">H<tspan font-size="5.2" dy="-2.6">+</tspan><tspan dy="2.6"> + </tspan><tspan font-style="italic">e</tspan><tspan font-size="5.2" dy="-2.6">-</tspan></text>
<text x="618" y="346.1" font-size="6.6" fill="#111" text-anchor="middle">H<tspan font-size="4.2" dy="1.6">2</tspan><tspan dy="-1.6">O</tspan></text>
<circle cx="355" cy="358.9" r="4.9" fill="url(#lTi)"/>
<text x="366.3" y="362.0" font-size="9.5" fill="#222" text-anchor="start" font-weight="normal" >Ti</text>
<circle cx="407" cy="358.9" r="4.9" fill="url(#lRu)"/>
<text x="415.7" y="362.0" font-size="9.5" fill="#222" text-anchor="start" font-weight="normal" >Ru</text>
<circle cx="458.8" cy="358.9" r="4.9" fill="url(#lO)"/>
<text x="468" y="362.0" font-size="9.5" fill="#222" text-anchor="start" font-weight="normal" >O (lattice)</text>
<circle cx="540.5" cy="358.9" r="4.9" fill="url(#lOa)"/>
<text x="547.7" y="362.0" font-size="9.5" fill="#222" text-anchor="start" font-weight="normal" >O (adsorption)</text>
<circle cx="638.6" cy="358.9" r="4.9" fill="url(#lH)"/>
<text x="649.6" y="362.0" font-size="9.5" fill="#222" text-anchor="start" font-weight="normal" >H</text>
<defs>
<linearGradient id="wedge" x1="0" y1="0" x2="1" y2="0"><stop offset="0" stop-color="#f2f2f2" stop-opacity="0"/><stop offset="0.3" stop-color="#ededed"/><stop offset="1" stop-color="#e2e2e2"/></linearGradient>
<pattern id="pdots" width="3.3" height="3.3" patternUnits="userSpaceOnUse"><rect width="3.3" height="3.3" fill="#8fae88"/><circle cx="1.65" cy="1.65" r="0.85" fill="#33453a"/></pattern>
<pattern id="pdots2" width="3.3" height="3.3" patternUnits="userSpaceOnUse"><rect width="3.3" height="3.3" fill="#a6c98a"/><circle cx="1.65" cy="1.65" r="0.8" fill="#3a4e3a"/></pattern>
<pattern id="pstripeH" width="3" height="3" patternUnits="userSpaceOnUse"><rect width="3" height="3" fill="#92b08a"/><rect x="0" y="0" width="3" height="1.1" fill="#6d8a88"/></pattern>
<pattern id="pstripeV" width="3" height="3" patternUnits="userSpaceOnUse"><rect width="3" height="3" fill="#9ab690"/><rect x="0" y="0" width="1.1" height="3" fill="#6d8a88"/></pattern>
<linearGradient id="petshade" x1="0" y1="0" x2="1" y2="0"><stop offset="0" stop-color="#9fb4c4" stop-opacity="0.0"/><stop offset="1" stop-color="#9fb4c4" stop-opacity="0.45"/></linearGradient>
<linearGradient id="cone" x1="0" y1="0" x2="0" y2="1"><stop offset="0" stop-color="#dfe7ea"/><stop offset="0.35" stop-color="#c5d3de"/><stop offset="0.7" stop-color="#cfdae3"/><stop offset="1" stop-color="#e2e9ea"/></linearGradient>
<pattern id="pgrid" width="9.6" height="9.4" patternUnits="userSpaceOnUse" x="160" y="476"><rect width="9.6" height="9.4" fill="#98b870"/><rect x="3.0" y="2.6" width="4.6" height="5.0" fill="#34444a"/><rect x="1.2" y="2.6" width="1.8" height="5.0" fill="#9aaab8"/><rect x="0" y="0" width="9.6" height="1.3" fill="#c2d49a"/></pattern>
<pattern id="pyel" width="5.4" height="5.4" patternUnits="userSpaceOnUse"><rect width="5.4" height="5.4" fill="#caa044"/><circle cx="2.7" cy="2.7" r="2.55" fill="#eab83e"/><circle cx="2.1" cy="2.0" r="1.05" fill="#f9e08a"/></pattern>
<pattern id="pyels" width="4" height="4" patternUnits="userSpaceOnUse"><rect width="4" height="4" fill="#c89a3a"/><circle cx="2" cy="2" r="1.85" fill="#e8b840"/><circle cx="1.6" cy="1.5" r="0.7" fill="#f6d880"/></pattern>
<pattern id="pgrn" width="5" height="5" patternUnits="userSpaceOnUse"><rect width="5" height="5" fill="#6f8f70"/><circle cx="2.5" cy="2.5" r="2.3" fill="#95b58c"/><circle cx="2" cy="1.9" r="0.9" fill="#c0d8b0"/></pattern>
<radialGradient id="bub" cx="0.5" cy="0.5" r="0.5"><stop offset="0" stop-color="#f0c080"/><stop offset="0.25" stop-color="#e86a5a"/><stop offset="0.45" stop-color="#ffffff"/><stop offset="0.6" stop-color="#e76c6c"/><stop offset="0.85" stop-color="#f2a0a0"/><stop offset="1" stop-color="#ffffff" stop-opacity="0"/></radialGradient>
<radialGradient id="halo" cx="0.5" cy="0.5" r="0.5"><stop offset="0" stop-color="#ffffff" stop-opacity="0.85"/><stop offset="0.6" stop-color="#ffffff" stop-opacity="0.6"/><stop offset="1" stop-color="#ffffff" stop-opacity="0"/></radialGradient>
<radialGradient id="wat" cx="0.4" cy="0.4" r="0.6"><stop offset="0" stop-color="#ffb8a8"/><stop offset="0.6" stop-color="#ee7060"/><stop offset="1" stop-color="#cc5046"/></radialGradient>
<radialGradient id="gRu" cx="0.35" cy="0.35" r="0.7"><stop offset="0" stop-color="#d8ecc8"/><stop offset="0.55" stop-color="#8cb27a"/><stop offset="1" stop-color="#4f7a46"/></radialGradient>
<radialGradient id="gTi" cx="0.35" cy="0.35" r="0.7"><stop offset="0" stop-color="#ffe6a0"/><stop offset="0.55" stop-color="#f0b030"/><stop offset="1" stop-color="#b87810"/></radialGradient>
<linearGradient id="glass" x1="0" y1="0" x2="0" y2="1"><stop offset="0" stop-color="#e4ebe6"/><stop offset="1" stop-color="#dfe6e4"/></linearGradient>
<clipPath id="cyl"><path d="M200,476 C240,460 300,441 362,436 L456,435 Q472,436 472,456 L471,540 Q470,556 455,556 L380,555 C320,553 250,547 205,526 Z"/></clipPath>
</defs>
<text x="1.2" y="385.9" font-size="16" fill="#111" text-anchor="start" font-weight="bold" >g</text>
<polygon points="198,472 459,389 398,440 290,452" fill="url(#wedge)"/>
<path d="M68,493 C90,487 120,474 160,470 L208,470 L208,548 L160,548 C125,546 95,540 68,537 Z" fill="url(#cone)"/>
<path d="M70,495.0 C100,495.0 130,474.0 160,474.0" stroke="#f4f7fa" stroke-width="1.2" fill="none" opacity="0.65"/>
<path d="M70,497.2 C100,497.2 130,477.6 160,477.6" stroke="#a4b6c6" stroke-width="0.7" fill="none" opacity="0.55"/>
<path d="M70,499.4 C100,499.4 130,481.7 160,481.7" stroke="#f4f7fa" stroke-width="1.2" fill="none" opacity="0.65"/>
<path d="M70,501.6 C100,501.6 130,485.3 160,485.3" stroke="#a4b6c6" stroke-width="0.7" fill="none" opacity="0.55"/>
<path d="M70,503.8 C100,503.8 130,489.4 160,489.4" stroke="#f4f7fa" stroke-width="1.2" fill="none" opacity="0.65"/>
<path d="M70,506.0 C100,506.0 130,493.0 160,493.0" stroke="#a4b6c6" stroke-width="0.7" fill="none" opacity="0.55"/>
<path d="M70,508.2 C100,508.2 130,497.1 160,497.1" stroke="#f4f7fa" stroke-width="1.2" fill="none" opacity="0.65"/>
<path d="M70,510.4 C100,510.4 130,500.7 160,500.7" stroke="#a4b6c6" stroke-width="0.7" fill="none" opacity="0.55"/>
<path d="M70,512.6 C100,512.6 130,504.8 160,504.8" stroke="#f4f7fa" stroke-width="1.2" fill="none" opacity="0.65"/>
<path d="M70,514.8 C100,514.8 130,508.4 160,508.4" stroke="#a4b6c6" stroke-width="0.7" fill="none" opacity="0.55"/>
<path d="M70,517.0 C100,517.0 130,512.5 160,512.5" stroke="#f4f7fa" stroke-width="1.2" fill="none" opacity="0.65"/>
<path d="M70,519.2 C100,519.2 130,516.1 160,516.1" stroke="#a4b6c6" stroke-width="0.7" fill="none" opacity="0.55"/>
<path d="M70,521.4 C100,521.4 130,520.2 160,520.2" stroke="#f4f7fa" stroke-width="1.2" fill="none" opacity="0.65"/>
<path d="M70,523.6 C100,523.6 130,523.8 160,523.8" stroke="#a4b6c6" stroke-width="0.7" fill="none" opacity="0.55"/>
<path d="M70,525.8 C100,525.8 130,527.9 160,527.9" stroke="#f4f7fa" stroke-width="1.2" fill="none" opacity="0.65"/>
<path d="M70,528.0 C100,528.0 130,531.5 160,531.5" stroke="#a4b6c6" stroke-width="0.7" fill="none" opacity="0.55"/>
<path d="M70,530.2 C100,530.2 130,535.6 160,535.6" stroke="#f4f7fa" stroke-width="1.2" fill="none" opacity="0.65"/>
<path d="M70,532.4 C100,532.4 130,539.2 160,539.2" stroke="#a4b6c6" stroke-width="0.7" fill="none" opacity="0.55"/>
<path d="M70,534.6 C100,534.6 130,543.3 160,543.3" stroke="#f4f7fa" stroke-width="1.2" fill="none" opacity="0.65"/>
<path d="M70,536.8 C100,536.8 130,546.9 160,546.9" stroke="#a4b6c6" stroke-width="0.7" fill="none" opacity="0.55"/>
<pattern id="pfA" width="3.4" height="3.4" patternUnits="userSpaceOnUse" patternTransform="rotate(20)"><rect width="3.4" height="3.4" fill="#7a9880"/><rect x="0" y="0" width="3.4" height="1.0" fill="#9ebc8a"/><circle cx="1.7" cy="2.2" r="0.85" fill="#2a3a34"/></pattern>
<pattern id="pfB" width="3.6" height="3.6" patternUnits="userSpaceOnUse"><rect width="3.6" height="3.6" fill="#8cac7e"/><rect x="0" y="0" width="3.6" height="0.9" fill="#aacc92"/><circle cx="1.8" cy="2.0" r="1.0" fill="#1f2e24"/></pattern>
<linearGradient id="fshL" x1="0" y1="0" x2="1" y2="0"><stop offset="0" stop-color="#c0dc98" stop-opacity="0.35"/><stop offset="0.6" stop-color="#ffffff" stop-opacity="0"/><stop offset="1" stop-color="#8aa0b8" stop-opacity="0.45"/></linearGradient>
<linearGradient id="fshV" x1="0" y1="0" x2="0" y2="1"><stop offset="0" stop-color="#c0dc98" stop-opacity="0.25"/><stop offset="0.7" stop-color="#ffffff" stop-opacity="0"/><stop offset="1" stop-color="#8aa0b8" stop-opacity="0.45"/></linearGradient>
<path d="M62.5,481.7 L44,481.7 Q33.3,482.5 33.3,494 L33.3,509 L62.5,509 Z" fill="url(#pfA)"/>
<path d="M62.5,481.7 L44,481.7 Q33.3,482.5 33.3,494 L33.3,509 L62.5,509 Z" fill="url(#fshV)"/>
<path d="M62.3,474.6 L81,474.6 Q92.5,476 93,489 L93,507.5 L62.3,507.5 Z" fill="url(#pfA)"/>
<path d="M62.3,474.6 L81,474.6 Q92.5,476 93,489 L93,507.5 L62.3,507.5 Z" fill="url(#fshL)"/>
<path d="M58,509.2 L31,509.2 Q21,510 20.5,522 L20.5,524 Q21,536.5 31,536.7 L58,536.7 Z" fill="url(#pfB)"/>
<path d="M58,509.2 L31,509.2 Q21,510 20.5,522 L20.5,524 Q21,536.5 31,536.7 L58,536.7 Z" fill="url(#fshL)"/>
<path d="M33,536.2 L61.6,536.2 L61.6,566 L45,566 Q33.5,565 33,552 Z" fill="url(#pfA)"/>
<path d="M33,536.2 L61.6,536.2 L61.6,566 L45,566 Q33.5,565 33,552 Z" fill="url(#fshV)"/>
<path d="M61.6,537 L93.3,537 L93.3,556 Q92,569.5 79,569.6 L61.6,569.6 Z" fill="url(#pfA)"/>
<path d="M61.6,537 L93.3,537 L93.3,556 Q92,569.5 79,569.6 L61.6,569.6 Z" fill="url(#fshL)"/>
<path d="M89.7,537 L111,537 L111,551 Q110,564 98,564.3 L89.7,564.3 Z" fill="url(#pfA)"/>
<path d="M89.7,537 L111,537 L111,551 Q110,564 98,564.3 L89.7,564.3 Z" fill="url(#fshL)"/>
<rect x="57.7" y="508" width="12" height="29" fill="url(#pfB)"/>
<rect x="57.7" y="508" width="12" height="29" fill="#b4c4cc" opacity="0.35"/>
<rect x="62.3" y="474.6" width="5" height="33" fill="#a8bcc8" opacity="0.45"/>
<path d="M91,487 L95,487 Q99,489 99,495 L99,507.5 L91,507.5 Z" fill="url(#pfA)"/>
<path d="M62.4,474 L62.4,509 M20,509 L100,509 M20,536.8 L112,536.8 M61.6,536 L61.6,570 M90,537 L90,565 M93.2,537 L93.2,569" stroke="#dde4e8" stroke-width="0.9" fill="none" opacity="0.9"/>
<path d="M200,476 C240,460 300,441 362,436 L456,435 Q472,436 472,456 L471,540 Q470,556 455,556 L380,555 C320,553 250,547 205,526 Z" fill="url(#glass)"/>
<g clip-path="url(#cyl)">
<path d="M250.0,471.0 L250.7,470.8 L251.4,470.6 L252.2,470.4 L253.0,470.2 L253.9,470.0 L254.9,469.7 L255.9,469.5 L257.0,469.2 L258.1,468.9 L259.2,468.6 L260.4,468.3 L261.6,468.0 L262.9,467.7 L264.2,467.3 L265.5,467.0 L266.9,466.6 L268.3,466.3 L269.7,465.9 L271.1,465.6 L272.5,465.2 L273.9,464.8 L275.4,464.4 L276.9,464.1 L278.3,463.7 L279.8,463.3 L281.2,462.9 L282.7,462.5 L284.2,462.2 L285.6,461.8 L287.0,461.4 L288.4,461.0 L289.8,460.7 L291.2,460.3 L292.6,460.0 L293.9,459.6 L295.2,459.3 L296.4,458.9 L297.7,458.6 L298.9,458.3 L300.0,458.0 L301.1,457.7 L302.2,457.4 L303.3,457.1 L304.3,456.8 L305.3,456.5 L306.4,456.2 L307.3,455.9 L308.3,455.6 L309.3,455.3 L310.2,455.0 L311.2,454.7 L312.1,454.4 L313.0,454.1 L313.9,453.8 L314.9,453.6 L315.8,453.3 L316.7,453.0 L317.6,452.7 L318.5,452.4 L319.4,452.1 L320.3,451.8 L321.2,451.6 L322.1,451.3 L323.0,451.0 L324.0,450.7 L324.9,450.5 L325.9,450.2 L326.8,449.9 L327.8,449.7 L328.8,449.4 L329.8,449.2 L330.9,448.9 L331.9,448.7 L333.0,448.4 L334.1,448.2 L335.2,447.9 L336.4,447.7 L337.6,447.5 L338.8,447.2 L340.0,447.0 L341.3,446.8 L342.5,446.6 L343.8,446.3 L345.1,446.1 L346.5,445.9 L347.8,445.7 L349.2,445.5 L350.5,445.3 L351.9,445.1 L353.3,444.9 L354.7,444.6 L356.2,444.4 L357.6,444.3 L359.0,444.1 L360.5,443.9 L362.0,443.7 L363.5,443.5 L365.0,443.3 L366.5,443.1 L368.0,442.9 L369.5,442.8 L371.1,442.6 L372.6,442.4 L374.2,442.2 L375.7,442.1 L377.3,441.9 L378.9,441.8 L380.5,441.6 L382.1,441.5 L383.7,441.3 L385.3,441.2 L386.9,441.0 L388.5,440.9 L390.2,440.7 L391.8,440.6 L393.4,440.5 L395.1,440.4 L396.7,440.2 L398.4,440.1 L400.0,440.0 L401.7,439.9 L403.4,439.8 L405.2,439.7 L407.0,439.6 L408.9,439.5 L410.8,439.4 L412.8,439.3 L414.8,439.2 L416.8,439.2 L418.8,439.1 L420.9,439.0 L423.0,439.0 L425.1,438.9 L427.2,438.9 L429.3,438.8 L431.4,438.7 L433.5,438.7 L435.6,438.6 L437.7,438.6 L439.8,438.6 L441.8,438.5 L443.8,438.5 L445.8,438.4 L447.8,438.4 L449.7,438.4 L451.6,438.4 L453.5,438.3 L455.3,438.3 L457.1,438.3 L458.8,438.2 L460.4,438.2 L462.0,438.2 L463.5,438.2 L465.0,438.1 L466.4,438.1 L467.7,438.1 L468.9,438.1 L470.0,438.0 L471.1,438.0 L472,438 L472,446 L470.9,446.1 L469.7,446.1 L468.4,446.2 L467.0,446.3 L465.5,446.4 L463.8,446.4 L462.1,446.5 L460.3,446.6 L458.5,446.7 L456.5,446.8 L454.5,446.9 L452.4,447.0 L450.3,447.1 L448.1,447.2 L445.8,447.3 L443.6,447.4 L441.2,447.6 L438.9,447.7 L436.5,447.8 L434.1,447.9 L431.7,448.1 L429.3,448.2 L426.9,448.3 L424.4,448.5 L422.0,448.6 L419.6,448.8 L417.2,448.9 L414.8,449.0 L412.5,449.2 L410.2,449.4 L407.9,449.5 L405.7,449.7 L403.5,449.8 L401.4,450.0 L399.3,450.1 L397.3,450.3 L395.3,450.5 L393.5,450.7 L391.7,450.8 L390.0,451.0 L388.4,451.2 L386.8,451.4 L385.2,451.5 L383.7,451.7 L382.2,451.9 L380.7,452.1 L379.3,452.3 L377.9,452.5 L376.5,452.7 L375.1,452.9 L373.8,453.1 L372.5,453.3 L371.2,453.5 L369.9,453.7 L368.7,453.9 L367.5,454.1 L366.2,454.3 L365.0,454.6 L363.9,454.8 L362.7,455.0 L361.5,455.2 L360.4,455.5 L359.2,455.7 L358.1,455.9 L357.0,456.2 L355.9,456.4 L354.7,456.6 L353.6,456.9 L352.5,457.1 L351.4,457.4 L350.3,457.6 L349.2,457.9 L348.0,458.1 L346.9,458.4 L345.8,458.7 L344.7,458.9 L343.5,459.2 L342.3,459.5 L341.2,459.7 L340.0,460.0 L338.8,460.3 L337.6,460.6 L336.5,460.9 L335.3,461.2 L334.2,461.5 L333.1,461.8 L332.0,462.1 L330.8,462.4 L329.7,462.7 L328.6,463.0 L327.5,463.4 L326.4,463.7 L325.4,464.0 L324.3,464.4 L323.2,464.7 L322.1,465.1 L321.0,465.4 L320.0,465.7 L318.9,466.1 L317.8,466.4 L316.7,466.8 L315.7,467.1 L314.6,467.5 L313.5,467.8 L312.4,468.2 L311.3,468.5 L310.2,468.9 L309.1,469.2 L308.0,469.5 L306.8,469.9 L305.7,470.2 L304.6,470.5 L303.4,470.9 L302.2,471.2 L301.1,471.5 L299.9,471.8 L298.7,472.1 L297.5,472.4 L296.2,472.7 L295.0,473.0 L293.7,473.3 L292.4,473.6 L291.1,473.8 L289.8,474.1 L288.4,474.4 L287.1,474.7 L285.7,474.9 L284.3,475.2 L282.8,475.4 L281.4,475.7 L280.0,475.9 L278.5,476.2 L277.0,476.4 L275.6,476.7 L274.1,476.9 L272.6,477.2 L271.1,477.4 L269.6,477.6 L268.2,477.9 L266.7,478.1 L265.2,478.4 L263.7,478.6 L262.3,478.8 L260.8,479.1 L259.4,479.3 L257.9,479.5 L256.5,479.8 L255.1,480.0 L253.7,480.3 L252.4,480.5 L251.0,480.7 L249.7,481.0 L248.4,481.2 L247.1,481.5 L245.8,481.7 L244.6,482.0 L243.4,482.2 L242.2,482.5 L241.1,482.7 L240.0,483.0 L238.9,483.3 L237.8,483.5 L236.8,483.8 L235.7,484.1 L234.7,484.4 L233.6,484.7 L232.6,485.0 L231.6,485.3 L230.6,485.6 L229.6,485.9 L228.7,486.3 L227.7,486.6 L226.8,486.9 L225.8,487.2 L224.9,487.5 L224.0,487.9 L223.1,488.2 L222.3,488.5 L221.4,488.8 L220.6,489.1 L219.7,489.4 L218.9,489.7 L218.2,490.0 L217.4,490.3 L216.6,490.6 L215.9,490.9 L215.2,491.2 L214.5,491.5 L213.9,491.7 L213.2,492.0 L212.6,492.2 L212.0,492.5 L211.4,492.7 L210.8,492.9 L210.3,493.1 L209.8,493.3 L209.3,493.5 L208.9,493.7 L208.4,493.9 L208.0,494.0 Z" fill="url(#pgrn)" opacity="0.4"/>
<path d="M208.0,494.0 L208.4,493.9 L208.9,493.7 L209.3,493.5 L209.8,493.3 L210.3,493.1 L210.8,492.9 L211.4,492.7 L212.0,492.5 L212.6,492.2 L213.2,492.0 L213.9,491.7 L214.5,491.5 L215.2,491.2 L215.9,490.9 L216.6,490.6 L217.4,490.3 L218.2,490.0 L218.9,489.7 L219.7,489.4 L220.6,489.1 L221.4,488.8 L222.3,488.5 L223.1,488.2 L224.0,487.9 L224.9,487.5 L225.8,487.2 L226.8,486.9 L227.7,486.6 L228.7,486.3 L229.6,485.9 L230.6,485.6 L231.6,485.3 L232.6,485.0 L233.6,484.7 L234.7,484.4 L235.7,484.1 L236.8,483.8 L237.8,483.5 L238.9,483.3 L240.0,483.0 L241.1,482.7 L242.2,482.5 L243.4,482.2 L244.6,482.0 L245.8,481.7 L247.1,481.5 L248.4,481.2 L249.7,481.0 L251.0,480.7 L252.4,480.5 L253.7,480.3 L255.1,480.0 L256.5,479.8 L257.9,479.5 L259.4,479.3 L260.8,479.1 L262.3,478.8 L263.7,478.6 L265.2,478.4 L266.7,478.1 L268.2,477.9 L269.6,477.6 L271.1,477.4 L272.6,477.2 L274.1,476.9 L275.6,476.7 L277.0,476.4 L278.5,476.2 L280.0,475.9 L281.4,475.7 L282.8,475.4 L284.3,475.2 L285.7,474.9 L287.1,474.7 L288.4,474.4 L289.8,474.1 L291.1,473.8 L292.4,473.6 L293.7,473.3 L295.0,473.0 L296.2,472.7 L297.5,472.4 L298.7,472.1 L299.9,471.8 L301.1,471.5 L302.2,471.2 L303.4,470.9 L304.6,470.5 L305.7,470.2 L306.8,469.9 L308.0,469.5 L309.1,469.2 L310.2,468.9 L311.3,468.5 L312.4,468.2 L313.5,467.8 L314.6,467.5 L315.7,467.1 L316.7,466.8 L317.8,466.4 L318.9,466.1 L320.0,465.7 L321.0,465.4 L322.1,465.1 L323.2,464.7 L324.3,464.4 L325.4,464.0 L326.4,463.7 L327.5,463.4 L328.6,463.0 L329.7,462.7 L330.8,462.4 L332.0,462.1 L333.1,461.8 L334.2,461.5 L335.3,461.2 L336.5,460.9 L337.6,460.6 L338.8,460.3 L340.0,460.0 L341.2,459.7 L342.3,459.5 L343.5,459.2 L344.7,458.9 L345.8,458.7 L346.9,458.4 L348.0,458.1 L349.2,457.9 L350.3,457.6 L351.4,457.4 L352.5,457.1 L353.6,456.9 L354.7,456.6 L355.9,456.4 L357.0,456.2 L358.1,455.9 L359.2,455.7 L360.4,455.5 L361.5,455.2 L362.7,455.0 L363.9,454.8 L365.0,454.6 L366.2,454.3 L367.5,454.1 L368.7,453.9 L369.9,453.7 L371.2,453.5 L372.5,453.3 L373.8,453.1 L375.1,452.9 L376.5,452.7 L377.9,452.5 L379.3,452.3 L380.7,452.1 L382.2,451.9 L383.7,451.7 L385.2,451.5 L386.8,451.4 L388.4,451.2 L390.0,451.0 L391.7,450.8 L393.5,450.7 L395.3,450.5 L397.3,450.3 L399.3,450.1 L401.4,450.0 L403.5,449.8 L405.7,449.7 L407.9,449.5 L410.2,449.4 L412.5,449.2 L414.8,449.0 L417.2,448.9 L419.6,448.8 L422.0,448.6 L424.4,448.5 L426.9,448.3 L429.3,448.2 L431.7,448.1 L434.1,447.9 L436.5,447.8 L438.9,447.7 L441.2,447.6 L443.6,447.4 L445.8,447.3 L448.1,447.2 L450.3,447.1 L452.4,447.0 L454.5,446.9 L456.5,446.8 L458.5,446.7 L460.3,446.6 L462.1,446.5 L463.8,446.4 L465.5,446.4 L467.0,446.3 L468.4,446.2 L469.7,446.1 L470.9,446.1 L472,446 L472,489 L470.9,489.0 L469.8,489.0 L468.5,489.0 L467.2,489.1 L465.8,489.1 L464.3,489.1 L462.7,489.1 L461.1,489.1 L459.3,489.1 L457.6,489.1 L455.7,489.1 L453.8,489.2 L451.9,489.2 L449.9,489.2 L447.8,489.2 L445.7,489.2 L443.6,489.3 L441.4,489.3 L439.2,489.3 L436.9,489.3 L434.7,489.3 L432.4,489.4 L430.0,489.4 L427.7,489.4 L425.3,489.4 L422.9,489.5 L420.5,489.5 L418.1,489.5 L415.7,489.6 L413.3,489.6 L410.9,489.6 L408.5,489.7 L406.2,489.7 L403.8,489.7 L401.4,489.8 L399.1,489.8 L396.8,489.9 L394.5,489.9 L392.2,490.0 L390.0,490.0 L387.8,490.1 L385.5,490.1 L383.2,490.2 L380.8,490.2 L378.4,490.3 L376.0,490.3 L373.5,490.4 L371.0,490.5 L368.5,490.5 L366.0,490.6 L363.4,490.7 L360.9,490.8 L358.3,490.8 L355.7,490.9 L353.1,491.0 L350.5,491.1 L347.9,491.1 L345.4,491.2 L342.8,491.3 L340.2,491.4 L337.6,491.5 L335.1,491.5 L332.5,491.6 L330.0,491.7 L327.5,491.8 L325.1,491.9 L322.6,492.0 L320.2,492.0 L317.9,492.1 L315.5,492.2 L313.3,492.3 L311.0,492.4 L308.8,492.4 L306.7,492.5 L304.6,492.6 L302.5,492.7 L300.6,492.8 L298.6,492.8 L296.8,492.9 L295.0,493.0 L293.3,493.1 L291.6,493.1 L290.0,493.2 L288.5,493.3 L287.0,493.4 L285.5,493.4 L284.1,493.5 L282.8,493.6 L281.4,493.7 L280.2,493.8 L278.9,493.8 L277.7,493.9 L276.6,494.0 L275.4,494.1 L274.3,494.1 L273.3,494.2 L272.2,494.3 L271.2,494.4 L270.2,494.4 L269.2,494.5 L268.2,494.6 L267.3,494.6 L266.3,494.7 L265.4,494.8 L264.5,494.9 L263.5,494.9 L262.6,495.0 L261.7,495.1 L260.8,495.2 L259.9,495.2 L258.9,495.3 L258.0,495.4 L257.1,495.5 L256.1,495.6 L255.1,495.6 L254.2,495.7 L253.1,495.8 L252.1,495.9 L251.1,495.9 L250.0,496.0 L248.9,496.1 L247.8,496.2 L246.6,496.2 L245.5,496.3 L244.3,496.4 L243.1,496.5 L241.9,496.6 L240.7,496.6 L239.5,496.7 L238.3,496.8 L237.1,496.9 L235.9,497.0 L234.6,497.1 L233.4,497.2 L232.2,497.3 L231.0,497.3 L229.8,497.4 L228.6,497.5 L227.4,497.6 L226.2,497.7 L225.0,497.8 L223.9,497.9 L222.7,497.9 L221.6,498.0 L220.5,498.1 L219.5,498.2 L218.4,498.2 L217.4,498.3 L216.4,498.4 L215.5,498.5 L214.6,498.5 L213.7,498.6 L212.8,498.7 L212.0,498.7 L211.2,498.8 L210.5,498.8 L209.8,498.9 L209.1,498.9 L208.6,499.0 L208.0,499.0 Z" fill="url(#pyel)"/>
<path d="M208.0,499.0 L208.6,499.0 L209.1,498.9 L209.8,498.9 L210.5,498.8 L211.2,498.8 L212.0,498.7 L212.8,498.7 L213.7,498.6 L214.6,498.5 L215.5,498.5 L216.4,498.4 L217.4,498.3 L218.4,498.2 L219.5,498.2 L220.5,498.1 L221.6,498.0 L222.7,497.9 L223.9,497.9 L225.0,497.8 L226.2,497.7 L227.4,497.6 L228.6,497.5 L229.8,497.4 L231.0,497.3 L232.2,497.3 L233.4,497.2 L234.6,497.1 L235.9,497.0 L237.1,496.9 L238.3,496.8 L239.5,496.7 L240.7,496.6 L241.9,496.6 L243.1,496.5 L244.3,496.4 L245.5,496.3 L246.6,496.2 L247.8,496.2 L248.9,496.1 L250.0,496.0 L251.1,495.9 L252.1,495.9 L253.1,495.8 L254.2,495.7 L255.1,495.6 L256.1,495.6 L257.1,495.5 L258.0,495.4 L258.9,495.3 L259.9,495.2 L260.8,495.2 L261.7,495.1 L262.6,495.0 L263.5,494.9 L264.5,494.9 L265.4,494.8 L266.3,494.7 L267.3,494.6 L268.2,494.6 L269.2,494.5 L270.2,494.4 L271.2,494.4 L272.2,494.3 L273.3,494.2 L274.3,494.1 L275.4,494.1 L276.6,494.0 L277.7,493.9 L278.9,493.8 L280.2,493.8 L281.4,493.7 L282.8,493.6 L284.1,493.5 L285.5,493.4 L287.0,493.4 L288.5,493.3 L290.0,493.2 L291.6,493.1 L293.3,493.1 L295.0,493.0 L296.8,492.9 L298.6,492.8 L300.6,492.8 L302.5,492.7 L304.6,492.6 L306.7,492.5 L308.8,492.4 L311.0,492.4 L313.3,492.3 L315.5,492.2 L317.9,492.1 L320.2,492.0 L322.6,492.0 L325.1,491.9 L327.5,491.8 L330.0,491.7 L332.5,491.6 L335.1,491.5 L337.6,491.5 L340.2,491.4 L342.8,491.3 L345.4,491.2 L347.9,491.1 L350.5,491.1 L353.1,491.0 L355.7,490.9 L358.3,490.8 L360.9,490.8 L363.4,490.7 L366.0,490.6 L368.5,490.5 L371.0,490.5 L373.5,490.4 L376.0,490.3 L378.4,490.3 L380.8,490.2 L383.2,490.2 L385.5,490.1 L387.8,490.1 L390.0,490.0 L392.2,490.0 L394.5,489.9 L396.8,489.9 L399.1,489.8 L401.4,489.8 L403.8,489.7 L406.2,489.7 L408.5,489.7 L410.9,489.6 L413.3,489.6 L415.7,489.6 L418.1,489.5 L420.5,489.5 L422.9,489.5 L425.3,489.4 L427.7,489.4 L430.0,489.4 L432.4,489.4 L434.7,489.3 L436.9,489.3 L439.2,489.3 L441.4,489.3 L443.6,489.3 L445.7,489.2 L447.8,489.2 L449.9,489.2 L451.9,489.2 L453.8,489.2 L455.7,489.1 L457.6,489.1 L459.3,489.1 L461.1,489.1 L462.7,489.1 L464.3,489.1 L465.8,489.1 L467.2,489.1 L468.5,489.0 L469.8,489.0 L470.9,489.0 L472,489 L472,502 L470.9,502.0 L469.8,502.0 L468.5,502.0 L467.2,502.1 L465.8,502.1 L464.3,502.1 L462.7,502.1 L461.1,502.1 L459.3,502.2 L457.6,502.2 L455.7,502.2 L453.8,502.2 L451.9,502.3 L449.9,502.3 L447.8,502.3 L445.7,502.3 L443.6,502.4 L441.4,502.4 L439.2,502.4 L436.9,502.4 L434.7,502.5 L432.4,502.5 L430.0,502.5 L427.7,502.6 L425.3,502.6 L422.9,502.6 L420.5,502.6 L418.1,502.7 L415.7,502.7 L413.3,502.7 L410.9,502.8 L408.5,502.8 L406.2,502.8 L403.8,502.8 L401.4,502.9 L399.1,502.9 L396.8,502.9 L394.5,502.9 L392.2,503.0 L390.0,503.0 L387.8,503.0 L385.5,503.1 L383.2,503.1 L380.8,503.1 L378.4,503.1 L376.0,503.2 L373.5,503.2 L371.0,503.2 L368.5,503.2 L366.0,503.3 L363.4,503.3 L360.9,503.3 L358.3,503.4 L355.7,503.4 L353.1,503.4 L350.5,503.4 L347.9,503.5 L345.4,503.5 L342.8,503.5 L340.2,503.6 L337.6,503.6 L335.1,503.6 L332.5,503.6 L330.0,503.7 L327.5,503.7 L325.1,503.7 L322.6,503.7 L320.2,503.8 L317.9,503.8 L315.5,503.8 L313.3,503.8 L311.0,503.9 L308.8,503.9 L306.7,503.9 L304.6,503.9 L302.5,503.9 L300.6,504.0 L298.6,504.0 L296.8,504.0 L295.0,504.0 L293.3,504.0 L291.6,504.0 L290.0,504.0 L288.5,504.0 L287.0,504.0 L285.5,504.1 L284.1,504.1 L282.8,504.1 L281.4,504.1 L280.2,504.1 L278.9,504.1 L277.7,504.1 L276.6,504.1 L275.4,504.1 L274.3,504.1 L273.3,504.1 L272.2,504.1 L271.2,504.1 L270.2,504.1 L269.2,504.1 L268.2,504.1 L267.3,504.1 L266.3,504.1 L265.4,504.0 L264.5,504.0 L263.5,504.0 L262.6,504.0 L261.7,504.0 L260.8,504.0 L259.9,504.0 L258.9,504.0 L258.0,504.0 L257.1,504.0 L256.1,504.0 L255.1,504.0 L254.2,504.0 L253.1,504.0 L252.1,504.0 L251.1,504.0 L250.0,504.0 L248.9,504.0 L247.8,504.0 L246.6,504.0 L245.5,504.0 L244.3,504.0 L243.1,504.0 L241.9,504.0 L240.7,504.0 L239.5,504.0 L238.3,504.0 L237.1,504.0 L235.9,504.0 L234.6,504.0 L233.4,504.0 L232.2,504.0 L231.0,504.0 L229.8,504.0 L228.6,504.0 L227.4,504.0 L226.2,504.0 L225.0,504.0 L223.9,504.0 L222.7,504.0 L221.6,504.0 L220.5,504.0 L219.5,504.0 L218.4,504.0 L217.4,504.0 L216.4,504.0 L215.5,504.0 L214.6,504.0 L213.7,504.0 L212.8,504.0 L212.0,504.0 L211.2,504.0 L210.5,504.0 L209.8,504.0 L209.1,504.0 L208.6,504.0 L208.0,504.0 Z" fill="url(#pgrn)"/>
<path d="M208.0,504.0 L208.6,504.0 L209.1,504.0 L209.8,504.0 L210.5,504.0 L211.2,504.0 L212.0,504.0 L212.8,504.0 L213.7,504.0 L214.6,504.0 L215.5,504.0 L216.4,504.0 L217.4,504.0 L218.4,504.0 L219.5,504.0 L220.5,504.0 L221.6,504.0 L222.7,504.0 L223.9,504.0 L225.0,504.0 L226.2,504.0 L227.4,504.0 L228.6,504.0 L229.8,504.0 L231.0,504.0 L232.2,504.0 L233.4,504.0 L234.6,504.0 L235.9,504.0 L237.1,504.0 L238.3,504.0 L239.5,504.0 L240.7,504.0 L241.9,504.0 L243.1,504.0 L244.3,504.0 L245.5,504.0 L246.6,504.0 L247.8,504.0 L248.9,504.0 L250.0,504.0 L251.1,504.0 L252.1,504.0 L253.1,504.0 L254.2,504.0 L255.1,504.0 L256.1,504.0 L257.1,504.0 L258.0,504.0 L258.9,504.0 L259.9,504.0 L260.8,504.0 L261.7,504.0 L262.6,504.0 L263.5,504.0 L264.5,504.0 L265.4,504.0 L266.3,504.1 L267.3,504.1 L268.2,504.1 L269.2,504.1 L270.2,504.1 L271.2,504.1 L272.2,504.1 L273.3,504.1 L274.3,504.1 L275.4,504.1 L276.6,504.1 L277.7,504.1 L278.9,504.1 L280.2,504.1 L281.4,504.1 L282.8,504.1 L284.1,504.1 L285.5,504.1 L287.0,504.0 L288.5,504.0 L290.0,504.0 L291.6,504.0 L293.3,504.0 L295.0,504.0 L296.8,504.0 L298.6,504.0 L300.6,504.0 L302.5,503.9 L304.6,503.9 L306.7,503.9 L308.8,503.9 L311.0,503.9 L313.3,503.8 L315.5,503.8 L317.9,503.8 L320.2,503.8 L322.6,503.7 L325.1,503.7 L327.5,503.7 L330.0,503.7 L332.5,503.6 L335.1,503.6 L337.6,503.6 L340.2,503.6 L342.8,503.5 L345.4,503.5 L347.9,503.5 L350.5,503.4 L353.1,503.4 L355.7,503.4 L358.3,503.4 L360.9,503.3 L363.4,503.3 L366.0,503.3 L368.5,503.2 L371.0,503.2 L373.5,503.2 L376.0,503.2 L378.4,503.1 L380.8,503.1 L383.2,503.1 L385.5,503.1 L387.8,503.0 L390.0,503.0 L392.2,503.0 L394.5,502.9 L396.8,502.9 L399.1,502.9 L401.4,502.9 L403.8,502.8 L406.2,502.8 L408.5,502.8 L410.9,502.8 L413.3,502.7 L415.7,502.7 L418.1,502.7 L420.5,502.6 L422.9,502.6 L425.3,502.6 L427.7,502.6 L430.0,502.5 L432.4,502.5 L434.7,502.5 L436.9,502.4 L439.2,502.4 L441.4,502.4 L443.6,502.4 L445.7,502.3 L447.8,502.3 L449.9,502.3 L451.9,502.3 L453.8,502.2 L455.7,502.2 L457.6,502.2 L459.3,502.2 L461.1,502.1 L462.7,502.1 L464.3,502.1 L465.8,502.1 L467.2,502.1 L468.5,502.0 L469.8,502.0 L470.9,502.0 L472,502 L472,540 L470.9,540.0 L469.8,539.9 L468.5,539.9 L467.2,539.8 L465.7,539.8 L464.2,539.8 L462.6,539.7 L461.0,539.7 L459.2,539.6 L457.5,539.6 L455.6,539.5 L453.7,539.4 L451.7,539.4 L449.7,539.3 L447.6,539.3 L445.5,539.2 L443.3,539.1 L441.1,539.1 L438.9,539.0 L436.6,538.9 L434.3,538.9 L432.0,538.8 L429.7,538.7 L427.3,538.6 L424.9,538.5 L422.6,538.5 L420.2,538.4 L417.8,538.3 L415.4,538.2 L413.0,538.1 L410.6,538.0 L408.2,537.9 L405.9,537.8 L403.5,537.7 L401.2,537.6 L398.9,537.5 L396.6,537.4 L394.4,537.2 L392.2,537.1 L390.0,537.0 L387.8,536.9 L385.6,536.7 L383.4,536.6 L381.1,536.5 L378.9,536.3 L376.6,536.2 L374.2,536.1 L371.9,535.9 L369.5,535.8 L367.1,535.6 L364.7,535.4 L362.3,535.3 L359.9,535.1 L357.5,535.0 L355.1,534.8 L352.7,534.6 L350.2,534.5 L347.8,534.3 L345.4,534.1 L343.0,533.9 L340.6,533.8 L338.2,533.6 L335.9,533.4 L333.5,533.2 L331.2,533.0 L328.9,532.8 L326.6,532.6 L324.3,532.4 L322.1,532.3 L319.9,532.1 L317.7,531.9 L315.6,531.7 L313.5,531.5 L311.4,531.3 L309.4,531.0 L307.4,530.8 L305.5,530.6 L303.6,530.4 L301.8,530.2 L300.0,530.0 L298.3,529.8 L296.6,529.6 L294.9,529.3 L293.3,529.1 L291.8,528.9 L290.2,528.7 L288.7,528.4 L287.2,528.2 L285.8,528.0 L284.4,527.7 L283.0,527.5 L281.7,527.3 L280.4,527.0 L279.1,526.8 L277.8,526.5 L276.5,526.3 L275.3,526.0 L274.1,525.8 L272.9,525.5 L271.8,525.2 L270.6,525.0 L269.5,524.7 L268.3,524.5 L267.2,524.2 L266.1,524.0 L265.0,523.7 L263.9,523.4 L262.9,523.2 L261.8,522.9 L260.7,522.6 L259.7,522.4 L258.6,522.1 L257.5,521.8 L256.5,521.6 L255.4,521.3 L254.3,521.1 L253.3,520.8 L252.2,520.5 L251.1,520.3 L250.0,520.0 L248.9,519.7 L247.8,519.5 L246.7,519.2 L245.5,518.9 L244.4,518.6 L243.3,518.3 L242.2,518.0 L241.0,517.7 L239.9,517.4 L238.8,517.1 L237.6,516.7 L236.5,516.4 L235.4,516.1 L234.3,515.8 L233.2,515.5 L232.1,515.1 L231.0,514.8 L230.0,514.5 L228.9,514.2 L227.9,513.9 L226.9,513.6 L225.8,513.3 L224.9,513.0 L223.9,512.7 L222.9,512.4 L222.0,512.1 L221.1,511.8 L220.2,511.5 L219.4,511.3 L218.5,511.0 L217.7,510.8 L217.0,510.5 L216.2,510.3 L215.5,510.1 L214.8,509.9 L214.2,509.7 L213.6,509.5 L213.0,509.3 L212.5,509.1 L212.0,509.0 Z" fill="url(#pyel)"/>
<path d="M212.0,509.0 L212.5,509.1 L213.0,509.3 L213.6,509.5 L214.2,509.7 L214.8,509.9 L215.5,510.1 L216.2,510.3 L217.0,510.5 L217.7,510.8 L218.5,511.0 L219.4,511.3 L220.2,511.5 L221.1,511.8 L222.0,512.1 L222.9,512.4 L223.9,512.7 L224.9,513.0 L225.8,513.3 L226.9,513.6 L227.9,513.9 L228.9,514.2 L230.0,514.5 L231.0,514.8 L232.1,515.1 L233.2,515.5 L234.3,515.8 L235.4,516.1 L236.5,516.4 L237.6,516.7 L238.8,517.1 L239.9,517.4 L241.0,517.7 L242.2,518.0 L243.3,518.3 L244.4,518.6 L245.5,518.9 L246.7,519.2 L247.8,519.5 L248.9,519.7 L250.0,520.0 L251.1,520.3 L252.2,520.5 L253.3,520.8 L254.3,521.1 L255.4,521.3 L256.5,521.6 L257.5,521.8 L258.6,522.1 L259.7,522.4 L260.7,522.6 L261.8,522.9 L262.9,523.2 L263.9,523.4 L265.0,523.7 L266.1,524.0 L267.2,524.2 L268.3,524.5 L269.5,524.7 L270.6,525.0 L271.8,525.2 L272.9,525.5 L274.1,525.8 L275.3,526.0 L276.5,526.3 L277.8,526.5 L279.1,526.8 L280.4,527.0 L281.7,527.3 L283.0,527.5 L284.4,527.7 L285.8,528.0 L287.2,528.2 L288.7,528.4 L290.2,528.7 L291.8,528.9 L293.3,529.1 L294.9,529.3 L296.6,529.6 L298.3,529.8 L300.0,530.0 L301.8,530.2 L303.6,530.4 L305.5,530.6 L307.4,530.8 L309.4,531.0 L311.4,531.3 L313.5,531.5 L315.6,531.7 L317.7,531.9 L319.9,532.1 L322.1,532.3 L324.3,532.4 L326.6,532.6 L328.9,532.8 L331.2,533.0 L333.5,533.2 L335.9,533.4 L338.2,533.6 L340.6,533.8 L343.0,533.9 L345.4,534.1 L347.8,534.3 L350.2,534.5 L352.7,534.6 L355.1,534.8 L357.5,535.0 L359.9,535.1 L362.3,535.3 L364.7,535.4 L367.1,535.6 L369.5,535.8 L371.9,535.9 L374.2,536.1 L376.6,536.2 L378.9,536.3 L381.1,536.5 L383.4,536.6 L385.6,536.7 L387.8,536.9 L390.0,537.0 L392.2,537.1 L394.4,537.2 L396.6,537.4 L398.9,537.5 L401.2,537.6 L403.5,537.7 L405.9,537.8 L408.2,537.9 L410.6,538.0 L413.0,538.1 L415.4,538.2 L417.8,538.3 L420.2,538.4 L422.6,538.5 L424.9,538.5 L427.3,538.6 L429.7,538.7 L432.0,538.8 L434.3,538.9 L436.6,538.9 L438.9,539.0 L441.1,539.1 L443.3,539.1 L445.5,539.2 L447.6,539.3 L449.7,539.3 L451.7,539.4 L453.7,539.4 L455.6,539.5 L457.5,539.6 L459.2,539.6 L461.0,539.7 L462.6,539.7 L464.2,539.8 L465.7,539.8 L467.2,539.8 L468.5,539.9 L469.8,539.9 L470.9,540.0 L472,540 L472,547 L470.9,547.0 L469.8,547.0 L468.5,546.9 L467.2,546.9 L465.7,546.9 L464.2,546.9 L462.6,546.8 L461.0,546.8 L459.2,546.8 L457.5,546.8 L455.6,546.7 L453.7,546.7 L451.7,546.7 L449.7,546.6 L447.6,546.6 L445.5,546.6 L443.3,546.6 L441.1,546.5 L438.9,546.5 L436.6,546.4 L434.3,546.4 L432.0,546.4 L429.7,546.3 L427.3,546.3 L424.9,546.2 L422.6,546.1 L420.2,546.1 L417.8,546.0 L415.4,546.0 L413.0,545.9 L410.6,545.8 L408.2,545.8 L405.9,545.7 L403.5,545.6 L401.2,545.5 L398.9,545.4 L396.6,545.3 L394.4,545.2 L392.2,545.1 L390.0,545.0 L387.8,544.9 L385.6,544.8 L383.4,544.6 L381.1,544.5 L378.9,544.4 L376.6,544.3 L374.2,544.1 L371.9,544.0 L369.5,543.8 L367.1,543.7 L364.7,543.5 L362.3,543.4 L359.9,543.2 L357.5,543.1 L355.1,542.9 L352.7,542.8 L350.2,542.6 L347.8,542.4 L345.4,542.2 L343.0,542.1 L340.6,541.9 L338.2,541.7 L335.9,541.5 L333.5,541.3 L331.2,541.1 L328.9,540.9 L326.6,540.7 L324.3,540.6 L322.1,540.4 L319.9,540.1 L317.7,539.9 L315.6,539.7 L313.5,539.5 L311.4,539.3 L309.4,539.1 L307.4,538.9 L305.5,538.7 L303.6,538.4 L301.8,538.2 L300.0,538.0 L298.3,537.8 L296.6,537.5 L294.9,537.3 L293.3,537.1 L291.7,536.8 L290.2,536.6 L288.6,536.3 L287.2,536.1 L285.7,535.8 L284.3,535.6 L282.9,535.3 L281.5,535.1 L280.1,534.8 L278.8,534.5 L277.5,534.3 L276.3,534.0 L275.0,533.7 L273.8,533.4 L272.6,533.2 L271.4,532.9 L270.2,532.6 L269.0,532.3 L267.9,532.0 L266.8,531.7 L265.7,531.4 L264.6,531.2 L263.5,530.9 L262.4,530.6 L261.4,530.3 L260.3,530.0 L259.2,529.7 L258.2,529.4 L257.2,529.1 L256.1,528.8 L255.1,528.5 L254.1,528.2 L253.1,527.9 L252.0,527.6 L251.0,527.3 L250.0,527.0 L249.0,526.7 L248.0,526.4 L246.9,526.1 L245.9,525.7 L244.9,525.4 L243.9,525.0 L242.9,524.7 L241.9,524.3 L241.0,524.0 L240.0,523.6 L239.0,523.2 L238.1,522.8 L237.1,522.5 L236.2,522.1 L235.3,521.7 L234.4,521.3 L233.5,520.9 L232.6,520.6 L231.7,520.2 L230.9,519.8 L230.0,519.4 L229.2,519.1 L228.4,518.7 L227.6,518.4 L226.9,518.0 L226.1,517.7 L225.4,517.3 L224.7,517.0 L224.0,516.7 L223.3,516.4 L222.7,516.1 L222.1,515.8 L221.5,515.5 L220.9,515.3 L220.3,515.0 L219.8,514.8 L219.3,514.6 L218.9,514.4 L218.4,514.2 L218.0,514.0 Z" fill="url(#pgrn)"/>
<path d="M218.0,514.0 L218.4,514.2 L218.9,514.4 L219.3,514.6 L219.8,514.8 L220.3,515.0 L220.9,515.3 L221.5,515.5 L222.1,515.8 L222.7,516.1 L223.3,516.4 L224.0,516.7 L224.7,517.0 L225.4,517.3 L226.1,517.7 L226.9,518.0 L227.6,518.4 L228.4,518.7 L229.2,519.1 L230.0,519.4 L230.9,519.8 L231.7,520.2 L232.6,520.6 L233.5,520.9 L234.4,521.3 L235.3,521.7 L236.2,522.1 L237.1,522.5 L238.1,522.8 L239.0,523.2 L240.0,523.6 L241.0,524.0 L241.9,524.3 L242.9,524.7 L243.9,525.0 L244.9,525.4 L245.9,525.7 L246.9,526.1 L248.0,526.4 L249.0,526.7 L250.0,527.0 L251.0,527.3 L252.0,527.6 L253.1,527.9 L254.1,528.2 L255.1,528.5 L256.1,528.8 L257.2,529.1 L258.2,529.4 L259.2,529.7 L260.3,530.0 L261.4,530.3 L262.4,530.6 L263.5,530.9 L264.6,531.2 L265.7,531.4 L266.8,531.7 L267.9,532.0 L269.0,532.3 L270.2,532.6 L271.4,532.9 L272.6,533.2 L273.8,533.4 L275.0,533.7 L276.3,534.0 L277.5,534.3 L278.8,534.5 L280.1,534.8 L281.5,535.1 L282.9,535.3 L284.3,535.6 L285.7,535.8 L287.2,536.1 L288.6,536.3 L290.2,536.6 L291.7,536.8 L293.3,537.1 L294.9,537.3 L296.6,537.5 L298.3,537.8 L300.0,538.0 L301.8,538.2 L303.6,538.4 L305.5,538.7 L307.4,538.9 L309.4,539.1 L311.4,539.3 L313.5,539.5 L315.6,539.7 L317.7,539.9 L319.9,540.1 L322.1,540.4 L324.3,540.6 L326.6,540.7 L328.9,540.9 L331.2,541.1 L333.5,541.3 L335.9,541.5 L338.2,541.7 L340.6,541.9 L343.0,542.1 L345.4,542.2 L347.8,542.4 L350.2,542.6 L352.7,542.8 L355.1,542.9 L357.5,543.1 L359.9,543.2 L362.3,543.4 L364.7,543.5 L367.1,543.7 L369.5,543.8 L371.9,544.0 L374.2,544.1 L376.6,544.3 L378.9,544.4 L381.1,544.5 L383.4,544.6 L385.6,544.8 L387.8,544.9 L390.0,545.0 L392.2,545.1 L394.4,545.2 L396.6,545.3 L398.9,545.4 L401.2,545.5 L403.5,545.6 L405.9,545.7 L408.2,545.8 L410.6,545.8 L413.0,545.9 L415.4,546.0 L417.8,546.0 L420.2,546.1 L422.6,546.1 L424.9,546.2 L427.3,546.3 L429.7,546.3 L432.0,546.4 L434.3,546.4 L436.6,546.4 L438.9,546.5 L441.1,546.5 L443.3,546.6 L445.5,546.6 L447.6,546.6 L449.7,546.6 L451.7,546.7 L453.7,546.7 L455.6,546.7 L457.5,546.8 L459.2,546.8 L461.0,546.8 L462.6,546.8 L464.2,546.9 L465.7,546.9 L467.2,546.9 L468.5,546.9 L469.8,547.0 L470.9,547.0 L472,547 L472,555 L470.9,555.0 L469.8,555.0 L468.5,555.0 L467.2,555.0 L465.7,555.0 L464.2,555.0 L462.6,554.9 L461.0,554.9 L459.2,554.9 L457.5,554.9 L455.6,554.9 L453.7,554.9 L451.7,554.9 L449.7,554.9 L447.6,554.9 L445.5,554.9 L443.3,554.9 L441.1,554.9 L438.9,554.9 L436.6,554.9 L434.3,554.9 L432.0,554.8 L429.7,554.8 L427.3,554.8 L424.9,554.8 L422.6,554.8 L420.2,554.7 L417.8,554.7 L415.4,554.7 L413.0,554.6 L410.6,554.6 L408.2,554.5 L405.9,554.5 L403.5,554.4 L401.2,554.4 L398.9,554.3 L396.6,554.2 L394.4,554.2 L392.2,554.1 L390.0,554.0 L387.8,553.9 L385.6,553.8 L383.4,553.7 L381.1,553.6 L378.9,553.5 L376.6,553.4 L374.2,553.3 L371.9,553.2 L369.5,553.1 L367.1,553.0 L364.7,552.9 L362.3,552.8 L359.9,552.7 L357.5,552.6 L355.1,552.5 L352.7,552.3 L350.2,552.2 L347.8,552.1 L345.4,552.0 L343.0,551.8 L340.6,551.7 L338.2,551.5 L335.9,551.4 L333.5,551.2 L331.2,551.1 L328.9,550.9 L326.6,550.7 L324.3,550.5 L322.1,550.4 L319.9,550.2 L317.7,550.0 L315.6,549.8 L313.5,549.6 L311.4,549.4 L309.4,549.2 L307.4,548.9 L305.5,548.7 L303.6,548.5 L301.8,548.2 L300.0,548.0 L298.3,547.7 L296.6,547.5 L294.9,547.2 L293.3,546.9 L291.7,546.6 L290.1,546.3 L288.6,546.0 L287.1,545.7 L285.7,545.4 L284.2,545.1 L282.8,544.7 L281.4,544.4 L280.1,544.0 L278.7,543.7 L277.4,543.3 L276.2,543.0 L274.9,542.6 L273.7,542.2 L272.4,541.9 L271.2,541.5 L270.1,541.1 L268.9,540.7 L267.8,540.4 L266.6,540.0 L265.5,539.6 L264.4,539.2 L263.3,538.8 L262.3,538.5 L261.2,538.1 L260.2,537.7 L259.1,537.3 L258.1,536.9 L257.1,536.6 L256.0,536.2 L255.0,535.8 L254.0,535.4 L253.0,535.1 L252.0,534.7 L251.0,534.4 L250.0,534.0 L249.0,533.6 L248.0,533.3 L247.0,532.9 L246.1,532.5 L245.1,532.2 L244.1,531.8 L243.2,531.4 L242.2,531.0 L241.3,530.6 L240.4,530.2 L239.5,529.8 L238.6,529.4 L237.7,529.0 L236.8,528.5 L236.0,528.1 L235.1,527.7 L234.3,527.3 L233.5,526.9 L232.7,526.5 L231.9,526.1 L231.1,525.7 L230.3,525.3 L229.6,525.0 L228.9,524.6 L228.2,524.2 L227.5,523.9 L226.8,523.5 L226.2,523.2 L225.5,522.8 L224.9,522.5 L224.3,522.2 L223.8,521.9 L223.2,521.6 L222.7,521.3 L222.2,521.1 L221.7,520.8 L221.2,520.6 L220.8,520.4 L220.4,520.2 L220.0,520.0 Z" fill="#dfe7e6"/>
<rect x="400" y="458" width="24" height="14" fill="#a87a38" opacity="0.8"/>
<rect x="404" y="472" width="9" height="18" fill="#a87a38" opacity="0.8"/>
<rect x="440" y="455" width="8" height="34" fill="#a87a38" opacity="0.8"/>
<rect x="412" y="506" width="8" height="30" fill="#a87a38" opacity="0.8"/>
<rect x="448" y="506" width="12" height="30" fill="#a87a38" opacity="0.8"/>
<rect x="360" y="470" width="8" height="6" fill="#a87a38" opacity="0.8"/>
<rect x="292" y="508" width="8" height="5" fill="#a87a38" opacity="0.8"/>
<rect x="382" y="506" width="7" height="7" fill="#a87a38" opacity="0.8"/>
<rect x="420" y="522" width="30" height="8" fill="#a87a38" opacity="0.8"/>
<rect x="396" y="452" width="5" height="40" fill="#8fae88" opacity="0.5"/>
<ellipse cx="425" cy="478" rx="24" ry="18" fill="url(#halo)"/>
<ellipse cx="458" cy="484" rx="15" ry="18" fill="url(#halo)"/>
<ellipse cx="420" cy="526" rx="24" ry="19" fill="url(#halo)"/>
<ellipse cx="456" cy="527" rx="15" ry="19" fill="url(#halo)"/>
<ellipse cx="430" cy="500" rx="10" ry="5" fill="url(#halo)"/>
<ellipse cx="345" cy="478" rx="15" ry="10" fill="url(#halo)"/>
<ellipse cx="347" cy="508" rx="14" ry="9" fill="url(#halo)"/>
<ellipse cx="275" cy="506" rx="13" ry="8" fill="url(#halo)"/>
<ellipse cx="300" cy="501" rx="11" ry="7" fill="url(#halo)"/>
<ellipse cx="308" cy="477" rx="12" ry="8" fill="url(#halo)"/>
<ellipse cx="262" cy="487" rx="8" ry="6" fill="url(#halo)"/>
<ellipse cx="260" cy="514" rx="8" ry="6" fill="url(#halo)"/>
<ellipse cx="228" cy="500" rx="12" ry="9" fill="url(#halo)"/>
<ellipse cx="215" cy="495" rx="8" ry="8" fill="url(#halo)"/>
<path d="M408,488 Q425,494 448,488" stroke="#ffffff" stroke-width="2.2" fill="none" opacity="0.8"/>
<path d="M440,488 Q455,490 468,496" stroke="#ffffff" stroke-width="2.2" fill="none" opacity="0.8"/>
<path d="M405,534 Q425,542 448,538" stroke="#ffffff" stroke-width="2.2" fill="none" opacity="0.8"/>
<path d="M445,530 Q458,537 468,546" stroke="#ffffff" stroke-width="2.2" fill="none" opacity="0.8"/>
<path d="M350,491 Q365,494 378,491" stroke="#ffffff" stroke-width="2.2" fill="none" opacity="0.8"/>
<path d="M300,518 Q318,521 335,519" stroke="#ffffff" stroke-width="2.2" fill="none" opacity="0.8"/>
<path d="M270,489 Q282,491 292,487" stroke="#ffffff" stroke-width="2.2" fill="none" opacity="0.8"/>
<path d="M320,479 Q335,483 350,481" stroke="#ffffff" stroke-width="2.2" fill="none" opacity="0.8"/>
<rect x="195" y="430" width="280" height="130" fill="#ffffff" opacity="0.12"/>
</g>
<path d="M456,435 Q472,436 472,456 L471,538 Q470,553 455,553" stroke="#e2e8e6" stroke-width="2" fill="none" opacity="0.8"/>
<path d="M157,475 L201,472.5 Q216,492 227,528 L223,541 L160,543 Q156,510 157,475 Z" fill="url(#pgrid)"/>
<path d="M157,475 L201,472.5 Q216,492 227,528 L223,541 L160,543 Q156,510 157,475 Z" fill="#e0eadc" opacity="0.15"/>
<path d="M201,472.5 Q216,492 227,528" stroke="#cfd9d4" stroke-width="1.5" fill="none" opacity="0.8"/>
<circle cx="338.5" cy="476.6" r="4.8" fill="url(#bub)"/>
<circle cx="350.3" cy="475" r="4.8" fill="url(#bub)"/>
<circle cx="417.5" cy="471.5" r="5.4" fill="url(#bub)"/>
<circle cx="430" cy="467.5" r="5.4" fill="url(#bub)"/>
<circle cx="456" cy="475" r="5.4" fill="url(#bub)"/>
<circle cx="467.3" cy="475" r="5.4" fill="url(#bub)"/>
<circle cx="340" cy="507" r="4.8" fill="url(#bub)"/>
<circle cx="353" cy="507" r="4.8" fill="url(#bub)"/>
<circle cx="408" cy="519" r="5.4" fill="url(#bub)"/>
<circle cx="421.5" cy="525" r="5.4" fill="url(#bub)"/>
<circle cx="453.7" cy="515.6" r="5.4" fill="url(#bub)"/>
<circle cx="466.3" cy="519.7" r="5.4" fill="url(#bub)"/>
<circle cx="272.7" cy="502.8" r="4.0" fill="url(#bub)"/>
<circle cx="276" cy="510.5" r="4.0" fill="url(#bub)"/>
<circle cx="294.8" cy="500.5" r="4.0" fill="url(#bub)"/>
<circle cx="305.4" cy="502.8" r="4.0" fill="url(#bub)"/>
<circle cx="303.6" cy="474" r="4.0" fill="url(#bub)"/>
<circle cx="313.5" cy="480.3" r="4.0" fill="url(#bub)"/>
<circle cx="262.8" cy="487.3" r="4.0" fill="url(#bub)"/>
<circle cx="258.4" cy="516" r="4.0" fill="url(#bub)"/>
<circle cx="240" cy="497" r="3.2" fill="url(#bub)"/>
<circle cx="225" cy="496" r="3.2" fill="url(#bub)"/>
<circle cx="232" cy="510" r="3.2" fill="url(#bub)"/>
<circle cx="215" cy="493" r="3.2" fill="url(#bub)"/>
<circle cx="403.1" cy="397.7" r="1.6" fill="#f2f2f2"/>
<circle cx="399.6" cy="401.2" r="3.9" fill="url(#wat)"/>
<circle cx="370.9" cy="409.9" r="1.5" fill="#f2f2f2"/>
<circle cx="367.8" cy="413" r="3.5" fill="url(#wat)"/>
<circle cx="384.7" cy="415.7" r="1.5" fill="#f2f2f2"/>
<circle cx="381.4" cy="419" r="3.7" fill="url(#wat)"/>
<circle cx="342.2" cy="420.4" r="1.3" fill="#f2f2f2"/>
<circle cx="339.4" cy="423.2" r="3.1" fill="url(#wat)"/>
<circle cx="354.7" cy="425.7" r="1.4" fill="#f2f2f2"/>
<circle cx="351.7" cy="428.7" r="3.3" fill="url(#wat)"/>
<circle cx="402.2" cy="423.9" r="1.6" fill="#f2f2f2"/>
<circle cx="398.7" cy="427.4" r="3.9" fill="url(#wat)"/>
<circle cx="316.1" cy="430.4" r="1.2" fill="#f2f2f2"/>
<circle cx="313.6" cy="432.9" r="2.8" fill="url(#wat)"/>
<circle cx="329.0" cy="434.5" r="1.2" fill="#f2f2f2"/>
<circle cx="326.3" cy="437.2" r="3.0" fill="url(#wat)"/>
<circle cx="370.9" cy="432.8" r="1.5" fill="#f2f2f2"/>
<circle cx="367.8" cy="435.9" r="3.5" fill="url(#wat)"/>
<circle cx="301.6" cy="436.0" r="1.1" fill="#f2f2f2"/>
<circle cx="299.2" cy="438.4" r="2.6" fill="url(#wat)"/>
<circle cx="341.8" cy="441.6" r="1.3" fill="#f2f2f2"/>
<circle cx="339" cy="444.4" r="3.1" fill="url(#wat)"/>
<circle cx="286.2" cy="441.3" r="1.0" fill="#f2f2f2"/>
<circle cx="284" cy="443.5" r="2.4" fill="url(#wat)"/>
<circle cx="295.2" cy="445.4" r="1.1" fill="#f2f2f2"/>
<circle cx="292.9" cy="447.7" r="2.5" fill="url(#wat)"/>
<circle cx="270.7" cy="447.9" r="0.9" fill="#f2f2f2"/>
<circle cx="268.7" cy="449.9" r="2.2" fill="url(#wat)"/>
<circle cx="280.1" cy="450.7" r="1.0" fill="#f2f2f2"/>
<circle cx="278" cy="452.8" r="2.4" fill="url(#wat)"/>
<circle cx="254.5" cy="454.4" r="0.9" fill="#f2f2f2"/>
<circle cx="252.7" cy="456.2" r="2.0" fill="url(#wat)"/>
<circle cx="261.8" cy="457.3" r="0.9" fill="#f2f2f2"/>
<circle cx="259.9" cy="459.2" r="2.1" fill="url(#wat)"/>
<circle cx="238.3" cy="460.0" r="0.8" fill="#f2f2f2"/>
<circle cx="236.6" cy="461.7" r="1.8" fill="url(#wat)"/>
<circle cx="246.7" cy="463.0" r="0.8" fill="#f2f2f2"/>
<circle cx="245" cy="464.7" r="1.9" fill="url(#wat)"/>
<circle cx="227.5" cy="466.1" r="0.7" fill="#f2f2f2"/>
<circle cx="226" cy="467.6" r="1.7" fill="url(#wat)"/>
<circle cx="233.9" cy="468.6" r="0.7" fill="#f2f2f2"/>
<circle cx="232.3" cy="470.2" r="1.8" fill="url(#wat)"/>
<circle cx="216.8" cy="468.4" r="0.7" fill="#f2f2f2"/>
<circle cx="215.4" cy="469.8" r="1.6" fill="url(#wat)"/>
<circle cx="222.0" cy="470.8" r="0.7" fill="#f2f2f2"/>
<circle cx="220.5" cy="472.3" r="1.6" fill="url(#wat)"/>
<circle cx="288.2" cy="473.0" r="1.0" fill="#f2f2f2"/>
<circle cx="286" cy="475.2" r="2.5" fill="url(#wat)"/>
<circle cx="322.6" cy="449.4" r="1.2" fill="#f2f2f2"/>
<circle cx="320" cy="452" r="2.9" fill="url(#wat)"/>
<circle cx="352.9" cy="445.1" r="1.4" fill="#f2f2f2"/>
<circle cx="350" cy="448" r="3.3" fill="url(#wat)"/>
<circle cx="383.3" cy="442.7" r="1.5" fill="#f2f2f2"/>
<circle cx="380" cy="446" r="3.6" fill="url(#wat)"/>
<text x="19" y="418.6" font-size="16" font-weight="bold" fill="#111" textLength="252" lengthAdjust="spacingAndGlyphs">High-Efficiency Triple-Phase Interface</text>
<text x="19.9" y="445.6" font-size="12" font-weight="bold" fill="#111" textLength="89.6" lengthAdjust="spacingAndGlyphs">Super-hydrophilic</text>
<text x="19.9" y="460.2" font-size="12" fill="#222" textLength="162.6" lengthAdjust="spacingAndGlyphs">radially aligned nanorod bundles</text>
<text x="33.3" y="587.8" font-size="16.5" font-weight="bold" fill="#111" textLength="178.7" lengthAdjust="spacingAndGlyphs">mesoporous solid solution</text>
<text x="273.8" y="572.8" font-size="10" fill="#222" textLength="126.2" lengthAdjust="spacingAndGlyphs">*O atoms omitted for clarity</text>
<text x="484.1" y="412.1" font-size="12" font-weight="bold" fill="#111" textLength="186.8" lengthAdjust="spacingAndGlyphs">Atomically dispersed Ru–O–Ti motifs</text>
<text x="484.1" y="426.1" font-size="12" fill="#222" textLength="175.8" lengthAdjust="spacingAndGlyphs">favoring oxide pathway mechanism</text>
<text x="484.1" y="460.7" font-size="12" font-weight="bold" fill="#111" textLength="112.1" lengthAdjust="spacingAndGlyphs">Mesoporous channels</text>
<text x="484.1" y="475.4" font-size="12" fill="#222" textLength="158.5" lengthAdjust="spacingAndGlyphs">facilitating rapid mass transport</text>
<text x="484.1" y="509.6" font-size="12" font-weight="bold" fill="#111" textLength="153.8" lengthAdjust="spacingAndGlyphs">Aerophobic solid-gas interface</text>
<text x="484.1" y="524.6" font-size="12" fill="#222"><tspan textLength="89" lengthAdjust="spacingAndGlyphs">enabling instant O</tspan><tspan font-size="7.5" dy="1.6">2</tspan><tspan dy="-1.6" textLength="79" lengthAdjust="spacingAndGlyphs"> bubble release</tspan></text>
<circle cx="487.9" cy="564.1" r="6.3" fill="url(#gRu)"/>
<circle cx="560.4" cy="564.1" r="6.3" fill="url(#gTi)"/>
<text x="498.9" y="568.4" font-size="12" fill="#222" textLength="41.7" lengthAdjust="spacingAndGlyphs">Ru atom</text>
<text x="572" y="568.4" font-size="12" fill="#222" textLength="40.8" lengthAdjust="spacingAndGlyphs">Ti&#160; atom</text>
</svg></body></html>
